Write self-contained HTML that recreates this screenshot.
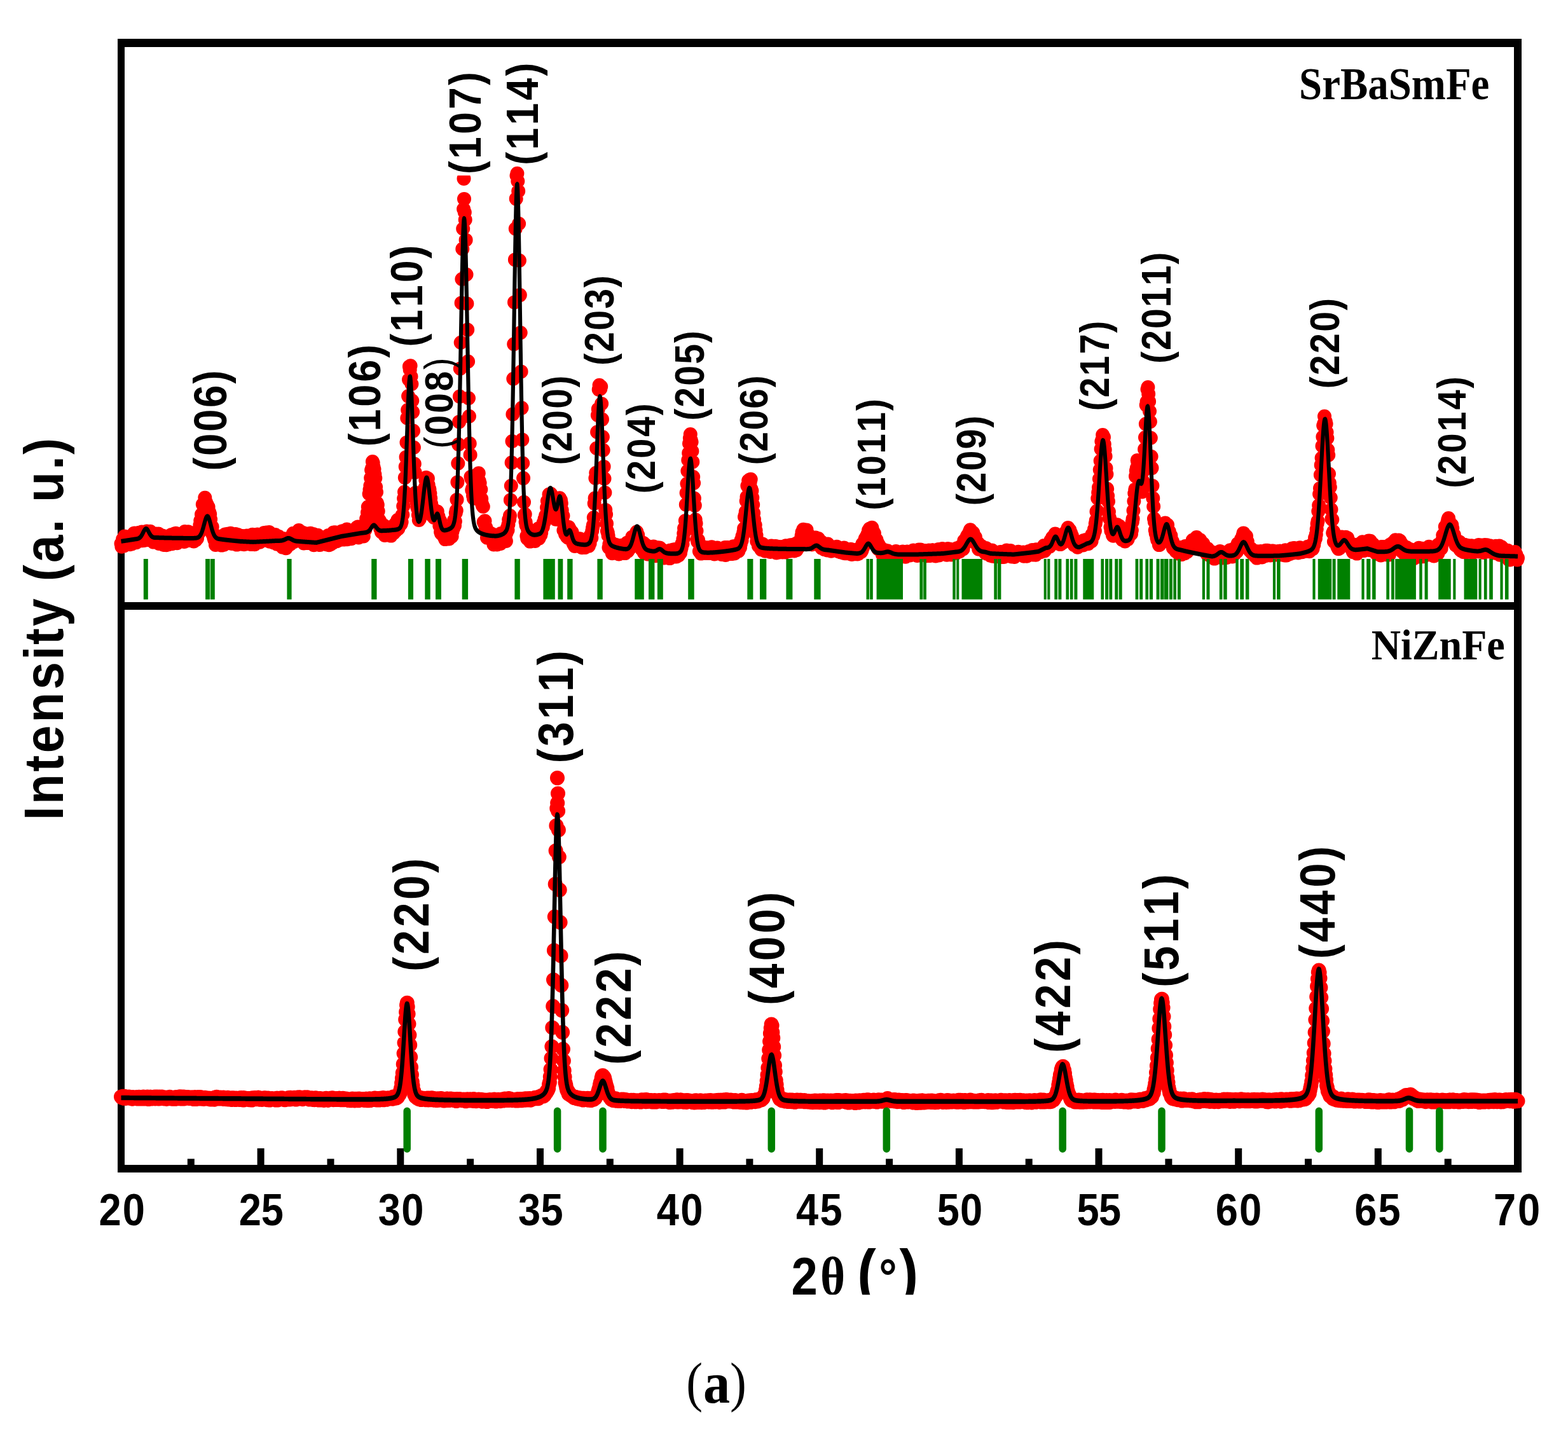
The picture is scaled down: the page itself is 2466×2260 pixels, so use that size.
<!DOCTYPE html>
<html lang="en"><head><meta charset="utf-8"><title>XRD patterns</title>
<style>html,body{margin:0;padding:0;background:#fff}svg{display:block}</style></head>
<body>
<svg width="2466" height="2260" viewBox="0 0 2466 2260" font-family="'Liberation Sans', sans-serif" fill="#000">
<rect width="2466" height="2260" fill="#fff"/>
<g id="frame" fill="#000">
<rect x="185" y="61" width="11" height="1783"/>
<rect x="2381" y="61" width="12" height="1783"/>
<rect x="185" y="61" width="2208" height="13"/>
<rect x="185" y="947" width="2208" height="12"/>
<rect x="185" y="1832" width="2208" height="12"/>
<rect x="294.8" y="1822.5" width="11" height="10.5"/>
<rect x="404.6" y="1806" width="11" height="27"/>
<rect x="514.5" y="1822.5" width="11" height="10.5"/>
<rect x="624.3" y="1806" width="11" height="27"/>
<rect x="734.1" y="1822.5" width="11" height="10.5"/>
<rect x="844.0" y="1806" width="11" height="27"/>
<rect x="953.8" y="1822.5" width="11" height="10.5"/>
<rect x="1063.6" y="1806" width="11" height="27"/>
<rect x="1173.4" y="1822.5" width="11" height="10.5"/>
<rect x="1283.2" y="1806" width="11" height="27"/>
<rect x="1393.1" y="1822.5" width="11" height="10.5"/>
<rect x="1502.9" y="1806" width="11" height="27"/>
<rect x="1612.7" y="1822.5" width="11" height="10.5"/>
<rect x="1722.5" y="1806" width="11" height="27"/>
<rect x="1832.4" y="1822.5" width="11" height="10.5"/>
<rect x="1942.2" y="1806" width="11" height="27"/>
<rect x="2052.0" y="1822.5" width="11" height="10.5"/>
<rect x="2161.8" y="1806" width="11" height="27"/>
<rect x="2271.7" y="1822.5" width="11" height="10.5"/>
</g>
<path id="top-data" d="M190.5 855.1h0M191.4 859.7h0M192.3 857.5h0M193.1 848h0M194 849h0M194.9 858.5h0M195.8 843.5h0M196.7 856.9h0M197.5 856.1h0M198.4 850.2h0M199.3 847h0M200.2 846.1h0M201 845.3h0M201.9 848.1h0M202.8 848.7h0M203.7 849.2h0M204.6 856.3h0M205.4 852.6h0M206.3 849.4h0M207.2 855.4h0M208.1 842h0M209 840.9h0M209.8 848.4h0M210.7 838.7h0M211.6 838.4h0M212.5 846.5h0M213.3 845.7h0M214.2 853.3h0M215.1 848.4h0M216 846.5h0M216.9 846.2h0M217.7 841.9h0M218.6 837.8h0M219.5 840.7h0M220.4 849h0M221.3 840.4h0M222.1 843.1h0M223 836.5h0M223.9 850.2h0M224.8 838.4h0M225.6 839.9h0M226.5 850h0M227.4 843.3h0M228.3 848.8h0M229.2 845h0M230 846.6h0M230.9 835.5h0M231.8 843.2h0M232.7 842.7h0M233.6 849.1h0M234.4 840.5h0M235.3 844.8h0M236.2 835.8h0M237.1 841.6h0M237.9 840.7h0M238.8 837.9h0M239.7 849.4h0M240.6 842.2h0M241.5 852.6h0M242.3 846.1h0M243.2 846.6h0M244.1 847.3h0M245 848.2h0M245.9 839.4h0M246.7 844.6h0M247.6 841.4h0M248.5 844.5h0M249.4 839.6h0M250.2 854.9h0M251.1 842.3h0M252 850.5h0M252.9 844.4h0M253.8 854.6h0M254.6 851.3h0M255.5 842.4h0M256.4 854.9h0M257.3 856.9h0M258.2 856.4h0M259 850.8h0M259.9 843.6h0M260.8 844.5h0M261.7 857.2h0M262.5 850.8h0M263.4 844.4h0M264.3 856.4h0M265.2 852.2h0M266.1 850.9h0M266.9 847.4h0M267.8 847.8h0M268.7 844.7h0M269.6 841h0M270.5 855.2h0M271.3 847.9h0M272.2 849h0M273.1 844.9h0M274 852h0M274.8 839.2h0M275.7 844.8h0M276.6 838.7h0M277.5 840h0M278.4 854.2h0M279.2 848.6h0M280.1 844.4h0M281 845.8h0M281.9 851.6h0M282.8 842.3h0M283.6 846.4h0M284.5 847.9h0M285.4 842.1h0M286.3 844.9h0M287.1 849.1h0M288 851.5h0M288.9 838.5h0M289.8 852h0M290.7 836h0M291.5 848.9h0M292.4 850h0M293.3 838.4h0M294.2 843.3h0M295.1 850.1h0M295.9 836.3h0M296.8 846.9h0M297.7 849.8h0M298.6 844.9h0M299.4 848.5h0M300.3 839.8h0M301.2 839.3h0M302.1 842h0M303 838.6h0M303.8 841.3h0M304.7 851.5h0M305.6 844.6h0M306.5 840h0M307.4 838.2h0M308.2 849.1h0M309.1 839.1h0M310 846.9h0M310.9 836.9h0M311.7 834.7h0M312.6 838.4h0M313.5 832.4h0M314.4 825.8h0M315.3 818.9h0M316.1 822.1h0M317 809.1h0M317.9 813h0M318.8 793.3h0M319.7 795h0M320.5 792.6h0M321.4 796.9h0M322.3 782.7h0M323.2 791.4h0M324 789.7h0M324.9 792.2h0M325.8 793.7h0M326.7 803.6h0M327.6 797.3h0M328.4 803.7h0M329.3 805.7h0M330.2 808.6h0M331.1 816.7h0M332 833.9h0M332.8 837.2h0M333.7 828.6h0M334.6 840.7h0M335.5 841.5h0M336.3 845.9h0M337.2 849h0M338.1 844.5h0M339 857h0M339.9 849.3h0M340.7 852.7h0M341.6 853.2h0M342.5 845.6h0M343.4 843.6h0M344.3 849.7h0M345.1 855.7h0M346 856.5h0M346.9 854.8h0M347.8 843.9h0M348.6 857.6h0M349.5 855.4h0M350.4 856.5h0M351.3 850h0M352.2 856.6h0M353 841.2h0M353.9 840.6h0M354.8 840.2h0M355.7 844h0M356.6 843.7h0M357.4 842.4h0M358.3 848.8h0M359.2 839.4h0M360.1 848.9h0M360.9 841.4h0M361.8 850.3h0M362.7 838.8h0M363.6 843.9h0M364.5 854.9h0M365.3 848h0M366.2 852.9h0M367.1 850.3h0M368 849.7h0M368.9 842.5h0M369.7 849.3h0M370.6 840.1h0M371.5 853.6h0M372.4 856.6h0M373.2 854.9h0M374.1 840.9h0M375 846.1h0M375.9 845.8h0M376.8 842.3h0M377.6 851.4h0M378.5 854.5h0M379.4 846h0M380.3 855.7h0M381.2 854.6h0M382 842.9h0M382.9 854.1h0M383.8 856.2h0M384.7 844.1h0M385.5 850.8h0M386.4 851.9h0M387.3 851.4h0M388.2 842.4h0M389.1 852.3h0M389.9 851.8h0M390.8 855.2h0M391.7 854.8h0M392.6 846.3h0M393.5 853.2h0M394.3 855.7h0M395.2 856.1h0M396.1 843.1h0M397 840.7h0M397.8 851.6h0M398.7 843.7h0M399.6 849.7h0M400.5 856.2h0M401.4 846.1h0M402.2 843.7h0M403.1 847.1h0M404 850.5h0M404.9 840.5h0M405.8 845.3h0M406.6 840.8h0M407.5 849.9h0M408.4 852.7h0M409.3 844.6h0M410.1 844.3h0M411 847.1h0M411.9 841.2h0M412.8 841.6h0M413.7 842.9h0M414.5 844.9h0M415.4 838.1h0M416.3 849.8h0M417.2 846.6h0M418.1 841.4h0M418.9 837.4h0M419.8 849.4h0M420.7 838.1h0M421.6 838.1h0M422.5 838h0M423.3 837.1h0M424.2 851.8h0M425.1 840.7h0M426 841.5h0M426.8 851.1h0M427.7 847.6h0M428.6 840.3h0M429.5 845.1h0M430.4 853.5h0M431.2 845h0M432.1 851.5h0M433 841.1h0M433.9 852.8h0M434.8 854.2h0M435.6 855.6h0M436.5 853.5h0M437.4 848.6h0M438.3 843.7h0M439.1 852.2h0M440 856.9h0M440.9 847.2h0M441.8 848.8h0M442.7 853.8h0M443.5 857.8h0M444.4 860.6h0M445.3 846.9h0M446.2 848h0M447.1 858.9h0M447.9 856.1h0M448.8 857.4h0M449.7 862.2h0M450.6 861h0M451.4 859.1h0M452.3 857.7h0M453.2 850.7h0M454.1 854.8h0M455 846.3h0M455.8 856.2h0M456.7 855.7h0M457.6 854.4h0M458.5 848.8h0M459.4 846.9h0M460.2 846.7h0M461.1 838.8h0M462 852.2h0M462.9 845.7h0M463.7 841.8h0M464.6 843.6h0M465.5 845.7h0M466.4 838.8h0M467.3 846.3h0M468.1 847.7h0M469 838.2h0M469.9 834h0M470.8 845.7h0M471.7 850.5h0M472.5 836h0M473.4 846.9h0M474.3 849.6h0M475.2 851.9h0M476 838.2h0M476.9 838h0M477.8 854.5h0M478.7 839.1h0M479.6 840.4h0M480.4 847.7h0M481.3 845.5h0M482.2 851h0M483.1 841.1h0M484 854.1h0M484.8 841.7h0M485.7 851.6h0M486.6 839.1h0M487.5 846.5h0M488.3 838.7h0M489.2 843.9h0M490.1 844h0M491 851.5h0M491.9 847h0M492.7 840.1h0M493.6 857.2h0M494.5 855.6h0M495.4 856.4h0M496.3 844.7h0M497.1 847.7h0M498 845h0M498.9 843.2h0M499.8 841.7h0M500.6 850.3h0M501.5 843.6h0M502.4 844.7h0M503.3 857.1h0M504.2 850.4h0M505 845.1h0M505.9 853.9h0M506.8 846.6h0M507.7 851.3h0M508.6 846.9h0M509.4 851h0M510.3 852.9h0M511.2 851.1h0M512.1 848.4h0M512.9 855.3h0M513.8 856.5h0M514.7 843.7h0M515.6 842.6h0M516.5 841.9h0M517.3 857.2h0M518.2 856.1h0M519.1 843h0M520 856h0M520.9 841.8h0M521.7 846.9h0M522.6 846.4h0M523.5 853.6h0M524.4 837.5h0M525.2 842.2h0M526.1 847.1h0M527 837.2h0M527.9 840h0M528.8 843.9h0M529.6 851.1h0M530.5 848.7h0M531.4 849.7h0M532.3 848.2h0M533.2 846.9h0M534 849.2h0M534.9 845.8h0M535.8 846.5h0M536.7 838.3h0M537.5 835.6h0M538.4 846h0M539.3 835.1h0M540.2 848.6h0M541.1 842.5h0M541.9 837.5h0M542.8 848.3h0M543.7 834h0M544.6 840.4h0M545.5 832.6h0M546.3 848.3h0M547.2 841.2h0M548.1 845.2h0M549 835.6h0M549.8 845h0M550.7 843.1h0M551.6 841.9h0M552.5 847.3h0M553.4 837.8h0M554.2 837.3h0M555.1 842.2h0M556 844.6h0M556.9 835.4h0M557.8 841.3h0M558.6 832.7h0M559.5 838.8h0M560.4 842.6h0M561.3 829.6h0M562.1 841.5h0M563 828.4h0M563.9 845.5h0M564.8 836.5h0M565.7 835.4h0M566.5 841h0M567.4 837.4h0M568.3 841.1h0M569.2 829.3h0M570.1 837.8h0M570.9 837.3h0M571.8 843.5h0M572.7 826.3h0M573.6 832.3h0M574.4 833.3h0M575.3 828.7h0M576.2 815.8h0M577.1 819.8h0M578 806.1h0M578.8 797.3h0M579.7 800h0M580.6 776.8h0M581.5 770h0M582.4 763.7h0M583.2 751.8h0M584.1 739.3h0M585 736.6h0M585.9 726h0M586.7 728.1h0M587.6 734.6h0M588.5 738.1h0M589.4 746h0M590.3 752h0M591.1 765.8h0M592 774h0M592.9 791h0M593.8 794.1h0M594.7 804.1h0M595.5 816.5h0M596.4 817.7h0M597.3 819.3h0M598.2 831.8h0M599 826.4h0M599.9 836.8h0M600.8 837.3h0M601.7 832.2h0M602.6 837.9h0M603.4 826.2h0M604.3 833.1h0M605.2 842h0M606.1 837.1h0M607 836.9h0M607.8 838.9h0M608.7 839.1h0M609.6 837.3h0M610.5 834.1h0M611.3 829.6h0M612.2 831.2h0M613.1 830.8h0M614 832.8h0M614.9 842.6h0M615.7 830.2h0M616.6 831.2h0M617.5 829.1h0M618.4 832.3h0M619.3 838.3h0M620.1 836.6h0M621 826.6h0M621.9 823.9h0M622.8 834.5h0M623.6 826.8h0M624.5 829.6h0M625.4 817.8h0M626.3 831.5h0M627.2 820.7h0M628 823h0M628.9 816.4h0M629.8 818.9h0M630.7 824.1h0M631.6 821h0M632.4 810.2h0M633.3 809.6h0M634.2 796h0M635.1 784h0M636 773.8h0M636.8 751.2h0M637.7 734h0M638.6 718.9h0M639.5 695.9h0M640.3 657.5h0M641.2 644.7h0M642.1 623.1h0M643 597h0M643.9 576.4h0M644.7 581.4h0M645.6 575.3h0M646.5 592.3h0M647.4 604h0M648.3 630.2h0M649.1 647.9h0M650 677.6h0M650.9 703.8h0M651.8 729.5h0M652.6 742.9h0M653.5 774.9h0M654.4 777.6h0M655.3 789.6h0M656.2 797.4h0M657 800h0M657.9 810.1h0M658.8 818h0M659.7 816.7h0M660.6 805.7h0M661.4 801.7h0M662.3 800.9h0M663.2 803.9h0M664.1 793h0M664.9 794.5h0M665.8 783h0M666.7 775.8h0M667.6 772.3h0M668.5 766.7h0M669.3 755.2h0M670.2 751.1h0M671.1 753.7h0M672 755.9h0M672.9 752.5h0M673.7 762.6h0M674.6 771.9h0M675.5 769.2h0M676.4 776.1h0M677.2 783.6h0M678.1 792.1h0M679 810.2h0M679.9 798.1h0M680.8 804.8h0M681.6 807h0M682.5 814h0M683.4 805.8h0M684.3 813.1h0M685.2 806.5h0M686 807h0M686.9 815.7h0M687.8 804.6h0M688.7 813.8h0M689.5 812.4h0M690.4 816h0M691.3 827h0M692.2 819h0M693.1 836.5h0M693.9 839h0M694.8 837.5h0M695.7 828.2h0M696.6 840.7h0M697.5 840.6h0M698.3 844.3h0M699.2 834.5h0M700.1 848.1h0M701 847h0M701.8 832.9h0M702.7 836.4h0M703.6 831.1h0M704.5 845.3h0M705.4 846.5h0M706.2 847.5h0M707.1 840.2h0M708 840.7h0M708.9 840.3h0M709.8 837.6h0M710.6 843.6h0M711.5 836.1h0M712.4 829.5h0M713.3 830.5h0M714.1 818.3h0M715 826.7h0M715.9 820h0M716.8 806.6h0M717.7 802.9h0M718.5 785.9h0M719.4 758.4h0M720.3 728.7h0M721.2 699h0M722.1 663.4h0M722.9 623.6h0M723.8 579.7h0M724.7 538.8h0M725.6 476.4h0M726.4 439h0M727.3 391.5h0M728.2 359.8h0M729.1 328.7h0M730 312.9h0M730.8 334h0M731.7 345.6h0M732.6 377.4h0M733.5 431.8h0M734.4 477.5h0M735.2 518.6h0M736.1 568.5h0M737 626.3h0M737.9 654.8h0M738.7 697.5h0M739.6 715.4h0M740.5 749.9h0M741.4 753.1h0M742.3 770.9h0M743.1 768h0M744 779.4h0M744.9 783.8h0M745.8 766.7h0M746.7 765.4h0M747.5 768.8h0M748.4 760.3h0M749.3 749.8h0M750.2 751.5h0M751 745.9h0M751.9 752.9h0M752.8 744.2h0M753.7 756.4h0M754.6 759.7h0M755.4 768.5h0M756.3 769.8h0M757.2 784.6h0M758.1 792.7h0M759 795.4h0M759.8 796.7h0M760.7 821h0M761.6 822.9h0M762.5 819.2h0M763.3 833.6h0M764.2 829.3h0M765.1 836h0M766 845.7h0M766.9 840.3h0M767.7 839h0M768.6 840.6h0M769.5 837.4h0M770.4 840.8h0M771.3 842.4h0M772.1 841.2h0M773 839.6h0M773.9 847.3h0M774.8 843.1h0M775.6 852.9h0M776.5 856.5h0M777.4 844.9h0M778.3 850.5h0M779.2 849.4h0M780 841.7h0M780.9 842.6h0M781.8 856.5h0M782.7 848.9h0M783.6 854.8h0M784.4 841.2h0M785.3 850.6h0M786.2 855.3h0M787.1 855h0M787.9 839.1h0M788.8 848.1h0M789.7 844.9h0M790.6 851.6h0M791.5 838.7h0M792.3 841.6h0M793.2 851h0M794.1 844h0M795 842.8h0M795.9 851h0M796.7 837.7h0M797.6 830.5h0M798.5 833.8h0M799.4 825h0M800.2 817.3h0M801.1 816.9h0M802 811h0M802.9 786.4h0M803.8 764h0M804.6 727.6h0M805.5 694h0M806.4 651.5h0M807.3 595.7h0M808.2 541.2h0M809 475.4h0M809.9 408.4h0M810.8 359.8h0M811.7 312.6h0M812.5 276.2h0M813.4 272.7h0M814.3 285h0M815.2 300.6h0M816.1 351.8h0M816.9 409.7h0M817.8 464.1h0M818.7 523.3h0M819.6 584.4h0M820.5 641.6h0M821.3 691.4h0M822.2 728.5h0M823.1 752.1h0M824 789.8h0M824.8 810.3h0M825.7 808.8h0M826.6 821.1h0M827.5 826.3h0M828.4 843h0M829.2 847h0M830.1 833.1h0M831 839.5h0M831.9 837.7h0M832.8 843.1h0M833.6 851.6h0M834.5 836.2h0M835.4 838h0M836.3 843.7h0M837.1 844.3h0M838 848.2h0M838.9 842.2h0M839.8 836.4h0M840.7 840h0M841.5 851h0M842.4 846.5h0M843.3 834.6h0M844.2 846.8h0M845.1 837.4h0M845.9 845.6h0M846.8 831.2h0M847.7 846.6h0M848.6 833.5h0M849.5 838.4h0M850.3 841.6h0M851.2 838h0M852.1 830.6h0M853 828.5h0M853.8 829h0M854.7 822.1h0M855.6 821.9h0M856.5 816.4h0M857.4 817.9h0M858.2 810.9h0M859.1 809.6h0M860 798.3h0M860.9 788h0M861.8 787.9h0M862.6 790.7h0M863.5 777.6h0M864.4 777.5h0M865.3 782.6h0M866.1 776.6h0M867 787.2h0M867.9 791h0M868.8 784.2h0M869.7 796.7h0M870.5 792.8h0M871.4 795.2h0M872.3 804.2h0M873.2 809.7h0M874.1 816.7h0M874.9 801.7h0M875.8 809.9h0M876.7 802.3h0M877.6 792.1h0M878.4 803.4h0M879.3 795.2h0M880.2 783.3h0M881.1 798.1h0M882 786.6h0M882.8 791.5h0M883.7 802.4h0M884.6 820.6h0M885.5 811.3h0M886.4 834h0M887.2 833.9h0M888.1 828.2h0M889 840.2h0M889.9 839.7h0M890.7 841.9h0M891.6 844.3h0M892.5 841.8h0M893.4 845.8h0M894.3 828.9h0M895.1 839.7h0M896 832.1h0M896.9 839.6h0M897.8 843.2h0M898.7 847.3h0M899.5 836.7h0M900.4 842.7h0M901.3 854h0M902.2 856.1h0M903 847.4h0M903.9 858.9h0M904.8 850.3h0M905.7 850.4h0M906.6 857.8h0M907.4 853.1h0M908.3 853h0M909.2 852.2h0M910.1 853.3h0M911 848.4h0M911.8 847.2h0M912.7 859.8h0M913.6 856.7h0M914.5 858.8h0M915.3 861.3h0M916.2 851.3h0M917.1 851.5h0M918 852.4h0M918.9 853h0M919.7 861.1h0M920.6 854.2h0M921.5 853.2h0M922.4 858.5h0M923.3 850.3h0M924.1 848.6h0M925 858.5h0M925.9 858.8h0M926.8 849.9h0M927.6 854.6h0M928.5 842.4h0M929.4 846.4h0M930.3 845.9h0M931.2 835.3h0M932 830.3h0M932.9 825.9h0M933.8 814h0M934.7 791.8h0M935.6 783.6h0M936.4 752h0M937.3 743.7h0M938.2 705h0M939.1 679.5h0M939.9 653h0M940.8 643.4h0M941.7 612.6h0M942.6 605.8h0M943.5 608.1h0M944.3 611.5h0M945.2 608.1h0M946.1 634.9h0M947 659.6h0M947.9 687.3h0M948.7 708h0M949.6 733.9h0M950.5 752.7h0M951.4 774.8h0M952.2 801.9h0M953.1 809.1h0M954 823.4h0M954.9 835.1h0M955.8 837.8h0M956.6 842.5h0M957.5 861.3h0M958.4 855.8h0M959.3 853.9h0M960.2 863.7h0M961 853.1h0M961.9 857.8h0M962.8 870.3h0M963.7 869.7h0M964.5 865.7h0M965.4 857.1h0M966.3 861.1h0M967.2 856.6h0M968.1 860h0M968.9 856.9h0M969.8 858.7h0M970.7 867.1h0M971.6 858.5h0M972.5 859.4h0M973.3 871.5h0M974.2 862.2h0M975.1 862.1h0M976 858h0M976.8 869.4h0M977.7 867.3h0M978.6 865h0M979.5 865.9h0M980.4 857.3h0M981.2 859.6h0M982.1 864.5h0M983 870.1h0M983.9 867.6h0M984.8 864.4h0M985.6 862h0M986.5 853.4h0M987.4 866.7h0M988.3 852.9h0M989.1 853.1h0M990 861.2h0M990.9 862h0M991.8 860.4h0M992.7 853.8h0M993.5 848.1h0M994.4 844.4h0M995.3 855.7h0M996.2 856.1h0M997.1 843.2h0M997.9 851.7h0M998.8 843.4h0M999.7 841.4h0M1000.6 844.1h0M1001.4 836.6h0M1002.3 844h0M1003.2 841.3h0M1004.1 850.6h0M1005 849h0M1005.8 856.4h0M1006.7 858.6h0M1007.6 851.4h0M1008.5 852.5h0M1009.4 864.2h0M1010.2 858.9h0M1011.1 853.8h0M1012 854.1h0M1012.9 869.4h0M1013.7 863.8h0M1014.6 856.4h0M1015.5 863.8h0M1016.4 864h0M1017.3 863.3h0M1018.1 871.3h0M1019 871.6h0M1019.9 859.4h0M1020.8 860.1h0M1021.7 864.2h0M1022.5 870.8h0M1023.4 867.8h0M1024.3 869.6h0M1025.2 867.5h0M1026 862.2h0M1026.9 871.4h0M1027.8 859.5h0M1028.7 869.8h0M1029.6 862.5h0M1030.4 866.7h0M1031.3 874.3h0M1032.2 868h0M1033.1 861h0M1034 866.6h0M1034.8 870.2h0M1035.7 861.5h0M1036.6 864.6h0M1037.5 861.4h0M1038.3 869.3h0M1039.2 867.3h0M1040.1 869.4h0M1041 866.6h0M1041.9 872.2h0M1042.7 865.5h0M1043.6 876.4h0M1044.5 877.5h0M1045.4 871.1h0M1046.3 870.9h0M1047.1 876.8h0M1048 868.8h0M1048.9 876.3h0M1049.8 869.1h0M1050.6 875.3h0M1051.5 869.8h0M1052.4 873.6h0M1053.3 878.1h0M1054.2 865.6h0M1055 876h0M1055.9 872.1h0M1056.8 869.5h0M1057.7 868.8h0M1058.6 864.6h0M1059.4 866.9h0M1060.3 871.7h0M1061.2 864h0M1062.1 871.7h0M1062.9 875.5h0M1063.8 875.4h0M1064.7 873.8h0M1065.6 872.3h0M1066.5 863h0M1067.3 873.5h0M1068.2 862.3h0M1069.1 870.7h0M1070 869.8h0M1070.9 865h0M1071.7 861.7h0M1072.6 854.8h0M1073.5 855.6h0M1074.4 847.7h0M1075.3 839.1h0M1076.1 830.9h0M1077 829.8h0M1077.9 818.9h0M1078.8 793.6h0M1079.6 775.3h0M1080.5 760.8h0M1081.4 740.7h0M1082.3 723.5h0M1083.2 712.6h0M1084 697.5h0M1084.9 689h0M1085.8 683h0M1086.7 692h0M1087.6 695.3h0M1088.4 709.5h0M1089.3 726.4h0M1090.2 750h0M1091.1 759.7h0M1091.9 783.8h0M1092.8 794.9h0M1093.7 817.3h0M1094.6 823.3h0M1095.5 835.1h0M1096.3 848.3h0M1097.2 852h0M1098.1 849.3h0M1099 853.4h0M1099.9 867.1h0M1100.7 856.4h0M1101.6 861.2h0M1102.5 870.6h0M1103.4 859h0M1104.2 861.3h0M1105.1 862.3h0M1106 860.8h0M1106.9 865.8h0M1107.8 867.4h0M1108.6 863.9h0M1109.5 861.1h0M1110.4 870.1h0M1111.3 869.9h0M1112.2 866.7h0M1113 861.2h0M1113.9 866.3h0M1114.8 867.3h0M1115.7 864.6h0M1116.5 870.1h0M1117.4 864h0M1118.3 865.4h0M1119.2 860.3h0M1120.1 866h0M1120.9 868.6h0M1121.8 868.1h0M1122.7 862.1h0M1123.6 871.5h0M1124.5 868.1h0M1125.3 864.4h0M1126.2 864.3h0M1127.1 869h0M1128 861.5h0M1128.8 867.5h0M1129.7 868.6h0M1130.6 866.2h0M1131.5 870.8h0M1132.4 865.9h0M1133.2 866h0M1134.1 863.8h0M1135 871.9h0M1135.9 864.4h0M1136.8 869.2h0M1137.6 865.7h0M1138.5 872.3h0M1139.4 872.5h0M1140.3 861h0M1141.1 873h0M1142 868.1h0M1142.9 861.5h0M1143.8 866.7h0M1144.7 861h0M1145.5 867.1h0M1146.4 862.5h0M1147.3 864.6h0M1148.2 863.7h0M1149.1 867.3h0M1149.9 869.9h0M1150.8 871.1h0M1151.7 863.5h0M1152.6 866.3h0M1153.4 859.2h0M1154.3 863.5h0M1155.2 870.5h0M1156.1 859.9h0M1157 868.9h0M1157.8 865.9h0M1158.7 861.1h0M1159.6 866.6h0M1160.5 860.1h0M1161.4 866.7h0M1162.2 855.9h0M1163.1 855.1h0M1164 861.3h0M1164.9 855.5h0M1165.7 849.2h0M1166.6 850.3h0M1167.5 843.4h0M1168.4 841.2h0M1169.3 837.3h0M1170.1 831.2h0M1171 813h0M1171.9 810.1h0M1172.8 804.7h0M1173.7 788h0M1174.5 781.6h0M1175.4 764.1h0M1176.3 765.4h0M1177.2 755.9h0M1178 756.2h0M1178.9 754.6h0M1179.8 758.1h0M1180.7 753.7h0M1181.6 769.1h0M1182.4 771.9h0M1183.3 782.7h0M1184.2 793.7h0M1185.1 806.9h0M1186 816.9h0M1186.8 829.1h0M1187.7 825.7h0M1188.6 834.3h0M1189.5 841.7h0M1190.3 851.4h0M1191.2 851.6h0M1192.1 853.8h0M1193 858.7h0M1193.9 858.9h0M1194.7 855.7h0M1195.6 854.2h0M1196.5 859.2h0M1197.4 864.5h0M1198.3 861.6h0M1199.1 855.4h0M1200 860.2h0M1200.9 859.8h0M1201.8 862.2h0M1202.6 862.4h0M1203.5 866.8h0M1204.4 859.8h0M1205.3 860.7h0M1206.2 863.2h0M1207 866.4h0M1207.9 864.4h0M1208.8 861.8h0M1209.7 865.9h0M1210.6 862.2h0M1211.4 867.9h0M1212.3 860.1h0M1213.2 858.5h0M1214.1 866.7h0M1214.9 860.8h0M1215.8 867.2h0M1216.7 864.6h0M1217.6 863.6h0M1218.5 858.9h0M1219.3 867.1h0M1220.2 859h0M1221.1 869.4h0M1222 868.5h0M1222.9 862h0M1223.7 860h0M1224.6 868.7h0M1225.5 864.1h0M1226.4 860h0M1227.2 864.2h0M1228.1 861.3h0M1229 863h0M1229.9 865.5h0M1230.8 868.5h0M1231.6 867h0M1232.5 859.6h0M1233.4 863h0M1234.3 863h0M1235.2 868.5h0M1236 858.2h0M1236.9 862.8h0M1237.8 867.1h0M1238.7 861.2h0M1239.5 859.6h0M1240.4 862.8h0M1241.3 860h0M1242.2 866.7h0M1243.1 857.3h0M1243.9 858.6h0M1244.8 857.2h0M1245.7 864.2h0M1246.6 859.5h0M1247.5 866.2h0M1248.3 866h0M1249.2 866.4h0M1250.1 858.7h0M1251 855.6h0M1251.8 859.5h0M1252.7 865.2h0M1253.6 862.3h0M1254.5 853.6h0M1255.4 859.4h0M1256.2 860.2h0M1257.1 858.9h0M1258 854h0M1258.9 853.2h0M1259.8 850.4h0M1260.6 842.5h0M1261.5 837h0M1262.4 841.4h0M1263.3 832.7h0M1264.1 833.6h0M1265 839h0M1265.9 833.8h0M1266.8 833.6h0M1267.7 839.1h0M1268.5 833.4h0M1269.4 843.1h0M1270.3 844.4h0M1271.2 840.8h0M1272.1 842.8h0M1272.9 842.8h0M1273.8 853.2h0M1274.7 846.9h0M1275.6 846.2h0M1276.4 856.4h0M1277.3 853.7h0M1278.2 854.5h0M1279.1 854.9h0M1280 847.1h0M1280.8 847h0M1281.7 850.8h0M1282.6 845.6h0M1283.5 850.1h0M1284.4 852.6h0M1285.2 852.1h0M1286.1 852.2h0M1287 847h0M1287.9 849.9h0M1288.8 857.9h0M1289.6 850.8h0M1290.5 856.1h0M1291.4 851.9h0M1292.3 862h0M1293.1 854.6h0M1294 857.7h0M1294.9 859.6h0M1295.8 861.7h0M1296.7 864.3h0M1297.5 862.4h0M1298.4 858.5h0M1299.3 855.8h0M1300.2 862.5h0M1301.1 865.4h0M1301.9 855.6h0M1302.8 863.6h0M1303.7 857.6h0M1304.6 860.7h0M1305.4 861.6h0M1306.3 862.7h0M1307.2 866.8h0M1308.1 863.9h0M1309 861h0M1309.8 864.5h0M1310.7 862.1h0M1311.6 861.7h0M1312.5 861.4h0M1313.4 862.9h0M1314.2 860.8h0M1315.1 860.6h0M1316 859.7h0M1316.9 862.9h0M1317.7 861.5h0M1318.6 867.3h0M1319.5 867.5h0M1320.4 862.4h0M1321.3 865.4h0M1322.1 868.4h0M1323 862.9h0M1323.9 865.1h0M1324.8 864.1h0M1325.7 866.4h0M1326.5 869.8h0M1327.4 861.5h0M1328.3 870.3h0M1329.2 867.3h0M1330 868.9h0M1330.9 867.5h0M1331.8 870.2h0M1332.7 864.8h0M1333.6 869.1h0M1334.4 864.8h0M1335.3 867.6h0M1336.2 869.7h0M1337.1 864.9h0M1338 863.7h0M1338.8 871.6h0M1339.7 872h0M1340.6 870.7h0M1341.5 867.3h0M1342.3 871h0M1343.2 865.1h0M1344.1 871.2h0M1345 870.4h0M1345.9 870.8h0M1346.7 869h0M1347.6 866.5h0M1348.5 871.5h0M1349.4 868.3h0M1350.3 870.7h0M1351.1 866h0M1352 862.3h0M1352.9 866.1h0M1353.8 865.8h0M1354.6 867.6h0M1355.5 865.8h0M1356.4 855.4h0M1357.3 861h0M1358.2 853.6h0M1359 855.8h0M1359.9 850.1h0M1360.8 847h0M1361.7 846.2h0M1362.6 844.1h0M1363.4 843.4h0M1364.3 840.5h0M1365.2 838.8h0M1366.1 834h0M1366.9 835.7h0M1367.8 831.4h0M1368.7 833.7h0M1369.6 832.4h0M1370.5 834.2h0M1371.3 829.7h0M1372.2 836.4h0M1373.1 835.5h0M1374 839.5h0M1374.9 838.7h0M1375.7 847.3h0M1376.6 852.3h0M1377.5 849.2h0M1378.4 848.9h0M1379.2 856.5h0M1380.1 853.5h0M1381 863.3h0M1381.9 856.9h0M1382.8 860.9h0M1383.6 863.5h0M1384.5 860.7h0M1385.4 863.7h0M1386.3 864h0M1387.2 869.1h0M1388 872.5h0M1388.9 866.5h0M1389.8 871.3h0M1390.7 864.9h0M1391.5 869.8h0M1392.4 868.5h0M1393.3 867.2h0M1394.2 873h0M1395.1 872.5h0M1395.9 866.3h0M1396.8 868.2h0M1397.7 873.8h0M1398.6 875.8h0M1399.5 872h0M1400.3 874.9h0M1401.2 876.3h0M1402.1 873.9h0M1403 873h0M1403.8 868.7h0M1404.7 870.4h0M1405.6 873.1h0M1406.5 876.4h0M1407.4 869.9h0M1408.2 871h0M1409.1 867.1h0M1410 874.2h0M1410.9 871.6h0M1411.8 875.2h0M1412.6 869.4h0M1413.5 873.8h0M1414.4 873.9h0M1415.3 871.7h0M1416.1 868.7h0M1417 870.9h0M1417.9 874.4h0M1418.8 868.5h0M1419.7 867.4h0M1420.5 871.2h0M1421.4 868.7h0M1422.3 874.4h0M1423.2 874.5h0M1424.1 875.7h0M1424.9 874.5h0M1425.8 872.3h0M1426.7 867.4h0M1427.6 873.9h0M1428.4 872.7h0M1429.3 872.8h0M1430.2 872.1h0M1431.1 873.4h0M1432 867.7h0M1432.8 871.5h0M1433.7 869.7h0M1434.6 867.7h0M1435.5 867.5h0M1436.4 865.6h0M1437.2 869h0M1438.1 867.7h0M1439 868.2h0M1439.9 872.6h0M1440.7 870.8h0M1441.6 870.8h0M1442.5 873.9h0M1443.4 865.9h0M1444.3 868.9h0M1445.1 864.6h0M1446 867.8h0M1446.9 873.6h0M1447.8 864.6h0M1448.7 871.6h0M1449.5 872.7h0M1450.4 869.1h0M1451.3 872.1h0M1452.2 868.4h0M1453 867.5h0M1453.9 869.1h0M1454.8 865.9h0M1455.7 867.1h0M1456.6 867h0M1457.4 874.2h0M1458.3 867.4h0M1459.2 866.3h0M1460.1 873.7h0M1461 865.4h0M1461.8 874.1h0M1462.7 873h0M1463.6 870.8h0M1464.5 868.6h0M1465.3 866.2h0M1466.2 865.3h0M1467.1 865.3h0M1468 867.9h0M1468.9 868.5h0M1469.7 873.8h0M1470.6 869.8h0M1471.5 874.4h0M1472.4 871.6h0M1473.3 865.5h0M1474.1 869.7h0M1475 865.5h0M1475.9 864.1h0M1476.8 873.4h0M1477.6 867h0M1478.5 865.3h0M1479.4 864.3h0M1480.3 869.9h0M1481.2 867.8h0M1482 863h0M1482.9 870.3h0M1483.8 865.4h0M1484.7 870.7h0M1485.6 867.6h0M1486.4 868.1h0M1487.3 867.2h0M1488.2 869.5h0M1489.1 872.7h0M1489.9 870.7h0M1490.8 863.1h0M1491.7 867.6h0M1492.6 864.8h0M1493.5 863.5h0M1494.3 864.4h0M1495.2 865h0M1496.1 872.4h0M1497 870.1h0M1497.9 871.2h0M1498.7 869.6h0M1499.6 865.5h0M1500.5 866.2h0M1501.4 866.6h0M1502.2 865h0M1503.1 866.1h0M1504 869.6h0M1504.9 862.2h0M1505.8 864.1h0M1506.6 865.9h0M1507.5 867.6h0M1508.4 866.8h0M1509.3 867.1h0M1510.2 859.9h0M1511 859.9h0M1511.9 860.2h0M1512.8 858.8h0M1513.7 862.5h0M1514.6 863.5h0M1515.4 858.7h0M1516.3 850.2h0M1517.2 851.1h0M1518.1 854.4h0M1518.9 853.7h0M1519.8 848.3h0M1520.7 843.8h0M1521.6 842.1h0M1522.5 843.4h0M1523.3 844.4h0M1524.2 837.8h0M1525.1 835.5h0M1526 833.2h0M1526.9 834.7h0M1527.7 842.5h0M1528.6 841h0M1529.5 845.9h0M1530.4 837.7h0M1531.2 842.4h0M1532.1 848.6h0M1533 849h0M1533.9 844.7h0M1534.8 850h0M1535.6 854.2h0M1536.5 856.4h0M1537.4 855.6h0M1538.3 854.3h0M1539.2 863.7h0M1540 859.7h0M1540.9 863.4h0M1541.8 862.4h0M1542.7 858.5h0M1543.5 860.8h0M1544.4 859.6h0M1545.3 861.4h0M1546.2 862h0M1547.1 864.6h0M1547.9 863.9h0M1548.8 864.6h0M1549.7 869.8h0M1550.6 861.9h0M1551.5 863.2h0M1552.3 870.9h0M1553.2 868.4h0M1554.1 867.8h0M1555 866.4h0M1555.8 869.6h0M1556.7 866.6h0M1557.6 873.6h0M1558.5 873.5h0M1559.4 868.5h0M1560.2 865.5h0M1561.1 874.7h0M1562 868.7h0M1562.9 872.6h0M1563.8 874.9h0M1564.6 874.4h0M1565.5 875.2h0M1566.4 871.4h0M1567.3 875.2h0M1568.1 871.3h0M1569 869.3h0M1569.9 871.5h0M1570.8 870h0M1571.7 874.5h0M1572.5 875.2h0M1573.4 867.9h0M1574.3 868.1h0M1575.2 870.3h0M1576.1 871.1h0M1576.9 876.1h0M1577.8 875.9h0M1578.7 876h0M1579.6 873.5h0M1580.4 872.8h0M1581.3 868.5h0M1582.2 869.5h0M1583.1 865.6h0M1584 874.2h0M1584.8 868.4h0M1585.7 866.4h0M1586.6 868.9h0M1587.5 869.1h0M1588.4 873.3h0M1589.2 866h0M1590.1 868.4h0M1591 875.5h0M1591.9 875.2h0M1592.7 873.1h0M1593.6 872.5h0M1594.5 869.1h0M1595.4 876h0M1596.3 874.8h0M1597.1 872.3h0M1598 868.7h0M1598.9 869.3h0M1599.8 871h0M1600.7 870.5h0M1601.5 867.7h0M1602.4 871.3h0M1603.3 871.7h0M1604.2 870h0M1605 870.9h0M1605.9 870.3h0M1606.8 870.7h0M1607.7 873.1h0M1608.6 871.8h0M1609.4 868.6h0M1610.3 874.7h0M1611.2 871.7h0M1612.1 871h0M1613 873.5h0M1613.8 873.8h0M1614.7 874.7h0M1615.6 874.2h0M1616.5 872.6h0M1617.3 873.1h0M1618.2 867.1h0M1619.1 872.7h0M1620 867.9h0M1620.9 867.9h0M1621.7 866.3h0M1622.6 869.1h0M1623.5 865.1h0M1624.4 871.6h0M1625.3 872.4h0M1626.1 872.6h0M1627 865.7h0M1627.9 870.9h0M1628.8 872.8h0M1629.6 864.3h0M1630.5 865.8h0M1631.4 866.4h0M1632.3 868.2h0M1633.2 865h0M1634 868.3h0M1634.9 865.8h0M1635.8 868.4h0M1636.7 866.6h0M1637.6 867.6h0M1638.4 862.4h0M1639.3 866.6h0M1640.2 866.2h0M1641.1 865.5h0M1641.9 858h0M1642.8 866.4h0M1643.7 861.9h0M1644.6 858h0M1645.5 859.4h0M1646.3 859.9h0M1647.2 859.5h0M1648.1 856.3h0M1649 855.9h0M1649.9 856.2h0M1650.7 859.8h0M1651.6 855.2h0M1652.5 849.9h0M1653.4 852.9h0M1654.2 848.8h0M1655.1 845.2h0M1656 853.6h0M1656.9 844.9h0M1657.8 846.1h0M1658.6 843.3h0M1659.5 839.6h0M1660.4 848.4h0M1661.3 849.3h0M1662.2 842.5h0M1663 846.2h0M1663.9 847.3h0M1664.8 846.6h0M1665.7 853.1h0M1666.5 855.6h0M1667.4 856.1h0M1668.3 855.7h0M1669.2 848.9h0M1670.1 850.6h0M1670.9 852.7h0M1671.8 853.3h0M1672.7 848.3h0M1673.6 847h0M1674.5 848.8h0M1675.3 837.9h0M1676.2 838.2h0M1677.1 836.2h0M1678 841.8h0M1678.8 832.5h0M1679.7 830h0M1680.6 834h0M1681.5 837.2h0M1682.4 833.5h0M1683.2 842.6h0M1684.1 838.1h0M1685 845.7h0M1685.9 842.5h0M1686.8 852.3h0M1687.6 847.3h0M1688.5 854.6h0M1689.4 857.3h0M1690.3 852.5h0M1691.1 851.8h0M1692 857.7h0M1692.9 857.3h0M1693.8 857.4h0M1694.7 860.8h0M1695.5 857.6h0M1696.4 857.9h0M1697.3 857.7h0M1698.2 856.9h0M1699.1 855.9h0M1699.9 852.9h0M1700.8 853.8h0M1701.7 853h0M1702.6 852.3h0M1703.4 857.4h0M1704.3 849.9h0M1705.2 850.3h0M1706.1 853.2h0M1707 850.4h0M1707.8 849.1h0M1708.7 849.9h0M1709.6 850.9h0M1710.5 852.4h0M1711.4 855.3h0M1712.2 853.7h0M1713.1 848.7h0M1714 848.4h0M1714.9 847.4h0M1715.7 844.7h0M1716.6 851.3h0M1717.5 840.6h0M1718.4 840.3h0M1719.3 843h0M1720.1 839.4h0M1721 832.4h0M1721.9 834.9h0M1722.8 823.5h0M1723.7 818.5h0M1724.5 804.6h0M1725.4 803.4h0M1726.3 783.7h0M1727.2 774.5h0M1728 766.5h0M1728.9 753.2h0M1729.8 738.9h0M1730.7 724.7h0M1731.6 706.3h0M1732.4 694.2h0M1733.3 691.8h0M1734.2 684h0M1735.1 694.1h0M1736 687.6h0M1736.8 698.5h0M1737.7 707.4h0M1738.6 717.5h0M1739.5 736.4h0M1740.4 745.7h0M1741.2 768.8h0M1742.1 779.8h0M1743 788.6h0M1743.9 804.9h0M1744.7 813.9h0M1745.6 816.7h0M1746.5 829.1h0M1747.4 835.1h0M1748.3 835.3h0M1749.1 834.7h0M1750 842.1h0M1750.9 842.7h0M1751.8 835.3h0M1752.7 831h0M1753.5 838h0M1754.4 833.6h0M1755.3 826.8h0M1756.2 829.1h0M1757 825.3h0M1757.9 832.5h0M1758.8 826.9h0M1759.7 827.1h0M1760.6 827.6h0M1761.4 833.6h0M1762.3 843.5h0M1763.2 836.9h0M1764.1 841.5h0M1765 849h0M1765.8 839h0M1766.7 843.2h0M1767.6 849.8h0M1768.5 841.7h0M1769.3 851.5h0M1770.2 850.4h0M1771.1 842.3h0M1772 847.4h0M1772.9 846.7h0M1773.7 848.1h0M1774.6 843.2h0M1775.5 843.3h0M1776.4 840.4h0M1777.3 839.2h0M1778.1 835h0M1779 839.7h0M1779.9 834.1h0M1780.8 820.9h0M1781.6 816h0M1782.5 803h0M1783.4 788.3h0M1784.3 775.8h0M1785.2 769.5h0M1786 749h0M1786.9 740.4h0M1787.8 736.3h0M1788.7 723.9h0M1789.6 729.7h0M1790.4 725.1h0M1791.3 739.5h0M1792.2 749.1h0M1793.1 758.3h0M1793.9 767.5h0M1794.8 769.2h0M1795.7 773.6h0M1796.6 762h0M1797.5 756.9h0M1798.3 740.5h0M1799.2 722.2h0M1800.1 706.5h0M1801 688.1h0M1801.9 666.7h0M1802.7 637.1h0M1803.6 631.7h0M1804.5 612.3h0M1805.4 609h0M1806.2 619.5h0M1807.1 631.4h0M1808 646.7h0M1808.9 663.2h0M1809.8 688.7h0M1810.6 718h0M1811.5 736.1h0M1812.4 763.9h0M1813.3 783.5h0M1814.2 796.5h0M1815 815.8h0M1815.9 820.7h0M1816.8 833.9h0M1817.7 839.1h0M1818.5 840.1h0M1819.4 846.1h0M1820.3 849.4h0M1821.2 850.1h0M1822.1 845.7h0M1822.9 857.1h0M1823.8 856.6h0M1824.7 844.3h0M1825.6 854.5h0M1826.5 847.6h0M1827.3 840.3h0M1828.2 846.5h0M1829.1 838.7h0M1830 839.1h0M1830.8 837.5h0M1831.7 831h0M1832.6 822.5h0M1833.5 830.8h0M1834.4 828.7h0M1835.2 832h0M1836.1 825.5h0M1837 834.7h0M1837.9 839h0M1838.8 835.9h0M1839.6 840.4h0M1840.5 843h0M1841.4 842.2h0M1842.3 848.2h0M1843.1 852.2h0M1844 851.6h0M1844.9 861.9h0M1845.8 859.1h0M1846.7 862.1h0M1847.5 859.4h0M1848.4 861.2h0M1849.3 866.9h0M1850.2 863.8h0M1851.1 865.9h0M1851.9 864h0M1852.8 866.1h0M1853.7 870.8h0M1854.6 862.9h0M1855.4 866.3h0M1856.3 868.6h0M1857.2 860.9h0M1858.1 872.1h0M1859 866h0M1859.8 862.6h0M1860.7 869h0M1861.6 869.5h0M1862.5 866.8h0M1863.4 870.1h0M1864.2 859h0M1865.1 864.1h0M1866 866.4h0M1866.9 868h0M1867.7 863.9h0M1868.6 862.7h0M1869.5 859.2h0M1870.4 860.8h0M1871.3 859.8h0M1872.1 863.5h0M1873 861.7h0M1873.9 859.7h0M1874.8 861.3h0M1875.7 849.6h0M1876.5 857.7h0M1877.4 853.1h0M1878.3 856h0M1879.2 849.6h0M1880 851.3h0M1880.9 855.3h0M1881.8 845.1h0M1882.7 848.1h0M1883.6 850.6h0M1884.4 855.3h0M1885.3 848.2h0M1886.2 855.6h0M1887.1 848.9h0M1888 850.4h0M1888.8 854.4h0M1889.7 856.6h0M1890.6 860.5h0M1891.5 861.6h0M1892.3 855h0M1893.2 862.4h0M1894.1 862.3h0M1895 860.4h0M1895.9 866.5h0M1896.7 869.2h0M1897.6 865.2h0M1898.5 871.7h0M1899.4 863h0M1900.3 864.4h0M1901.1 872.7h0M1902 867.8h0M1902.9 872h0M1903.8 871.5h0M1904.6 867.7h0M1905.5 875.7h0M1906.4 875.8h0M1907.3 868.8h0M1908.2 870.4h0M1909 877.1h0M1909.9 878.6h0M1910.8 878h0M1911.7 873.5h0M1912.6 871.7h0M1913.4 872.5h0M1914.3 869.1h0M1915.2 872.9h0M1916.1 869.4h0M1916.9 868.4h0M1917.8 870.9h0M1918.7 866.9h0M1919.6 871.7h0M1920.5 874.3h0M1921.3 873.6h0M1922.2 877.4h0M1923.1 876.3h0M1924 873.1h0M1924.9 876.3h0M1925.7 870.7h0M1926.6 875h0M1927.5 868.7h0M1928.4 871.6h0M1929.2 877h0M1930.1 872.4h0M1931 871.3h0M1931.9 874.6h0M1932.8 868.9h0M1933.6 875.1h0M1934.5 865.3h0M1935.4 867.8h0M1936.3 866.9h0M1937.2 867.6h0M1938 875.5h0M1938.9 864.1h0M1939.8 866.9h0M1940.7 869.6h0M1941.5 870.5h0M1942.4 870.4h0M1943.3 864.7h0M1944.2 861.6h0M1945.1 867.7h0M1945.9 857.4h0M1946.8 854.9h0M1947.7 854.9h0M1948.6 855.9h0M1949.5 859.1h0M1950.3 854.4h0M1951.2 850.3h0M1952.1 847.9h0M1953 848.2h0M1953.9 846h0M1954.7 841.7h0M1955.6 838.4h0M1956.5 839.8h0M1957.4 847.3h0M1958.2 846.7h0M1959.1 850.2h0M1960 843.3h0M1960.9 855.5h0M1961.8 851.7h0M1962.6 860.3h0M1963.5 858.8h0M1964.4 860.5h0M1965.3 865.6h0M1966.2 865.3h0M1967 867.5h0M1967.9 863.2h0M1968.8 869.4h0M1969.7 867.7h0M1970.5 865.5h0M1971.4 866.8h0M1972.3 871.1h0M1973.2 869.1h0M1974.1 874.9h0M1974.9 868.1h0M1975.8 867.1h0M1976.7 877.6h0M1977.6 870.3h0M1978.5 872.4h0M1979.3 869.2h0M1980.2 869.1h0M1981.1 871h0M1982 874.9h0M1982.8 867.1h0M1983.7 875.1h0M1984.6 876.5h0M1985.5 872h0M1986.4 869.8h0M1987.2 868.4h0M1988.1 867.8h0M1989 869.1h0M1989.9 874.1h0M1990.8 865.8h0M1991.6 873.2h0M1992.5 872h0M1993.4 865.7h0M1994.3 866.2h0M1995.1 872.4h0M1996 871.8h0M1996.9 868.4h0M1997.8 873.4h0M1998.7 867.4h0M1999.5 869.4h0M2000.4 866.6h0M2001.3 871.5h0M2002.2 866.4h0M2003.1 867.3h0M2003.9 872.6h0M2004.8 870.2h0M2005.7 871.7h0M2006.6 872.4h0M2007.4 871.3h0M2008.3 867.6h0M2009.2 872.2h0M2010.1 866.9h0M2011 868.3h0M2011.8 869.9h0M2012.7 866.8h0M2013.6 866.7h0M2014.5 871.7h0M2015.4 872.4h0M2016.2 869h0M2017.1 869h0M2018 867.3h0M2018.9 870h0M2019.7 870.4h0M2020.6 873.5h0M2021.5 865.2h0M2022.4 872.9h0M2023.3 873.4h0M2024.1 867.4h0M2025 870.6h0M2025.9 871.3h0M2026.8 869.5h0M2027.7 866h0M2028.5 868.8h0M2029.4 870.9h0M2030.3 863.7h0M2031.2 866.8h0M2032 862.5h0M2032.9 869.7h0M2033.8 868.9h0M2034.7 862h0M2035.6 868.2h0M2036.4 867.5h0M2037.3 862.2h0M2038.2 865.7h0M2039.1 867.1h0M2040 863.8h0M2040.8 865.2h0M2041.7 869.5h0M2042.6 866.4h0M2043.5 865.1h0M2044.3 861.2h0M2045.2 861.7h0M2046.1 868.3h0M2047 867.4h0M2047.9 868.2h0M2048.7 865.9h0M2049.6 865.9h0M2050.5 865.5h0M2051.4 867.3h0M2052.3 863.5h0M2053.1 865h0M2054 864.7h0M2054.9 866.4h0M2055.8 861.9h0M2056.6 859.7h0M2057.5 860.1h0M2058.4 860.6h0M2059.3 867.2h0M2060.2 865.3h0M2061 865.2h0M2061.9 861.4h0M2062.8 857h0M2063.7 860h0M2064.6 863.1h0M2065.4 857.7h0M2066.3 857.1h0M2067.2 851.6h0M2068.1 845.8h0M2068.9 847.1h0M2069.8 840.4h0M2070.7 832.3h0M2071.6 823.5h0M2072.5 819.5h0M2073.3 804.1h0M2074.2 794.9h0M2075.1 777h0M2076 767.9h0M2076.9 746.9h0M2077.7 731.4h0M2078.6 720.3h0M2079.5 701.5h0M2080.4 687h0M2081.2 669.3h0M2082.1 666.5h0M2083 654.7h0M2083.9 661.4h0M2084.8 663h0M2085.6 666.8h0M2086.5 679.9h0M2087.4 689.3h0M2088.3 707.5h0M2089.2 715.7h0M2090 745.2h0M2090.9 759.5h0M2091.8 766.3h0M2092.7 782.8h0M2093.5 801.3h0M2094.4 816.2h0M2095.3 817.3h0M2096.2 838.3h0M2097.1 836.1h0M2097.9 851.7h0M2098.8 852.4h0M2099.7 851.7h0M2100.6 852.1h0M2101.5 849.6h0M2102.3 850.5h0M2103.2 859.4h0M2104.1 861.6h0M2105 863.3h0M2105.8 854.1h0M2106.7 862.1h0M2107.6 850.9h0M2108.5 859.6h0M2109.4 857.9h0M2110.2 844.5h0M2111.1 854.2h0M2112 850.5h0M2112.9 849.6h0M2113.8 851.2h0M2114.6 846.3h0M2115.5 846.2h0M2116.4 844.8h0M2117.3 853.7h0M2118.1 855.7h0M2119 845.9h0M2119.9 857.2h0M2120.8 851.3h0M2121.7 851.7h0M2122.5 853.5h0M2123.4 860.8h0M2124.3 857.5h0M2125.2 858h0M2126.1 856.6h0M2126.9 860.7h0M2127.8 868.1h0M2128.7 856.6h0M2129.6 863.8h0M2130.4 865.7h0M2131.3 856.9h0M2132.2 860.5h0M2133.1 869.6h0M2134 870.6h0M2134.8 867.9h0M2135.7 856.8h0M2136.6 865.6h0M2137.5 860.3h0M2138.4 855.5h0M2139.2 860h0M2140.1 866.5h0M2141 865.5h0M2141.9 857.6h0M2142.7 852.2h0M2143.6 865h0M2144.5 866.1h0M2145.4 858.4h0M2146.3 853.8h0M2147.1 858.5h0M2148 860.7h0M2148.9 857.2h0M2149.8 854.9h0M2150.7 853.2h0M2151.5 854.2h0M2152.4 850.6h0M2153.3 854.1h0M2154.2 865.2h0M2155 850.8h0M2155.9 862.3h0M2156.8 863.6h0M2157.7 857.9h0M2158.6 861.3h0M2159.4 855.8h0M2160.3 863.2h0M2161.2 864.3h0M2162.1 865.2h0M2163 861.9h0M2163.8 869.9h0M2164.7 868.8h0M2165.6 864.7h0M2166.5 867h0M2167.3 861h0M2168.2 871.8h0M2169.1 867.4h0M2170 871.6h0M2170.9 862.4h0M2171.7 873.5h0M2172.6 860h0M2173.5 866.8h0M2174.4 860.5h0M2175.3 861.9h0M2176.1 870.9h0M2177 860.1h0M2177.9 865h0M2178.8 862h0M2179.7 872.2h0M2180.5 860.1h0M2181.4 863.8h0M2182.3 871.6h0M2183.2 868.6h0M2184 868.4h0M2184.9 872.4h0M2185.8 856.8h0M2186.7 866.1h0M2187.6 866.7h0M2188.4 866h0M2189.3 864.7h0M2190.2 853.9h0M2191.1 853.2h0M2192 863.2h0M2192.8 859.9h0M2193.7 853.8h0M2194.6 849.2h0M2195.5 856.9h0M2196.3 849.6h0M2197.2 859.6h0M2198.1 853.2h0M2199 860.5h0M2199.9 849.6h0M2200.7 856.2h0M2201.6 850.6h0M2202.5 861.9h0M2203.4 859.3h0M2204.3 855.1h0M2205.1 867.4h0M2206 864h0M2206.9 859.6h0M2207.8 868.7h0M2208.6 862.3h0M2209.5 872.1h0M2210.4 862.9h0M2211.3 874.5h0M2212.2 861h0M2213 872.2h0M2213.9 865.9h0M2214.8 868.6h0M2215.7 872.4h0M2216.6 863.6h0M2217.4 866.7h0M2218.3 865.1h0M2219.2 875.2h0M2220.1 867.2h0M2220.9 871.6h0M2221.8 868.9h0M2222.7 867.4h0M2223.6 878.2h0M2224.5 871.4h0M2225.3 873.4h0M2226.2 874h0M2227.1 875.6h0M2228 866.7h0M2228.9 863.5h0M2229.7 869.3h0M2230.6 864.4h0M2231.5 861.8h0M2232.4 875.6h0M2233.2 870.8h0M2234.1 867.3h0M2235 862.7h0M2235.9 872.3h0M2236.8 868.6h0M2237.6 862.8h0M2238.5 875.3h0M2239.4 874.7h0M2240.3 874.3h0M2241.2 872.6h0M2242 868h0M2242.9 864.3h0M2243.8 869.8h0M2244.7 862h0M2245.5 869.2h0M2246.4 860.6h0M2247.3 859.8h0M2248.2 870.8h0M2249.1 865h0M2249.9 870.6h0M2250.8 871.9h0M2251.7 872.9h0M2252.6 869.5h0M2253.5 873.1h0M2254.3 870.3h0M2255.2 874.4h0M2256.1 873.8h0M2257 860.2h0M2257.8 863.4h0M2258.7 864.9h0M2259.6 862.3h0M2260.5 860.5h0M2261.4 870.6h0M2262.2 856.4h0M2263.1 857.7h0M2264 865.3h0M2264.9 855.2h0M2265.8 853.9h0M2266.6 862.8h0M2267.5 857.1h0M2268.4 849.5h0M2269.3 841.8h0M2270.1 840.8h0M2271 848.7h0M2271.9 842.6h0M2272.8 828.2h0M2273.7 835.1h0M2274.5 827.1h0M2275.4 830.1h0M2276.3 821.5h0M2277.2 817.5h0M2278.1 815h0M2278.9 819.1h0M2279.8 828.4h0M2280.7 830.1h0M2281.6 828.5h0M2282.4 831.7h0M2283.3 825.6h0M2284.2 830.9h0M2285.1 842.3h0M2286 846.6h0M2286.8 841.1h0M2287.7 849.2h0M2288.6 854.3h0M2289.5 857.8h0M2290.4 849h0M2291.2 856.6h0M2292.1 854.2h0M2293 856.7h0M2293.9 857.8h0M2294.7 855.9h0M2295.6 852.5h0M2296.5 864.7h0M2297.4 863.9h0M2298.3 866.3h0M2299.1 855.7h0M2300 856.9h0M2300.9 862.7h0M2301.8 868.1h0M2302.7 860.9h0M2303.5 856.7h0M2304.4 862.9h0M2305.3 868.6h0M2306.2 867.2h0M2307 867.7h0M2307.9 860.1h0M2308.8 857.9h0M2309.7 867.5h0M2310.6 866.3h0M2311.4 867.4h0M2312.3 860.3h0M2313.2 858.8h0M2314.1 858.2h0M2315 868.1h0M2315.8 869h0M2316.7 860.5h0M2317.6 868.5h0M2318.5 860.9h0M2319.3 862h0M2320.2 863.9h0M2321.1 858.5h0M2322 859.3h0M2322.9 859.4h0M2323.7 859.3h0M2324.6 863.3h0M2325.5 856.9h0M2326.4 867.5h0M2327.3 858h0M2328.1 862.2h0M2329 865.3h0M2329.9 857.4h0M2330.8 861.6h0M2331.6 863.9h0M2332.5 863.7h0M2333.4 869h0M2334.3 867.3h0M2335.2 856.9h0M2336 867.9h0M2336.9 863.5h0M2337.8 865.4h0M2338.7 857.3h0M2339.6 862.2h0M2340.4 865.7h0M2341.3 867.2h0M2342.2 867.3h0M2343.1 858.2h0M2343.9 867.8h0M2344.8 863.7h0M2345.7 865.3h0M2346.6 868.2h0M2347.5 861.4h0M2348.3 869.5h0M2349.2 869h0M2350.1 868h0M2351 861.5h0M2351.9 864.1h0M2352.7 858.7h0M2353.6 868.2h0M2354.5 870.5h0M2355.4 859.4h0M2356.2 868.9h0M2357.1 868.5h0M2358 858.6h0M2358.9 872.7h0M2359.8 866.3h0M2360.6 863.5h0M2361.5 860.2h0M2362.4 872.4h0M2363.3 866h0M2364.2 869.2h0M2365 864.7h0M2365.9 871.6h0M2366.8 868.8h0M2367.7 875.7h0M2368.5 874h0M2369.4 875.3h0M2370.3 868.3h0M2371.2 865.8h0M2372.1 878.9h0M2372.9 880.1h0M2373.8 875.9h0M2374.7 880.5h0M2375.6 877.4h0M2376.5 876.1h0M2377.3 873.3h0M2378.2 872.5h0M2379.1 874.8h0M2380 870.7h0M2380.8 874h0M2381.7 875.4h0M2382.6 868h0M2383.5 873.8h0M2384.4 872.1h0M2385.2 877.7h0M2386.1 880.5h0M2387 877.5h0M729.5 281h0" fill="none" stroke="#f00" stroke-width="22" stroke-linecap="round"/>
<path id="top-bragg" d="M225.8 879H232.8V942.8H225.8zM323.1 879H330V942.8H323.1zM330.8 879H337.8V942.8H330.8zM451.4 879H458.6V942.8H451.4zM584.2 879H592.5V942.8H584.2zM641.9 879H650V942.8H641.9zM668.3 879H676.7V942.8H668.3zM685 879H693.9V942.8H685zM726.7 879H736.1V942.8H726.7zM809.4 879H817.8V942.8H809.4zM854.4 879H872.8V942.8H854.4zM877.5 879H885.3V942.8H877.5zM892.2 879H900.6V942.8H892.2zM939.4 879H947.8V942.8H939.4zM998.3 879H1012.8V942.8H998.3zM1020 879H1029.4V942.8H1020zM1033.9 879H1042.8V942.8H1033.9zM1082.2 879H1091.7V942.8H1082.2zM1175.3 879H1184.4V942.8H1175.3zM1195 879H1205.3V942.8H1195zM1236.4 879H1246.4V942.8H1236.4zM1280.3 879H1290.6V942.8H1280.3zM1362.5 879H1367.2V942.8H1362.5zM1368.1 879H1372.8V942.8H1368.1zM1378.6 879H1420V942.8H1378.6zM1446.4 879H1451.4V942.8H1446.4zM1452.2 879H1456.9V942.8H1452.2zM1498.3 879H1502.8V942.8H1498.3zM1504.2 879H1508.3V942.8H1504.2zM1512.5 879H1545V942.8H1512.5zM1563.3 879H1568.1V942.8H1563.3zM1568.9 879H1574.4V942.8H1568.9zM1641.7 879H1645.8V942.8H1641.7zM1647.2 879H1651.4V942.8H1647.2zM1658.3 879H1663.1V942.8H1658.3zM1664.4 879H1669.4V942.8H1664.4zM1676.4 879H1681.1V942.8H1676.4zM1682.8 879H1687.5V942.8H1682.8zM1689.4 879H1694.4V942.8H1689.4zM1703.3 879H1720.3V942.8H1703.3zM1731.4 879H1736.1V942.8H1731.4zM1738.1 879H1743.1V942.8H1738.1zM1744.4 879H1749.2V942.8H1744.4zM1753.3 879H1758.3V942.8H1753.3zM1759.7 879H1764.7V942.8H1759.7zM1785.6 879H1790.3V942.8H1785.6zM1792.2 879H1797.2V942.8H1792.2zM1801.4 879H1806.1V942.8H1801.4zM1807.8 879H1813.1V942.8H1807.8zM1818.6 879H1823.6V942.8H1818.6zM1825 879H1830.6V942.8H1825zM1831.1 879H1837.5V942.8H1831.1zM1838.9 879H1843.9V942.8H1838.9zM1845.3 879H1850V942.8H1845.3zM1851.9 879H1856.9V942.8H1851.9zM1851.9 879H1856.7V942.8H1851.9zM1890.8 879H1895V942.8H1890.8zM1897.5 879H1902.5V942.8H1897.5zM1917.8 879H1922.5V942.8H1917.8zM1924.2 879H1929.7V942.8H1924.2zM1943.3 879H1947.8V942.8H1943.3zM1950.3 879H1956.1V942.8H1950.3zM1958.9 879H1964.4V942.8H1958.9zM2001.9 879H2006.1V942.8H2001.9zM2008.1 879H2013.6V942.8H2008.1zM2064.4 879H2068.6V942.8H2064.4zM2072.8 879H2094.2V942.8H2072.8zM2095.6 879H2100.6V942.8H2095.6zM2103.3 879H2123.3V942.8H2103.3zM2141.4 879H2145.6V942.8H2141.4zM2149.2 879H2155.3V942.8H2149.2zM2158.1 879H2163.6V942.8H2158.1zM2180.3 879H2185V942.8H2180.3zM2188.1 879H2192.8V942.8H2188.1zM2194.2 879H2226.9V942.8H2194.2zM2232.2 879H2236.7V942.8H2232.2zM2240.6 879H2245.6V942.8H2240.6zM2262.2 879H2281.7V942.8H2262.2zM2285.3 879H2289.4V942.8H2285.3zM2302.5 879H2323.3V942.8H2302.5zM2325.6 879H2329.7V942.8H2325.6zM2333.9 879H2338.6V942.8H2333.9zM2342.2 879H2347.8V942.8H2342.2zM2359.4 879H2363.6V942.8H2359.4zM2366.9 879H2372.5V942.8H2366.9z" fill="#008000"/>
<path id="top-fit" d="M190.5 753.39L191 753.32L191.5 753.26L192 753.19L192.5 753.13L193 753.06L193.5 752.99L194 752.93L194.5 752.86L195 752.8L195.5 752.73L196 752.67L196.5 752.6L197 752.53L197.5 752.47L198 752.4L198.5 752.34L199 752.27L199.5 752.2L200 752.14L200.5 752.07L201 752L201.5 751.94L202 751.87L202.5 751.8L203 751.73L203.5 751.66L204 751.6L204.5 751.53L205 751.46L205.5 751.39L206 751.32L206.5 751.25L207 751.18L207.5 751.11L208 751.04L208.5 750.97L209 750.9L209.5 750.82L210 750.75L210.5 750.67L211 750.6L211.5 750.52L212 750.44L212.5 750.39L213 750.34L213.5 750.29L214 750.22L214.5 750.16L215 750.08L215.5 750L216 749.9L216.5 749.78L217 749.65L217.5 749.49L218 749.31L218.5 749.09L219 748.83L219.5 748.52L220 748.17L220.5 747.76L221 747.3L221.5 746.77L222 746.17L222.5 745.51L223 744.79L223.5 744.01L224 743.19L224.5 742.32L225 741.43L225.5 740.54L226 739.65L226.5 738.8L227 738.01L227.5 737.3L228 736.7L228.5 736.23L229 735.91L229.5 735.76L230 735.78L230.5 735.97L231 736.32L231.5 736.81L232 737.41L232.5 738.11L233 738.88L233.5 739.69L234 740.52L234.5 741.35L235 742.17L235.5 742.95L236 743.68L236.5 744.36L237 744.98L237.5 745.54L238 746.03L238.5 746.46L239 746.83L239.5 747.14L240 747.4L240.5 747.61L241 747.79L241.5 747.92L242 748.03L242.5 748.11L243 748.17L243.5 748.21L244 748.23L244.5 748.25L245 748.26L245.5 748.26L246 748.25L246.5 748.24L247 748.23L247.5 748.25L248 748.28L248.5 748.3L249 748.32L249.5 748.33L250 748.35L250.5 748.37L251 748.38L251.5 748.4L252 748.41L252.5 748.43L253 748.44L253.5 748.45L254 748.46L254.5 748.48L255 748.49L255.5 748.5L256 748.51L256.5 748.53L257 748.54L257.5 748.55L258 748.56L258.5 748.57L259 748.58L259.5 748.59L260 748.6L260.5 748.61L261 748.62L261.5 748.63L262 748.64L262.5 748.65L263 748.66L263.5 748.67L264 748.68L264.5 748.69L265 748.69L265.5 748.7L266 748.71L266.5 748.72L267 748.73L267.5 748.74L268 748.75L268.5 748.75L269 748.76L269.5 748.77L270 748.78L270.5 748.79L271 748.79L271.5 748.8L272 748.81L272.5 748.82L273 748.82L273.5 748.83L274 748.84L274.5 748.85L275 748.85L275.5 748.86L276 748.87L276.5 748.87L277 748.88L277.5 748.89L278 748.9L278.5 748.9L279 748.91L279.5 748.91L280 748.92L280.5 748.93L281 748.93L281.5 748.94L282 748.94L282.5 748.95L283 748.96L283.5 748.96L284 748.97L284.5 748.97L285 748.98L285.5 748.98L286 748.99L286.5 748.99L287 749L287.5 749L288 749L288.5 749.01L289 749.01L289.5 749.02L290 749.02L290.5 749.02L291 749.03L291.5 749.03L292 749.03L292.5 749.03L293 749.03L293.5 749.04L294 749.04L294.5 749.04L295 749.04L295.5 749.04L296 749.04L296.5 749.04L297 749.04L297.5 749.03L298 749.03L298.5 749.03L299 749.03L299.5 749.03L300 749.04L300.5 749.04L301 749.04L301.5 749.04L302 749.04L302.5 749.04L303 749.04L303.5 749.04L304 749.03L304.5 749.03L305 749.02L305.5 749L306 748.98L306.5 748.96L307 748.93L307.5 748.9L308 748.85L308.5 748.79L309 748.72L309.5 748.63L310 748.52L310.5 748.39L311 748.23L311.5 748.03L312 747.78L312.5 747.49L313 747.15L313.5 746.74L314 746.26L314.5 745.7L315 745.06L315.5 744.32L316 743.49L316.5 742.55L317 741.51L317.5 740.35L318 739.1L318.5 737.74L319 736.3L319.5 734.77L320 733.17L320.5 731.53L321 729.86L321.5 728.2L322 726.56L322.5 724.98L323 723.49L323.5 722.13L324 720.94L324.5 719.94L325 719.17L325.5 718.66L326 718.42L326.5 718.47L327 718.8L327.5 719.4L328 720.25L328.5 721.32L329 722.58L329.5 724.01L330 725.55L330.5 727.18L331 728.86L331.5 730.56L332 732.26L332.5 733.93L333 735.55L333.5 737.1L334 738.56L334.5 739.93L335 741.2L335.5 742.36L336 743.42L336.5 744.37L337 745.22L337.5 745.98L338 746.64L338.5 747.21L339 747.71L339.5 748.14L340 748.51L340.5 748.82L341 749.09L341.5 749.32L342 749.51L342.5 749.67L343 749.81L343.5 749.93L344 750.04L344.5 750.13L345 750.2L345.5 750.27L346 750.34L346.5 750.39L347 750.44L347.5 750.51L348 750.58L348.5 750.65L349 750.71L349.5 750.77L350 750.83L350.5 750.89L351 750.95L351.5 751L352 751.06L352.5 751.11L353 751.16L353.5 751.22L354 751.27L354.5 751.32L355 751.37L355.5 751.42L356 751.47L356.5 751.52L357 751.57L357.5 751.62L358 751.67L358.5 751.72L359 751.77L359.5 751.81L360 751.86L360.5 751.91L361 751.95L361.5 752L362 752.05L362.5 752.09L363 752.14L363.5 752.18L364 752.23L364.5 752.28L365 752.32L365.5 752.37L366 752.41L366.5 752.45L367 752.5L367.5 752.54L368 752.59L368.5 752.63L369 752.68L369.5 752.72L370 752.76L370.5 752.81L371 752.85L371.5 752.89L372 752.94L372.5 752.98L373 753.02L373.5 753.07L374 753.11L374.5 753.15L375 753.2L375.5 753.24L376 753.28L376.5 753.32L377 753.37L377.5 753.41L378 753.45L378.5 753.47L379 753.5L379.5 753.52L380 753.54L380.5 753.57L381 753.59L381.5 753.61L382 753.63L382.5 753.66L383 753.68L383.5 753.7L384 753.72L384.5 753.74L385 753.77L385.5 753.79L386 753.81L386.5 753.83L387 753.86L387.5 753.88L388 753.9L388.5 753.92L389 753.94L389.5 753.97L390 753.99L390.5 754.01L391 754.03L391.5 754.05L392 754.08L392.5 754.1L393 754.12L393.5 754.14L394 754.16L394.5 754.18L395 754.21L395.5 754.23L396 754.25L396.5 754.27L397 754.29L397.5 754.31L398 754.34L398.5 754.31L399 754.29L399.5 754.27L400 754.25L400.5 754.23L401 754.2L401.5 754.18L402 754.16L402.5 754.14L403 754.12L403.5 754.09L404 754.07L404.5 754.05L405 754.03L405.5 754L406 753.98L406.5 753.96L407 753.94L407.5 753.92L408 753.89L408.5 753.87L409 753.85L409.5 753.83L410 753.8L410.5 753.78L411 753.76L411.5 753.74L412 753.71L412.5 753.69L413 753.67L413.5 753.65L414 753.62L414.5 753.6L415 753.58L415.5 753.55L416 753.53L416.5 753.51L417 753.49L417.5 753.46L418 753.44L418.5 753.42L419 753.39L419.5 753.37L420 753.35L420.5 753.33L421 753.3L421.5 753.28L422 753.26L422.5 753.23L423 753.21L423.5 753.19L424 753.16L424.5 753.14L425 753.12L425.5 753.09L426 753.07L426.5 753.05L427 753.02L427.5 753L428 752.97L428.5 752.95L429 752.93L429.5 752.9L430 752.88L430.5 752.85L431 752.83L431.5 752.8L432 752.78L432.5 752.75L433 752.73L433.5 752.7L434 752.68L434.5 752.65L435 752.62L435.5 752.6L436 752.57L436.5 752.57L437 752.58L437.5 752.58L438 752.58L438.5 752.58L439 752.57L439.5 752.57L440 752.55L440.5 752.53L441 752.51L441.5 752.47L442 752.43L442.5 752.37L443 752.31L443.5 752.23L444 752.13L444.5 752.02L445 751.9L445.5 751.76L446 751.6L446.5 751.43L447 751.25L447.5 751.05L448 750.84L448.5 750.62L449 750.4L449.5 750.18L450 749.96L450.5 749.75L451 749.56L451.5 749.39L452 749.25L452.5 749.13L453 749.06L453.5 749.03L454 749.04L454.5 749.09L455 749.18L455.5 749.31L456 749.48L456.5 749.67L457 749.88L457.5 750.11L458 750.36L458.5 750.61L459 750.85L459.5 751.1L460 751.34L460.5 751.57L461 751.78L461.5 751.98L462 752.17L462.5 752.34L463 752.5L463.5 752.63L464 752.76L464.5 752.87L465 752.96L465.5 753.04L466 753.12L466.5 753.18L467 753.24L467.5 753.28L468 753.33L468.5 753.36L469 753.4L469.5 753.42L470 753.45L470.5 753.49L471 753.53L471.5 753.57L472 753.61L472.5 753.64L473 753.68L473.5 753.71L474 753.75L474.5 753.78L475 753.81L475.5 753.85L476 753.88L476.5 753.91L477 753.95L477.5 753.98L478 754.01L478.5 754.04L479 754.07L479.5 754.11L480 754.14L480.5 754.17L481 754.2L481.5 754.23L482 754.27L482.5 754.3L483 754.33L483.5 754.36L484 754.39L484.5 754.42L485 754.45L485.5 754.48L486 754.52L486.5 754.55L487 754.58L487.5 754.61L488 754.64L488.5 754.67L489 754.7L489.5 754.73L490 754.76L490.5 754.79L491 754.82L491.5 754.85L492 754.89L492.5 754.92L493 754.95L493.5 754.98L494 755.01L494.5 755.04L495 755.07L495.5 755.1L496 755.13L496.5 755.16L497 755.19L497.5 755.22L498 755.11L498.5 755L499 754.89L499.5 754.78L500 754.67L500.5 754.56L501 754.45L501.5 754.34L502 754.23L502.5 754.12L503 754.01L503.5 753.9L504 753.79L504.5 753.68L505 753.57L505.5 753.46L506 753.35L506.5 753.24L507 753.13L507.5 753.01L508 752.9L508.5 752.79L509 752.68L509.5 752.57L510 752.46L510.5 752.35L511 752.24L511.5 752.13L512 752.02L512.5 751.91L513 751.8L513.5 751.69L514 751.58L514.5 751.47L515 751.36L515.5 751.24L516 751.13L516.5 751.02L517 750.91L517.5 750.8L518 750.69L518.5 750.58L519 750.47L519.5 750.36L520 750.25L520.5 750.14L521 750.02L521.5 749.91L522 749.8L522.5 749.69L523 749.58L523.5 749.47L524 749.36L524.5 749.25L525 749.14L525.5 749.02L526 748.91L526.5 748.8L527 748.69L527.5 748.58L528 748.47L528.5 748.36L529 748.25L529.5 748.13L530 748.02L530.5 747.91L531 747.8L531.5 747.69L532 747.58L532.5 747.47L533 747.35L533.5 747.24L534 747.13L534.5 747.02L535 746.91L535.5 746.8L536 746.68L536.5 746.57L537 746.46L537.5 746.39L538 746.32L538.5 746.25L539 746.17L539.5 746.1L540 746.03L540.5 745.96L541 745.89L541.5 745.81L542 745.74L542.5 745.67L543 745.6L543.5 745.53L544 745.45L544.5 745.38L545 745.31L545.5 745.24L546 745.16L546.5 745.09L547 745.02L547.5 744.95L548 744.87L548.5 744.8L549 744.73L549.5 744.66L550 744.58L550.5 744.51L551 744.44L551.5 744.36L552 744.29L552.5 744.22L553 744.14L553.5 744.07L554 744L554.5 743.92L555 743.85L555.5 743.78L556 743.7L556.5 743.63L557 743.55L557.5 743.48L558 743.41L558.5 743.33L559 743.26L559.5 743.18L560 743.11L560.5 743.03L561 742.96L561.5 742.88L562 742.81L562.5 742.73L563 742.65L563.5 742.58L564 742.5L564.5 742.42L565 742.35L565.5 742.27L566 742.19L566.5 742.11L567 742.04L567.5 741.99L568 741.94L568.5 741.89L569 741.84L569.5 741.8L570 741.75L570.5 741.7L571 741.64L571.5 741.59L572 741.54L572.5 741.48L573 741.42L573.5 741.36L574 741.29L574.5 741.21L575 741.13L575.5 741.03L576 740.93L576.5 740.8L577 740.66L577.5 740.49L578 740.29L578.5 740.05L579 739.78L579.5 739.46L580 739.09L580.5 738.67L581 738.2L581.5 737.68L582 737.1L582.5 736.49L583 735.83L583.5 735.16L584 734.47L584.5 733.79L585 733.14L585.5 732.53L586 732L586.5 731.56L587 731.23L587.5 731.03L588 730.97L588.5 731.04L589 731.25L589.5 731.58L590 732L590.5 732.5L591 733.05L591.5 733.63L592 734.22L592.5 734.8L593 735.37L593.5 735.89L594 736.38L594.5 736.82L595 737.2L595.5 737.53L596 737.81L596.5 738.05L597 738.23L597.5 738.38L598 738.48L598.5 738.56L599 738.61L599.5 738.64L600 738.65L600.5 738.65L601 738.63L601.5 738.61L602 738.58L602.5 738.54L603 738.5L603.5 738.49L604 738.49L604.5 738.48L605 738.48L605.5 738.46L606 738.45L606.5 738.44L607 738.42L607.5 738.41L608 738.39L608.5 738.37L609 738.34L609.5 738.32L610 738.3L610.5 738.27L611 738.24L611.5 738.21L612 738.18L612.5 738.15L613 738.11L613.5 738.07L614 738.03L614.5 737.99L615 737.94L615.5 737.9L616 737.84L616.5 737.79L617 737.73L617.5 737.67L618 737.61L618.5 737.59L619 737.56L619.5 737.54L620 737.5L620.5 737.46L621 737.42L621.5 737.37L622 737.31L622.5 737.25L623 737.17L623.5 737.09L624 737L624.5 736.9L625 736.78L625.5 736.64L626 736.48L626.5 736.29L627 736.07L627.5 735.81L628 735.5L628.5 735.11L629 734.64L629.5 734.05L630 733.33L630.5 732.44L631 731.32L631.5 729.95L632 728.26L632.5 726.18L633 723.66L633.5 720.61L634 716.96L634.5 712.62L635 707.53L635.5 701.62L636 694.81L636.5 687.09L637 678.42L637.5 668.81L638 658.3L638.5 646.96L639 634.92L639.5 622.31L640 609.34L640.5 596.24L641 583.28L641.5 570.78L642 559.06L642.5 548.48L643 539.4L643.5 532.17L644 527.07L644.5 524.34L645 524.1L645.5 526.37L646 531.04L646.5 537.9L647 546.66L647.5 556.99L648 568.54L648.5 580.93L649 593.84L649.5 606.95L650 619.97L650.5 632.66L651 644.82L651.5 656.28L652 666.93L652.5 676.66L653 685.44L653.5 693.24L654 700.07L654.5 705.97L655 710.98L655.5 715.15L656 718.54L656.5 721.23L657 723.27L657.5 724.72L658 725.64L658.5 726.08L659 726L659.5 725.5L660 724.6L660.5 723.33L661 721.71L661.5 719.74L662 717.44L662.5 714.84L663 711.94L663.5 708.78L664 705.37L664.5 701.76L665 698L665.5 694.12L666 690.19L666.5 686.28L667 682.45L667.5 678.79L668 675.38L668.5 672.3L669 669.64L669.5 667.47L670 665.88L670.5 664.91L671 664.6L671.5 664.97L672 666L672.5 667.65L673 669.87L673.5 672.6L674 675.74L674.5 679.21L675 682.94L675.5 686.83L676 690.8L676.5 694.78L677 698.71L677.5 702.51L678 706.13L678.5 709.53L679 712.65L679.5 715.45L680 717.89L680.5 719.95L681 721.61L681.5 722.83L682 723.62L682.5 723.97L683 723.91L683.5 723.45L684 722.66L684.5 721.59L685 720.33L685.5 718.98L686 717.66L686.5 716.49L687 715.6L687.5 715.09L688 715.04L688.5 715.51L689 716.45L689.5 717.82L690 719.51L690.5 721.42L691 723.45L691.5 725.5L692 727.49L692.5 729.35L693 731.05L693.5 732.54L694 733.82L694.5 734.88L695 735.75L695.5 736.43L696 736.96L696.5 737.35L697 737.63L697.5 737.82L698 737.94L698.5 738L699 738.02L699.5 738.02L700 737.98L700.5 737.93L701 737.86L701.5 737.78L702 737.68L702.5 737.57L703 737.45L703.5 737.32L704 737.17L704.5 737.02L705 736.85L705.5 736.66L706 736.47L706.5 736.25L707 736.02L707.5 735.82L708 735.6L708.5 735.36L709 735.08L709.5 734.76L710 734.39L710.5 733.97L711 733.47L711.5 732.88L712 732.18L712.5 731.33L713 730.32L713.5 729.09L714 727.6L714.5 725.8L715 723.6L715.5 720.94L716 717.73L716.5 713.87L717 709.25L717.5 703.76L718 697.29L718.5 689.7L719 680.89L719.5 670.73L720 659.14L720.5 646.03L721 631.35L721.5 615.08L722 597.23L722.5 577.86L723 557.09L723.5 535.09L724 512.07L724.5 488.32L725 464.16L725.5 440.01L726 416.29L726.5 393.5L727 372.17L727.5 352.83L728 336.05L728.5 322.35L729 312.2L729.5 305.97L730 303.89L730.5 306.06L731 312.39L731.5 322.64L732 336.44L732.5 353.31L733 372.74L733.5 394.17L734 417.06L734.5 440.87L735 465.12L735.5 489.37L736 513.22L736.5 536.34L737 558.44L737.5 579.3L738 598.76L738.5 616.71L739 633.08L739.5 647.86L740 661.06L740.5 672.75L741 683L741.5 691.91L742 699.6L742.5 706.17L743 711.75L743.5 716.47L744 720.43L744.5 723.74L745 726.5L745.5 728.79L746 730.7L746.5 732.29L747 733.62L747.5 734.73L748 735.67L748.5 736.48L749 737.17L749.5 737.77L750 738.3L750.5 738.77L751 739.19L751.5 739.58L752 739.93L752.5 740.25L753 740.56L753.5 740.84L754 741.11L754.5 741.36L755 741.59L755.5 741.82L756 742.03L756.5 742.23L757 742.43L757.5 742.61L758 742.79L758.5 742.96L759 743.12L759.5 743.27L760 743.42L760.5 743.56L761 743.7L761.5 743.83L762 743.95L762.5 744.07L763 744.19L763.5 744.3L764 744.4L764.5 744.51L765 744.6L765.5 744.7L766 744.79L766.5 744.87L767 744.95L767.5 745.03L768 745.11L768.5 745.18L769 745.25L769.5 745.31L770 745.37L770.5 745.43L771 745.49L771.5 745.54L772 745.59L772.5 745.64L773 745.68L773.5 745.72L774 745.75L774.5 745.79L775 745.82L775.5 745.84L776 745.87L776.5 745.89L777 745.9L777.5 745.91L778 745.92L778.5 745.93L779 745.93L779.5 745.92L780 745.92L780.5 745.91L781 745.89L781.5 745.87L782 745.84L782.5 745.76L783 745.68L783.5 745.59L784 745.5L784.5 745.39L785 745.29L785.5 745.17L786 745.05L786.5 744.92L787 744.78L787.5 744.63L788 744.47L788.5 744.3L789 744.11L789.5 743.92L790 743.71L790.5 743.49L791 743.25L791.5 742.99L792 742.71L792.5 742.4L793 742.07L793.5 741.7L794 741.28L794.5 740.82L795 740.29L795.5 739.69L796 738.97L796.5 738.13L797 737.13L797.5 735.92L798 734.44L798.5 732.64L799 730.43L799.5 727.71L800 724.38L800.5 720.31L801 715.36L801.5 709.36L802 702.16L802.5 693.58L803 683.46L803.5 671.61L804 657.9L804.5 642.2L805 624.42L805.5 604.54L806 582.58L806.5 558.62L807 532.85L807.5 505.53L808 477L808.5 447.7L809 418.16L809.5 389L810 360.89L810.5 334.58L811 310.86L811.5 290.52L812 274.31L812.5 262.89L813 256.76L813.5 256.2L814 261.24L814.5 271.63L815 286.93L815.5 306.51L816 329.62L816.5 355.48L817 383.29L817.5 412.31L818 441.83L818.5 471.22L819 499.95L819.5 527.55L820 553.65L820.5 577.99L821 600.37L821.5 620.67L822 638.87L822.5 654.98L823 669.08L823.5 681.3L824 691.76L824.5 700.63L825 708.1L825.5 714.32L826 719.47L826.5 723.71L827 727.18L827.5 730.01L828 732.31L828.5 734.19L829 735.72L829.5 736.98L830 738.03L830.5 738.89L831 739.63L831.5 740.25L832 740.79L832.5 741.26L833 741.68L833.5 742.05L834 742.39L834.5 742.7L835 742.98L835.5 743.23L836 743.47L836.5 743.69L837 743.89L837.5 744.08L838 744.25L838.5 744.31L839 744.35L839.5 744.39L840 744.41L840.5 744.42L841 744.42L841.5 744.41L842 744.39L842.5 744.36L843 744.32L843.5 744.26L844 744.19L844.5 744.1L845 744L845.5 743.88L846 743.73L846.5 743.56L847 743.36L847.5 743.31L848 743.22L848.5 743.08L849 742.88L849.5 742.61L850 742.27L850.5 741.85L851 741.32L851.5 740.68L852 739.91L852.5 739.01L853 737.95L853.5 736.73L854 735.33L854.5 733.74L855 731.96L855.5 729.97L856 727.77L856.5 725.38L857 722.78L857.5 720L858 717.05L858.5 713.95L859 710.73L859.5 707.42L860 704.07L860.5 700.71L861 697.39L861.5 694.18L862 691.12L862.5 688.29L863 685.74L863.5 683.53L864 681.72L864.5 680.35L865 679.48L865.5 679.12L866 679.29L866.5 679.96L867 681.11L867.5 682.7L868 684.67L868.5 686.95L869 689.45L869.5 692.1L870 694.8L870.5 697.48L871 700.05L871.5 702.42L872 704.51L872.5 706.26L873 707.61L873.5 708.5L874 708.91L874.5 708.82L875 708.23L875.5 707.17L876 705.69L876.5 703.86L877 701.77L877.5 699.53L878 697.27L878.5 695.14L879 693.3L879.5 691.88L880 691.04L880.5 690.89L881 691.48L881.5 692.85L882 694.95L882.5 697.7L883 701L883.5 704.71L884 708.7L884.5 712.83L885 716.99L885.5 721.07L886 724.96L886.5 728.6L887 731.93L887.5 734.88L888 737.43L888.5 739.56L889 741.26L889.5 742.53L890 743.38L890.5 743.84L891 743.93L891.5 743.69L892 743.18L892.5 742.46L893 741.59L893.5 740.65L894 739.74L894.5 738.94L895 738.35L895.5 738.03L896 738.05L896.5 738.43L897 739.16L897.5 740.19L898 741.46L898.5 742.88L899 744.4L899.5 745.93L900 747.42L900.5 748.83L901 750.12L901.5 751.28L902 752.29L902.5 753.16L903 753.89L903.5 754.49L904 754.99L904.5 755.39L905 755.72L905.5 755.99L906 756.21L906.5 756.4L907 756.56L907.5 756.7L908 756.82L908.5 756.93L909 757.04L909.5 757.14L910 757.23L910.5 757.31L911 757.4L911.5 757.47L912 757.55L912.5 757.62L913 757.68L913.5 757.75L914 757.8L914.5 757.86L915 757.91L915.5 757.96L916 758L916.5 758.04L917 758.07L917.5 758.1L918 758.13L918.5 758.14L919 758.16L919.5 758.16L920 758.16L920.5 758.16L921 758.14L921.5 758.06L922 757.96L922.5 757.85L923 757.73L923.5 757.59L924 757.43L924.5 757.24L925 757.02L925.5 756.76L926 756.44L926.5 756.06L927 755.6L927.5 755.03L928 754.34L928.5 753.49L929 752.45L929.5 751.18L930 749.63L930.5 747.74L931 745.48L931.5 742.76L932 739.53L932.5 735.72L933 731.27L933.5 726.11L934 720.21L934.5 713.5L935 705.98L935.5 697.63L936 688.48L936.5 678.55L937 667.93L937.5 656.72L938 645.05L938.5 633.09L939 621.04L939.5 609.12L940 597.61L940.5 586.76L941 576.89L941.5 568.28L942 561.22L942.5 555.98L943 552.75L943.5 551.68L944 552.81L944.5 556.1L945 561.4L945.5 568.52L946 577.19L946.5 587.13L947 598.03L947.5 609.61L948 621.58L948.5 633.7L949 645.72L949.5 657.45L950 668.72L950.5 679.4L951 689.39L951.5 698.61L952 707.02L952.5 714.6L953 721.37L953.5 727.33L954 732.55L954.5 737.06L955 740.93L955.5 744.22L956 747L956.5 749.33L957 751.28L957.5 752.89L958 754.23L958.5 755.33L959 756.24L959.5 756.99L960 757.62L960.5 758.15L961 758.59L961.5 758.97L962 759.3L962.5 759.58L963 759.83L963.5 760.06L964 760.26L964.5 760.45L965 760.62L965.5 760.81L966 760.99L966.5 761.15L967 761.32L967.5 761.47L968 761.62L968.5 761.76L969 761.89L969.5 762.03L970 762.15L970.5 762.27L971 762.39L971.5 762.51L972 762.62L972.5 762.72L973 762.83L973.5 762.93L974 763.02L974.5 763.12L975 763.21L975.5 763.3L976 763.38L976.5 763.47L977 763.55L977.5 763.63L978 763.7L978.5 763.77L979 763.84L979.5 763.91L980 763.97L980.5 764.03L981 764.09L981.5 764.14L982 764.18L982.5 764.22L983 764.25L983.5 764.27L984 764.28L984.5 764.27L985 764.25L985.5 764.16L986 764.05L986.5 763.92L987 763.74L987.5 763.53L988 763.27L988.5 762.95L989 762.58L989.5 762.13L990 761.6L990.5 760.99L991 760.28L991.5 759.47L992 758.56L992.5 757.53L993 756.39L993.5 755.14L994 753.78L994.5 752.31L995 750.76L995.5 749.12L996 747.42L996.5 745.68L997 743.92L997.5 742.17L998 740.46L998.5 738.83L999 737.32L999.5 735.95L1000 734.77L1000.5 733.82L1001 733.12L1001.5 732.69L1002 732.57L1002.5 732.74L1003 733.2L1003.5 733.95L1004 734.95L1004.5 736.17L1005 737.58L1005.5 739.14L1006 740.81L1006.5 742.56L1007 744.35L1007.5 746.15L1008 747.94L1008.5 749.68L1009 751.36L1009.5 752.96L1010 754.47L1010.5 755.88L1011 757.17L1011.5 758.36L1012 759.43L1012.5 760.39L1013 761.24L1013.5 762L1014 762.66L1014.5 763.23L1015 763.72L1015.5 764.15L1016 764.51L1016.5 764.82L1017 765.08L1017.5 765.3L1018 765.49L1018.5 765.69L1019 765.87L1019.5 766.03L1020 766.17L1020.5 766.3L1021 766.41L1021.5 766.52L1022 766.62L1022.5 766.71L1023 766.8L1023.5 766.88L1024 766.95L1024.5 767.02L1025 767.08L1025.5 767.14L1026 767.19L1026.5 767.22L1027 767.25L1027.5 767.26L1028 767.25L1028.5 767.23L1029 767.18L1029.5 767.11L1030 767.02L1030.5 766.9L1031 766.75L1031.5 766.57L1032 766.37L1032.5 766.14L1033 765.9L1033.5 765.64L1034 765.38L1034.5 765.12L1035 764.87L1035.5 764.65L1036 764.46L1036.5 764.32L1037 764.24L1037.5 764.22L1038 764.28L1038.5 764.4L1039 764.59L1039.5 764.84L1040 765.14L1040.5 765.48L1041 765.84L1041.5 766.22L1042 766.6L1042.5 766.98L1043 767.35L1043.5 767.7L1044 768.02L1044.5 768.33L1045 768.6L1045.5 768.85L1046 769.07L1046.5 769.27L1047 769.44L1047.5 769.59L1048 769.72L1048.5 769.83L1049 769.94L1049.5 770.02L1050 770.1L1050.5 770.18L1051 770.24L1051.5 770.3L1052 770.35L1052.5 770.39L1053 770.42L1053.5 770.44L1054 770.47L1054.5 770.49L1055 770.51L1055.5 770.53L1056 770.55L1056.5 770.56L1057 770.57L1057.5 770.58L1058 770.59L1058.5 770.6L1059 770.6L1059.5 770.6L1060 770.6L1060.5 770.59L1061 770.59L1061.5 770.57L1062 770.56L1062.5 770.54L1063 770.51L1063.5 770.48L1064 770.45L1064.5 770.41L1065 770.35L1065.5 770.23L1066 770.1L1066.5 769.95L1067 769.78L1067.5 769.59L1068 769.37L1068.5 769.12L1069 768.82L1069.5 768.46L1070 768.04L1070.5 767.52L1071 766.9L1071.5 766.15L1072 765.24L1072.5 764.14L1073 762.81L1073.5 761.23L1074 759.34L1074.5 757.12L1075 754.51L1075.5 751.48L1076 747.99L1076.5 744.01L1077 739.52L1077.5 734.51L1078 728.98L1078.5 722.95L1079 716.44L1079.5 709.52L1080 702.25L1080.5 694.74L1081 687.09L1081.5 679.43L1082 671.93L1082.5 664.75L1083 658.07L1083.5 652.07L1084 646.96L1084.5 642.89L1085 640.03L1085.5 638.49L1086 638.33L1086.5 639.57L1087 642.14L1087.5 645.94L1088 650.82L1088.5 656.62L1089 663.14L1089.5 670.21L1090 677.62L1090.5 685.22L1091 692.85L1091.5 700.37L1092 707.66L1092.5 714.62L1093 721.18L1093.5 727.28L1094 732.88L1094.5 737.96L1095 742.52L1095.5 746.56L1096 750.11L1096.5 753.19L1097 755.85L1097.5 758.11L1098 760.03L1098.5 761.63L1099 762.97L1099.5 764.08L1100 764.99L1100.5 765.74L1101 766.35L1101.5 766.85L1102 767.26L1102.5 767.59L1103 767.87L1103.5 768.1L1104 768.29L1104.5 768.45L1105 768.58L1105.5 768.68L1106 768.76L1106.5 768.83L1107 768.89L1107.5 768.94L1108 768.98L1108.5 769.02L1109 769.05L1109.5 769.08L1110 769.1L1110.5 769.12L1111 769.13L1111.5 769.14L1112 769.15L1112.5 769.16L1113 769.16L1113.5 769.16L1114 769.16L1114.5 769.16L1115 769.16L1115.5 769.15L1116 769.14L1116.5 769.13L1117 769.12L1117.5 769.11L1118 769.09L1118.5 769.08L1119 769.06L1119.5 769.05L1120 769.03L1120.5 769L1121 768.97L1121.5 768.93L1122 768.9L1122.5 768.87L1123 768.83L1123.5 768.8L1124 768.76L1124.5 768.73L1125 768.69L1125.5 768.65L1126 768.61L1126.5 768.57L1127 768.53L1127.5 768.49L1128 768.45L1128.5 768.41L1129 768.37L1129.5 768.33L1130 768.28L1130.5 768.24L1131 768.19L1131.5 768.15L1132 768.1L1132.5 768.06L1133 768.01L1133.5 767.96L1134 767.92L1134.5 767.87L1135 767.82L1135.5 767.77L1136 767.72L1136.5 767.67L1137 767.62L1137.5 767.57L1138 767.52L1138.5 767.46L1139 767.41L1139.5 767.36L1140 767.3L1140.5 767.25L1141 767.19L1141.5 767.14L1142 767.08L1142.5 767.02L1143 766.96L1143.5 766.9L1144 766.84L1144.5 766.78L1145 766.72L1145.5 766.66L1146 766.6L1146.5 766.53L1147 766.47L1147.5 766.4L1148 766.34L1148.5 766.27L1149 766.2L1149.5 766.13L1150 766.05L1150.5 765.98L1151 765.9L1151.5 765.83L1152 765.75L1152.5 765.67L1153 765.58L1153.5 765.5L1154 765.41L1154.5 765.32L1155 765.23L1155.5 765.13L1156 765.02L1156.5 764.92L1157 764.8L1157.5 764.68L1158 764.56L1158.5 764.43L1159 764.3L1159.5 764.15L1160 763.97L1160.5 763.77L1161 763.54L1161.5 763.27L1162 762.94L1162.5 762.57L1163 762.12L1163.5 761.58L1164 760.95L1164.5 760.2L1165 759.32L1165.5 758.28L1166 757.08L1166.5 755.67L1167 754.05L1167.5 752.19L1168 750.08L1168.5 747.71L1169 745.05L1169.5 742.1L1170 738.87L1170.5 735.36L1171 731.58L1171.5 727.56L1172 723.33L1172.5 718.93L1173 714.41L1173.5 709.84L1174 705.28L1174.5 700.81L1175 696.52L1175.5 692.5L1176 688.85L1176.5 685.65L1177 683.01L1177.5 681L1178 679.7L1178.5 679.14L1179 679.34L1179.5 680.3L1180 681.98L1180.5 684.33L1181 687.26L1181.5 690.69L1182 694.52L1182.5 698.66L1183 703.02L1183.5 707.5L1184 712.02L1184.5 716.52L1185 720.92L1185.5 725.17L1186 729.23L1186.5 733.05L1187 736.62L1187.5 739.91L1188 742.92L1188.5 745.64L1189 748.08L1189.5 750.24L1190 752.15L1190.5 753.81L1191 755.25L1191.5 756.48L1192 757.53L1192.5 758.42L1193 759.17L1193.5 759.79L1194 760.31L1194.5 760.74L1195 761.09L1195.5 761.38L1196 761.62L1196.5 761.82L1197 761.98L1197.5 762.11L1198 762.22L1198.5 762.31L1199 762.39L1199.5 762.48L1200 762.56L1200.5 762.64L1201 762.71L1201.5 762.77L1202 762.82L1202.5 762.88L1203 762.93L1203.5 762.97L1204 763.02L1204.5 763.06L1205 763.1L1205.5 763.13L1206 763.17L1206.5 763.2L1207 763.24L1207.5 763.27L1208 763.3L1208.5 763.32L1209 763.35L1209.5 763.38L1210 763.4L1210.5 763.42L1211 763.45L1211.5 763.47L1212 763.49L1212.5 763.51L1213 763.53L1213.5 763.55L1214 763.57L1214.5 763.58L1215 763.6L1215.5 763.62L1216 763.63L1216.5 763.65L1217 763.66L1217.5 763.68L1218 763.69L1218.5 763.7L1219 763.72L1219.5 763.73L1220 763.74L1220.5 763.76L1221 763.77L1221.5 763.78L1222 763.79L1222.5 763.8L1223 763.82L1223.5 763.83L1224 763.84L1224.5 763.85L1225 763.86L1225.5 763.87L1226 763.88L1226.5 763.89L1227 763.9L1227.5 763.91L1228 763.91L1228.5 763.92L1229 763.93L1229.5 763.94L1230 763.95L1230.5 763.96L1231 763.97L1231.5 763.97L1232 763.98L1232.5 763.99L1233 764L1233.5 764L1234 764.01L1234.5 764.02L1235 764.02L1235.5 764.03L1236 764.04L1236.5 764.04L1237 764.05L1237.5 764.06L1238 764.06L1238.5 764.07L1239 764.07L1239.5 764.08L1240 764.09L1240.5 764.09L1241 764.1L1241.5 764.1L1242 764.11L1242.5 764.11L1243 764.12L1243.5 764.13L1244 764.13L1244.5 764.14L1245 764.14L1245.5 764.15L1246 764.15L1246.5 764.15L1247 764.16L1247.5 764.16L1248 764.17L1248.5 764.17L1249 764.18L1249.5 764.18L1250 764.19L1250.5 764.19L1251 764.19L1251.5 764.2L1252 764.2L1252.5 764.2L1253 764.21L1253.5 764.21L1254 764.22L1254.5 764.22L1255 764.22L1255.5 764.22L1256 764.23L1256.5 764.23L1257 764.23L1257.5 764.24L1258 764.24L1258.5 764.24L1259 764.24L1259.5 764.24L1260 764.25L1260.5 764.25L1261 764.25L1261.5 764.25L1262 764.25L1262.5 764.25L1263 764.25L1263.5 764.25L1264 764.25L1264.5 764.25L1265 764.25L1265.5 764.26L1266 764.27L1266.5 764.28L1267 764.28L1267.5 764.29L1268 764.29L1268.5 764.28L1269 764.28L1269.5 764.27L1270 764.25L1270.5 764.22L1271 764.19L1271.5 764.14L1272 764.09L1272.5 764.01L1273 763.93L1273.5 763.82L1274 763.7L1274.5 763.56L1275 763.39L1275.5 763.2L1276 762.99L1276.5 762.76L1277 762.51L1277.5 762.23L1278 761.95L1278.5 761.65L1279 761.34L1279.5 761.03L1280 760.72L1280.5 760.42L1281 760.15L1281.5 759.9L1282 759.68L1282.5 759.5L1283 759.38L1283.5 759.3L1284 759.29L1284.5 759.34L1285 759.44L1285.5 759.6L1286 759.81L1286.5 760.06L1287 760.35L1287.5 760.66L1288 760.99L1288.5 761.33L1289 761.68L1289.5 762.02L1290 762.35L1290.5 762.67L1291 762.98L1291.5 763.27L1292 763.53L1292.5 763.78L1293 764L1293.5 764.2L1294 764.38L1294.5 764.53L1295 764.67L1295.5 764.79L1296 764.9L1296.5 764.99L1297 765.07L1297.5 765.14L1298 765.2L1298.5 765.25L1299 765.29L1299.5 765.33L1300 765.37L1300.5 765.4L1301 765.43L1301.5 765.46L1302 765.49L1302.5 765.56L1303 765.63L1303.5 765.69L1304 765.76L1304.5 765.83L1305 765.89L1305.5 765.96L1306 766.03L1306.5 766.09L1307 766.16L1307.5 766.22L1308 766.29L1308.5 766.35L1309 766.41L1309.5 766.48L1310 766.54L1310.5 766.61L1311 766.67L1311.5 766.73L1312 766.8L1312.5 766.86L1313 766.92L1313.5 766.99L1314 767.05L1314.5 767.11L1315 767.18L1315.5 767.24L1316 767.3L1316.5 767.36L1317 767.43L1317.5 767.49L1318 767.55L1318.5 767.61L1319 767.68L1319.5 767.74L1320 767.8L1320.5 767.86L1321 767.92L1321.5 767.99L1322 768.05L1322.5 768.11L1323 768.17L1323.5 768.23L1324 768.29L1324.5 768.36L1325 768.42L1325.5 768.48L1326 768.54L1326.5 768.6L1327 768.66L1327.5 768.72L1328 768.78L1328.5 768.84L1329 768.91L1329.5 768.97L1330 769.03L1330.5 769.07L1331 769.11L1331.5 769.15L1332 769.19L1332.5 769.23L1333 769.27L1333.5 769.32L1334 769.36L1334.5 769.4L1335 769.44L1335.5 769.48L1336 769.52L1336.5 769.56L1337 769.6L1337.5 769.64L1338 769.68L1338.5 769.72L1339 769.75L1339.5 769.79L1340 769.83L1340.5 769.87L1341 769.91L1341.5 769.94L1342 769.98L1342.5 770.02L1343 770.05L1343.5 770.09L1344 770.12L1344.5 770.16L1345 770.19L1345.5 770.22L1346 770.25L1346.5 770.28L1347 770.31L1347.5 770.33L1348 770.35L1348.5 770.32L1349 770.28L1349.5 770.23L1350 770.17L1350.5 770.11L1351 770.03L1351.5 769.94L1352 769.83L1352.5 769.7L1353 769.54L1353.5 769.36L1354 769.15L1354.5 768.89L1355 768.6L1355.5 768.26L1356 767.88L1356.5 767.44L1357 766.95L1357.5 766.41L1358 765.81L1358.5 765.17L1359 764.48L1359.5 763.74L1360 762.98L1360.5 762.2L1361 761.4L1361.5 760.62L1362 759.85L1362.5 759.13L1363 758.46L1363.5 757.87L1364 757.38L1364.5 757L1365 756.75L1365.5 756.64L1366 756.67L1366.5 756.85L1367 757.15L1367.5 757.58L1368 758.11L1368.5 758.72L1369 759.4L1369.5 760.13L1370 760.89L1370.5 761.66L1371 762.43L1371.5 763.18L1372 763.9L1372.5 764.59L1373 765.23L1373.5 765.83L1374 766.37L1374.5 766.86L1375 767.29L1375.5 767.67L1376 768.01L1376.5 768.29L1377 768.54L1377.5 768.74L1378 768.91L1378.5 769.05L1379 769.17L1379.5 769.26L1380 769.33L1380.5 769.38L1381 769.42L1381.5 769.45L1382 769.47L1382.5 769.52L1383 769.55L1383.5 769.58L1384 769.61L1384.5 769.62L1385 769.62L1385.5 769.62L1386 769.61L1386.5 769.58L1387 769.55L1387.5 769.5L1388 769.44L1388.5 769.37L1389 769.29L1389.5 769.2L1390 769.1L1390.5 768.99L1391 768.88L1391.5 768.75L1392 768.63L1392.5 768.51L1393 768.39L1393.5 768.27L1394 768.17L1394.5 768.08L1395 768.01L1395.5 767.97L1396 767.95L1396.5 767.95L1397 767.99L1397.5 768.05L1398 768.15L1398.5 768.26L1399 768.4L1399.5 768.56L1400 768.73L1400.5 768.91L1401 769.09L1401.5 769.29L1402 769.48L1402.5 769.66L1403 769.85L1403.5 770.02L1404 770.19L1404.5 770.34L1405 770.49L1405.5 770.62L1406 770.75L1406.5 770.86L1407 770.96L1407.5 771.06L1408 771.14L1408.5 771.22L1409 771.29L1409.5 771.35L1410 771.41L1410.5 771.46L1411 771.51L1411.5 771.56L1412 771.6L1412.5 771.64L1413 771.68L1413.5 771.69L1414 771.69L1414.5 771.7L1415 771.7L1415.5 771.7L1416 771.71L1416.5 771.71L1417 771.71L1417.5 771.71L1418 771.71L1418.5 771.71L1419 771.71L1419.5 771.71L1420 771.71L1420.5 771.71L1421 771.71L1421.5 771.71L1422 771.71L1422.5 771.71L1423 771.71L1423.5 771.71L1424 771.71L1424.5 771.71L1425 771.71L1425.5 771.71L1426 771.71L1426.5 771.71L1427 771.71L1427.5 771.71L1428 771.71L1428.5 771.71L1429 771.71L1429.5 771.71L1430 771.71L1430.5 771.71L1431 771.71L1431.5 771.7L1432 771.7L1432.5 771.7L1433 771.7L1433.5 771.7L1434 771.7L1434.5 771.7L1435 771.7L1435.5 771.7L1436 771.69L1436.5 771.69L1437 771.69L1437.5 771.69L1438 771.69L1438.5 771.69L1439 771.69L1439.5 771.69L1440 771.68L1440.5 771.68L1441 771.68L1441.5 771.67L1442 771.65L1442.5 771.64L1443 771.62L1443.5 771.61L1444 771.59L1444.5 771.58L1445 771.56L1445.5 771.55L1446 771.53L1446.5 771.52L1447 771.5L1447.5 771.49L1448 771.47L1448.5 771.46L1449 771.44L1449.5 771.43L1450 771.41L1450.5 771.4L1451 771.38L1451.5 771.37L1452 771.35L1452.5 771.34L1453 771.32L1453.5 771.3L1454 771.29L1454.5 771.27L1455 771.26L1455.5 771.24L1456 771.23L1456.5 771.21L1457 771.2L1457.5 771.18L1458 771.17L1458.5 771.15L1459 771.14L1459.5 771.12L1460 771.1L1460.5 771.09L1461 771.07L1461.5 771.06L1462 771.04L1462.5 771.03L1463 771.01L1463.5 771L1464 770.98L1464.5 770.96L1465 770.95L1465.5 770.93L1466 770.92L1466.5 770.9L1467 770.88L1467.5 770.87L1468 770.85L1468.5 770.84L1469 770.82L1469.5 770.8L1470 770.79L1470.5 770.77L1471 770.76L1471.5 770.74L1472 770.72L1472.5 770.71L1473 770.69L1473.5 770.68L1474 770.66L1474.5 770.64L1475 770.63L1475.5 770.61L1476 770.59L1476.5 770.58L1477 770.56L1477.5 770.54L1478 770.53L1478.5 770.51L1479 770.49L1479.5 770.48L1480 770.46L1480.5 770.44L1481 770.42L1481.5 770.41L1482 770.39L1482.5 770.37L1483 770.35L1483.5 770.3L1484 770.25L1484.5 770.2L1485 770.15L1485.5 770.1L1486 770.05L1486.5 770L1487 769.95L1487.5 769.9L1488 769.84L1488.5 769.79L1489 769.74L1489.5 769.69L1490 769.64L1490.5 769.58L1491 769.53L1491.5 769.48L1492 769.43L1492.5 769.37L1493 769.32L1493.5 769.27L1494 769.21L1494.5 769.16L1495 769.1L1495.5 769.05L1496 768.99L1496.5 768.94L1497 768.88L1497.5 768.83L1498 768.77L1498.5 768.71L1499 768.65L1499.5 768.59L1500 768.53L1500.5 768.47L1501 768.41L1501.5 768.35L1502 768.28L1502.5 768.21L1503 768.14L1503.5 768.12L1504 768.09L1504.5 768.05L1505 768.02L1505.5 767.97L1506 767.92L1506.5 767.86L1507 767.79L1507.5 767.71L1508 767.62L1508.5 767.51L1509 767.39L1509.5 767.25L1510 767.08L1510.5 766.9L1511 766.69L1511.5 766.45L1512 766.18L1512.5 765.88L1513 765.54L1513.5 765.17L1514 764.76L1514.5 764.31L1515 763.82L1515.5 763.3L1516 762.73L1516.5 762.12L1517 761.48L1517.5 760.8L1518 760.09L1518.5 759.36L1519 758.6L1519.5 757.83L1520 757.05L1520.5 756.27L1521 755.5L1521.5 754.75L1522 754.03L1522.5 753.34L1523 752.7L1523.5 752.12L1524 751.62L1524.5 751.19L1525 750.85L1525.5 750.61L1526 750.48L1526.5 750.44L1527 750.52L1527.5 750.7L1528 750.98L1528.5 751.36L1529 751.82L1529.5 752.35L1530 752.96L1530.5 753.62L1531 754.32L1531.5 755.06L1532 755.82L1532.5 756.6L1533 757.38L1533.5 758.15L1534 758.92L1534.5 759.67L1535 760.39L1535.5 761.09L1536 761.76L1536.5 762.39L1537 762.98L1537.5 763.53L1538 764.05L1538.5 764.52L1539 764.95L1539.5 765.35L1540 765.71L1540.5 766.03L1541 766.32L1541.5 766.57L1542 766.8L1542.5 767L1543 767.18L1543.5 767.34L1544 767.47L1544.5 767.59L1545 767.69L1545.5 767.78L1546 767.86L1546.5 767.92L1547 767.98L1547.5 768.03L1548 768.07L1548.5 768.11L1549 768.14L1549.5 768.28L1550 768.42L1550.5 768.55L1551 768.68L1551.5 768.81L1552 768.94L1552.5 769.07L1553 769.19L1553.5 769.32L1554 769.44L1554.5 769.56L1555 769.68L1555.5 769.8L1556 769.92L1556.5 770.04L1557 770.16L1557.5 770.28L1558 770.36L1558.5 770.39L1559 770.41L1559.5 770.43L1560 770.45L1560.5 770.47L1561 770.5L1561.5 770.52L1562 770.54L1562.5 770.56L1563 770.58L1563.5 770.6L1564 770.62L1564.5 770.64L1565 770.66L1565.5 770.68L1566 770.7L1566.5 770.72L1567 770.74L1567.5 770.76L1568 770.78L1568.5 770.8L1569 770.81L1569.5 770.83L1570 770.85L1570.5 770.87L1571 770.89L1571.5 770.91L1572 770.93L1572.5 770.95L1573 770.96L1573.5 770.98L1574 771L1574.5 771.02L1575 771.04L1575.5 771.05L1576 771.07L1576.5 771.09L1577 771.11L1577.5 771.12L1578 771.14L1578.5 771.16L1579 771.18L1579.5 771.19L1580 771.21L1580.5 771.23L1581 771.25L1581.5 771.26L1582 771.28L1582.5 771.3L1583 771.32L1583.5 771.33L1584 771.35L1584.5 771.37L1585 771.38L1585.5 771.4L1586 771.42L1586.5 771.43L1587 771.45L1587.5 771.47L1588 771.48L1588.5 771.5L1589 771.52L1589.5 771.53L1590 771.55L1590.5 771.57L1591 771.58L1591.5 771.6L1592 771.62L1592.5 771.63L1593 771.65L1593.5 771.67L1594 771.68L1594.5 771.63L1595 771.59L1595.5 771.54L1596 771.49L1596.5 771.45L1597 771.4L1597.5 771.35L1598 771.31L1598.5 771.26L1599 771.21L1599.5 771.17L1600 771.12L1600.5 771.07L1601 771.02L1601.5 770.98L1602 770.93L1602.5 770.88L1603 770.83L1603.5 770.79L1604 770.74L1604.5 770.69L1605 770.64L1605.5 770.6L1606 770.55L1606.5 770.5L1607 770.45L1607.5 770.41L1608 770.36L1608.5 770.31L1609 770.26L1609.5 770.21L1610 770.17L1610.5 770.12L1611 770.07L1611.5 770.02L1612 769.97L1612.5 769.93L1613 769.88L1613.5 769.83L1614 769.78L1614.5 769.73L1615 769.68L1615.5 769.64L1616 769.59L1616.5 769.54L1617 769.49L1617.5 769.44L1618 769.39L1618.5 769.34L1619 769.29L1619.5 769.24L1620 769.19L1620.5 769.15L1621 769.1L1621.5 769.05L1622 768.99L1622.5 768.93L1623 768.86L1623.5 768.8L1624 768.74L1624.5 768.67L1625 768.61L1625.5 768.55L1626 768.48L1626.5 768.42L1627 768.36L1627.5 768.29L1628 768.23L1628.5 768.16L1629 768.1L1629.5 768.03L1630 767.97L1630.5 767.9L1631 767.84L1631.5 767.77L1632 767.71L1632.5 767.64L1633 767.58L1633.5 767.48L1634 767.26L1634.5 767.05L1635 766.83L1635.5 766.62L1636 766.4L1636.5 766.19L1637 765.97L1637.5 765.75L1638 765.53L1638.5 765.32L1639 765.1L1639.5 764.88L1640 764.66L1640.5 764.43L1641 764.21L1641.5 763.99L1642 763.76L1642.5 763.54L1643 763.31L1643.5 763.08L1644 762.85L1644.5 762.61L1645 762.54L1645.5 762.5L1646 762.46L1646.5 762.41L1647 762.34L1647.5 762.26L1648 762.15L1648.5 762.02L1649 761.86L1649.5 761.66L1650 761.41L1650.5 761.11L1651 760.74L1651.5 760.3L1652 759.79L1652.5 759.18L1653 758.49L1653.5 757.72L1654 756.85L1654.5 755.91L1655 754.9L1655.5 753.84L1656 752.76L1656.5 751.67L1657 750.62L1657.5 749.63L1658 748.74L1658.5 747.99L1659 747.41L1659.5 747.05L1660 746.9L1660.5 746.99L1661 747.3L1661.5 747.82L1662 748.51L1662.5 749.33L1663 750.24L1663.5 751.21L1664 752.2L1664.5 753.17L1665 754.1L1665.5 754.95L1666 755.7L1666.5 756.34L1667 756.85L1667.5 757.21L1668 757.44L1668.5 757.5L1669 757.42L1669.5 757.17L1670 756.77L1670.5 756.22L1671 755.51L1671.5 754.65L1672 753.65L1672.5 752.52L1673 751.26L1673.5 749.89L1674 748.44L1674.5 746.91L1675 745.33L1675.5 743.74L1676 742.16L1676.5 740.63L1677 739.19L1677.5 737.88L1678 736.73L1678.5 735.79L1679 735.09L1679.5 734.66L1680 734.51L1680.5 734.66L1681 735.1L1681.5 735.8L1682 736.74L1682.5 737.89L1683 739.21L1683.5 740.66L1684 742.2L1684.5 743.79L1685 745.4L1685.5 746.99L1686 748.55L1686.5 750.04L1687 751.46L1687.5 752.78L1688 753.99L1688.5 755.1L1689 756.1L1689.5 756.99L1690 757.77L1690.5 758.45L1691 759.04L1691.5 759.54L1692 759.96L1692.5 760.31L1693 760.6L1693.5 760.84L1694 761.03L1694.5 761.19L1695 761.32L1695.5 761.41L1696 761.49L1696.5 761.55L1697 761.59L1697.5 761.44L1698 761.28L1698.5 761.11L1699 760.94L1699.5 760.75L1700 760.57L1700.5 760.38L1701 760.18L1701.5 759.99L1702 759.78L1702.5 759.58L1703 759.37L1703.5 759.16L1704 758.95L1704.5 758.73L1705 758.52L1705.5 758.29L1706 758.07L1706.5 757.84L1707 757.61L1707.5 757.37L1708 757.13L1708.5 756.89L1709 756.64L1709.5 756.55L1710 756.45L1710.5 756.34L1711 756.23L1711.5 756.11L1712 755.97L1712.5 755.83L1713 755.66L1713.5 755.48L1714 755.27L1714.5 755.03L1715 754.76L1715.5 754.44L1716 754.07L1716.5 753.63L1717 753.12L1717.5 752.52L1718 751.81L1718.5 750.98L1719 749.99L1719.5 748.84L1720 747.49L1720.5 745.91L1721 744.09L1721.5 741.98L1722 739.57L1722.5 736.82L1723 733.7L1723.5 730.2L1724 726.3L1724.5 721.98L1725 717.23L1725.5 712.07L1726 706.49L1726.5 700.53L1727 694.21L1727.5 687.57L1728 680.69L1728.5 673.62L1729 666.44L1729.5 659.26L1730 652.17L1730.5 645.29L1731 638.74L1731.5 632.65L1732 627.16L1732.5 622.4L1733 618.48L1733.5 615.51L1734 613.59L1734.5 612.77L1735 613.08L1735.5 614.5L1736 617L1736.5 620.48L1737 624.86L1737.5 630.02L1738 635.82L1738.5 642.13L1739 648.83L1739.5 655.78L1740 662.87L1740.5 669.99L1741 677.04L1741.5 683.94L1742 690.6L1742.5 696.96L1743 702.98L1743.5 708.61L1744 713.82L1744.5 718.6L1745 722.93L1745.5 726.81L1746 730.24L1746.5 733.24L1747 735.81L1747.5 737.96L1748 739.73L1748.5 741.11L1749 742.13L1749.5 742.82L1750 743.19L1750.5 743.26L1751 743.07L1751.5 742.63L1752 741.98L1752.5 741.16L1753 740.2L1753.5 739.16L1754 738.07L1754.5 736.99L1755 735.97L1755.5 735.08L1756 734.36L1756.5 733.87L1757 733.63L1757.5 733.68L1758 734.02L1758.5 734.63L1759 735.49L1759.5 736.55L1760 737.76L1760.5 739.09L1761 740.47L1761.5 741.87L1762 743.25L1762.5 744.58L1763 745.83L1763.5 746.98L1764 748.03L1764.5 748.95L1765 749.76L1765.5 750.46L1766 751.04L1766.5 751.52L1767 751.91L1767.5 752.22L1768 752.45L1768.5 752.62L1769 752.74L1769.5 752.82L1770 752.85L1770.5 752.85L1771 752.83L1771.5 752.78L1772 752.7L1772.5 752.59L1773 752.52L1773.5 752.42L1774 752.29L1774.5 752.12L1775 751.89L1775.5 751.6L1776 751.24L1776.5 750.78L1777 750.21L1777.5 749.51L1778 748.66L1778.5 747.63L1779 746.41L1779.5 744.96L1780 743.26L1780.5 741.3L1781 739.04L1781.5 736.47L1782 733.59L1782.5 730.39L1783 726.87L1783.5 723.05L1784 718.96L1784.5 714.63L1785 710.11L1785.5 705.46L1786 700.75L1786.5 696.06L1787 691.49L1787.5 687.12L1788 683.06L1788.5 679.4L1789 676.24L1789.5 673.65L1790 671.68L1790.5 670.35L1791 669.65L1791.5 669.51L1792 669.83L1792.5 670.49L1793 671.33L1793.5 672.18L1794 672.87L1794.5 673.24L1795 673.11L1795.5 672.36L1796 670.85L1796.5 668.49L1797 665.21L1797.5 660.96L1798 655.76L1798.5 649.64L1799 642.67L1799.5 634.97L1800 626.7L1800.5 618.05L1801 609.24L1801.5 600.52L1802 592.17L1802.5 584.48L1803 577.74L1803.5 572.24L1804 568.23L1804.5 565.94L1805 565.49L1805.5 566.95L1806 570.29L1806.5 575.4L1807 582.11L1807.5 590.19L1808 599.38L1808.5 609.43L1809 620.07L1809.5 631.05L1810 642.14L1810.5 653.14L1811 663.86L1811.5 674.17L1812 683.93L1812.5 693.06L1813 701.48L1813.5 709.17L1814 716.1L1814.5 722.28L1815 727.73L1815.5 732.5L1816 736.63L1816.5 740.16L1817 743.16L1817.5 745.69L1818 747.8L1818.5 749.54L1819 750.97L1819.5 752.12L1820 753.03L1820.5 753.74L1821 754.27L1821.5 754.64L1822 754.86L1822.5 754.95L1823 754.9L1823.5 754.72L1824 754.42L1824.5 753.98L1825 753.41L1825.5 752.7L1826 751.85L1826.5 750.86L1827 749.73L1827.5 748.46L1828 747.07L1828.5 745.57L1829 743.97L1829.5 742.3L1830 740.59L1830.5 738.86L1831 737.16L1831.5 735.53L1832 734L1832.5 732.63L1833 731.46L1833.5 730.54L1834 729.9L1834.5 729.58L1835 729.59L1835.5 729.94L1836 730.61L1836.5 731.6L1837 732.85L1837.5 734.34L1838 736.01L1838.5 737.81L1839 739.72L1839.5 741.67L1840 743.64L1840.5 745.58L1841 747.47L1841.5 749.29L1842 751.01L1842.5 752.62L1843 754.1L1843.5 755.46L1844 756.69L1844.5 757.79L1845 758.77L1845.5 759.64L1846 760.39L1846.5 761.05L1847 761.62L1847.5 762.11L1848 762.53L1848.5 762.89L1849 763.21L1849.5 763.48L1850 763.71L1850.5 763.92L1851 764.1L1851.5 764.27L1852 764.42L1852.5 764.55L1853 764.68L1853.5 764.79L1854 764.91L1854.5 765.01L1855 765.11L1855.5 765.21L1856 765.3L1856.5 765.4L1857 765.49L1857.5 765.6L1858 765.72L1858.5 765.83L1859 765.94L1859.5 766.05L1860 766.16L1860.5 766.27L1861 766.38L1861.5 766.48L1862 766.59L1862.5 766.7L1863 766.8L1863.5 766.9L1864 767.01L1864.5 767.11L1865 767.21L1865.5 767.31L1866 767.41L1866.5 767.51L1867 767.61L1867.5 767.71L1868 767.81L1868.5 767.9L1869 768L1869.5 768.1L1870 768.2L1870.5 768.29L1871 768.39L1871.5 768.48L1872 768.58L1872.5 768.67L1873 768.77L1873.5 768.86L1874 768.96L1874.5 769.05L1875 769.14L1875.5 769.24L1876 769.33L1876.5 769.42L1877 769.52L1877.5 769.61L1878 769.7L1878.5 769.79L1879 769.88L1879.5 769.98L1880 770.07L1880.5 770.16L1881 770.25L1881.5 770.34L1882 770.43L1882.5 770.52L1883 770.61L1883.5 770.7L1884 770.79L1884.5 770.88L1885 770.97L1885.5 771.06L1886 771.15L1886.5 771.24L1887 771.33L1887.5 771.42L1888 771.5L1888.5 771.59L1889 771.67L1889.5 771.76L1890 771.84L1890.5 771.93L1891 772.01L1891.5 772.1L1892 772.18L1892.5 772.26L1893 772.35L1893.5 772.43L1894 772.51L1894.5 772.6L1895 772.68L1895.5 772.76L1896 772.84L1896.5 772.93L1897 773.01L1897.5 773.09L1898 773.17L1898.5 773.25L1899 773.33L1899.5 773.41L1900 773.49L1900.5 773.57L1901 773.65L1901.5 773.73L1902 773.8L1902.5 773.88L1903 773.95L1903.5 774.02L1904 774.09L1904.5 774.16L1905 774.22L1905.5 774.28L1906 774.34L1906.5 774.29L1907 774.24L1907.5 774.18L1908 774.1L1908.5 774.02L1909 773.92L1909.5 773.8L1910 773.67L1910.5 773.52L1911 773.34L1911.5 773.15L1912 772.93L1912.5 772.69L1913 772.43L1913.5 772.15L1914 771.84L1914.5 771.52L1915 771.19L1915.5 770.85L1916 770.51L1916.5 770.17L1917 769.85L1917.5 769.54L1918 769.25L1918.5 769L1919 768.8L1919.5 768.64L1920 768.54L1920.5 768.5L1921 768.51L1921.5 768.59L1922 768.72L1922.5 768.9L1923 769.12L1923.5 769.38L1924 769.66L1924.5 769.96L1925 770.27L1925.5 770.59L1926 770.9L1926.5 771.2L1927 771.49L1927.5 771.77L1928 772.02L1928.5 772.26L1929 772.47L1929.5 772.66L1930 772.82L1930.5 772.96L1931 773.08L1931.5 773.18L1932 773.27L1932.5 773.33L1933 773.38L1933.5 773.42L1934 773.44L1934.5 773.45L1935 773.45L1935.5 773.45L1936 773.44L1936.5 773.42L1937 773.39L1937.5 773.35L1938 773.29L1938.5 773.23L1939 773.14L1939.5 773.04L1940 772.92L1940.5 772.78L1941 772.61L1941.5 772.41L1942 772.18L1942.5 771.91L1943 771.6L1943.5 771.25L1944 770.85L1944.5 770.4L1945 769.89L1945.5 769.33L1946 768.71L1946.5 768.04L1947 767.31L1947.5 766.53L1948 765.7L1948.5 764.83L1949 763.92L1949.5 762.98L1950 762.03L1950.5 761.07L1951 760.11L1951.5 759.18L1952 758.29L1952.5 757.46L1953 756.7L1953.5 756.02L1954 755.46L1954.5 755.01L1955 754.71L1955.5 754.54L1956 754.53L1956.5 754.66L1957 754.94L1957.5 755.35L1958 755.9L1958.5 756.55L1959 757.29L1959.5 758.11L1960 758.99L1960.5 759.91L1961 760.86L1961.5 761.82L1962 762.78L1962.5 763.72L1963 764.63L1963.5 765.51L1964 766.35L1964.5 767.14L1965 767.88L1965.5 768.56L1966 769.19L1966.5 769.76L1967 770.28L1967.5 770.74L1968 771.15L1968.5 771.51L1969 771.83L1969.5 772.11L1970 772.35L1970.5 772.56L1971 772.73L1971.5 772.88L1972 773.01L1972.5 773.12L1973 773.21L1973.5 773.29L1974 773.35L1974.5 773.41L1975 773.45L1975.5 773.49L1976 773.52L1976.5 773.54L1977 773.56L1977.5 773.58L1978 773.6L1978.5 773.61L1979 773.62L1979.5 773.63L1980 773.64L1980.5 773.64L1981 773.65L1981.5 773.66L1982 773.66L1982.5 773.66L1983 773.67L1983.5 773.67L1984 773.67L1984.5 773.67L1985 773.67L1985.5 773.68L1986 773.68L1986.5 773.68L1987 773.68L1987.5 773.68L1988 773.68L1988.5 773.67L1989 773.67L1989.5 773.67L1990 773.67L1990.5 773.67L1991 773.67L1991.5 773.66L1992 773.66L1992.5 773.66L1993 773.66L1993.5 773.65L1994 773.65L1994.5 773.65L1995 773.64L1995.5 773.64L1996 773.63L1996.5 773.63L1997 773.63L1997.5 773.62L1998 773.62L1998.5 773.61L1999 773.61L1999.5 773.6L2000 773.6L2000.5 773.59L2001 773.59L2001.5 773.58L2002 773.58L2002.5 773.57L2003 773.56L2003.5 773.56L2004 773.55L2004.5 773.55L2005 773.54L2005.5 773.53L2006 773.53L2006.5 773.52L2007 773.51L2007.5 773.5L2008 773.5L2008.5 773.49L2009 773.48L2009.5 773.48L2010 773.47L2010.5 773.46L2011 773.45L2011.5 773.42L2012 773.38L2012.5 773.35L2013 773.31L2013.5 773.28L2014 773.24L2014.5 773.21L2015 773.17L2015.5 773.13L2016 773.1L2016.5 773.06L2017 773.03L2017.5 772.99L2018 772.95L2018.5 772.92L2019 772.88L2019.5 772.84L2020 772.8L2020.5 772.77L2021 772.73L2021.5 772.69L2022 772.65L2022.5 772.61L2023 772.58L2023.5 772.54L2024 772.5L2024.5 772.46L2025 772.42L2025.5 772.38L2026 772.34L2026.5 772.3L2027 772.26L2027.5 772.22L2028 772.17L2028.5 772.13L2029 772.09L2029.5 772.05L2030 772L2030.5 771.96L2031 771.92L2031.5 771.87L2032 771.83L2032.5 771.79L2033 771.74L2033.5 771.69L2034 771.65L2034.5 771.6L2035 771.55L2035.5 771.51L2036 771.46L2036.5 771.41L2037 771.36L2037.5 771.31L2038 771.26L2038.5 771.21L2039 771.16L2039.5 771.1L2040 771.05L2040.5 771L2041 770.94L2041.5 770.89L2042 770.83L2042.5 770.77L2043 770.71L2043.5 770.65L2044 770.59L2044.5 770.53L2045 770.43L2045.5 770.34L2046 770.24L2046.5 770.14L2047 770.04L2047.5 769.93L2048 769.83L2048.5 769.72L2049 769.62L2049.5 769.51L2050 769.39L2050.5 769.28L2051 769.16L2051.5 769.05L2052 768.93L2052.5 768.8L2053 768.68L2053.5 768.55L2054 768.41L2054.5 768.28L2055 768.14L2055.5 767.99L2056 767.84L2056.5 767.69L2057 767.53L2057.5 767.36L2058 767.18L2058.5 767L2059 766.8L2059.5 766.6L2060 766.37L2060.5 766.16L2061 765.93L2061.5 765.68L2062 765.39L2062.5 765.07L2063 764.7L2063.5 764.27L2064 763.79L2064.5 763.22L2065 762.57L2065.5 761.81L2066 760.93L2066.5 759.9L2067 758.71L2067.5 757.33L2068 755.73L2068.5 753.89L2069 751.78L2069.5 749.37L2070 746.63L2070.5 743.54L2071 740.05L2071.5 736.16L2072 731.83L2072.5 727.06L2073 721.82L2073.5 716.12L2074 709.96L2074.5 703.35L2075 696.31L2075.5 688.87L2076 681.08L2076.5 673L2077 664.69L2077.5 656.22L2078 647.7L2078.5 639.21L2079 630.88L2079.5 622.82L2080 615.15L2080.5 608.01L2081 601.54L2081.5 595.87L2082 591.12L2082.5 587.4L2083 584.82L2083.5 583.43L2084 583.27L2084.5 584.35L2085 586.64L2085.5 590.07L2086 594.55L2086.5 599.99L2087 606.24L2087.5 613.19L2088 620.69L2088.5 628.62L2089 636.85L2089.5 645.24L2090 653.7L2090.5 662.12L2091 670.4L2091.5 678.47L2092 686.25L2092.5 693.69L2093 700.74L2093.5 707.36L2094 713.54L2094.5 719.26L2095 724.51L2095.5 729.3L2096 733.63L2096.5 737.52L2097 740.99L2097.5 744.06L2098 746.76L2098.5 749.11L2099 751.14L2099.5 752.89L2100 754.37L2100.5 755.61L2101 756.64L2101.5 757.47L2102 758.12L2102.5 758.62L2103 758.97L2103.5 759.19L2104 759.29L2104.5 759.3L2105 759.21L2105.5 759.03L2106 758.77L2106.5 758.43L2107 758.03L2107.5 757.57L2108 757.06L2108.5 756.52L2109 755.95L2109.5 755.37L2110 754.79L2110.5 754.22L2111 753.68L2111.5 753.18L2112 752.74L2112.5 752.38L2113 752.1L2113.5 751.92L2114 751.85L2114.5 751.89L2115 752.04L2115.5 752.3L2116 752.66L2116.5 753.12L2117 753.65L2117.5 754.25L2118 754.9L2118.5 755.58L2119 756.29L2119.5 757L2120 757.72L2120.5 758.42L2121 759.1L2121.5 759.75L2122 760.37L2122.5 760.95L2123 761.49L2123.5 761.98L2124 762.43L2124.5 762.84L2125 763.2L2125.5 763.52L2126 763.8L2126.5 764.04L2127 764.26L2127.5 764.44L2128 764.6L2128.5 764.73L2129 764.84L2129.5 764.93L2130 765.01L2130.5 765.08L2131 765.14L2131.5 765.18L2132 765.22L2132.5 765.2L2133 765.18L2133.5 765.15L2134 765.12L2134.5 765.08L2135 765.05L2135.5 765.01L2136 764.97L2136.5 764.92L2137 764.88L2137.5 764.83L2138 764.79L2138.5 764.74L2139 764.69L2139.5 764.65L2140 764.6L2140.5 764.55L2141 764.5L2141.5 764.44L2142 764.39L2142.5 764.34L2143 764.29L2143.5 764.23L2144 764.18L2144.5 764.13L2145 764.07L2145.5 764.02L2146 763.96L2146.5 763.91L2147 763.85L2147.5 763.8L2148 763.74L2148.5 763.68L2149 763.62L2149.5 763.57L2150 763.51L2150.5 763.45L2151 763.59L2151.5 763.73L2152 763.88L2152.5 764.02L2153 764.16L2153.5 764.3L2154 764.44L2154.5 764.58L2155 764.72L2155.5 764.86L2156 765L2156.5 765.14L2157 765.28L2157.5 765.42L2158 765.55L2158.5 765.69L2159 765.83L2159.5 765.97L2160 766.11L2160.5 766.24L2161 766.38L2161.5 766.52L2162 766.66L2162.5 766.79L2163 766.93L2163.5 767.07L2164 767.2L2164.5 767.34L2165 767.48L2165.5 767.61L2166 767.75L2166.5 767.88L2167 767.96L2167.5 767.96L2168 767.96L2168.5 767.96L2169 767.96L2169.5 767.96L2170 767.96L2170.5 767.96L2171 767.95L2171.5 767.95L2172 767.95L2172.5 767.94L2173 767.94L2173.5 767.93L2174 767.93L2174.5 767.92L2175 767.91L2175.5 767.9L2176 767.89L2176.5 767.88L2177 767.86L2177.5 767.84L2178 767.82L2178.5 767.8L2179 767.77L2179.5 767.74L2180 767.7L2180.5 767.65L2181 767.59L2181.5 767.53L2182 767.46L2182.5 767.37L2183 767.28L2183.5 767.17L2184 767.06L2184.5 766.93L2185 766.78L2185.5 766.62L2186 766.45L2186.5 766.26L2187 766.05L2187.5 765.83L2188 765.59L2188.5 765.33L2189 765.07L2189.5 764.78L2190 764.49L2190.5 764.18L2191 763.87L2191.5 763.55L2192 763.23L2192.5 762.91L2193 762.59L2193.5 762.28L2194 761.98L2194.5 761.7L2195 761.44L2195.5 761.21L2196 761L2196.5 760.83L2197 760.69L2197.5 760.6L2198 760.54L2198.5 760.53L2199 760.56L2199.5 760.64L2200 760.75L2200.5 760.91L2201 761.09L2201.5 761.31L2202 761.55L2202.5 761.82L2203 762.1L2203.5 762.39L2204 762.69L2204.5 763L2205 763.31L2205.5 763.62L2206 763.92L2206.5 764.21L2207 764.5L2207.5 764.77L2208 765.03L2208.5 765.27L2209 765.5L2209.5 765.72L2210 765.91L2210.5 766.1L2211 766.26L2211.5 766.41L2212 766.54L2212.5 766.66L2213 766.77L2213.5 766.86L2214 766.95L2214.5 767.02L2215 767.08L2215.5 767.14L2216 767.2L2216.5 767.24L2217 767.28L2217.5 767.32L2218 767.35L2218.5 767.37L2219 767.4L2219.5 767.42L2220 767.43L2220.5 767.45L2221 767.46L2221.5 767.47L2222 767.48L2222.5 767.49L2223 767.5L2223.5 767.5L2224 767.51L2224.5 767.51L2225 767.52L2225.5 767.52L2226 767.53L2226.5 767.53L2227 767.53L2227.5 767.53L2228 767.54L2228.5 767.54L2229 767.54L2229.5 767.54L2230 767.54L2230.5 767.54L2231 767.54L2231.5 767.54L2232 767.54L2232.5 767.54L2233 767.54L2233.5 767.54L2234 767.54L2234.5 767.54L2235 767.54L2235.5 767.54L2236 767.53L2236.5 767.53L2237 767.53L2237.5 767.53L2238 767.52L2238.5 767.52L2239 767.52L2239.5 767.51L2240 767.51L2240.5 767.5L2241 767.5L2241.5 767.5L2242 767.49L2242.5 767.48L2243 767.48L2243.5 767.47L2244 767.46L2244.5 767.46L2245 767.45L2245.5 767.44L2246 767.43L2246.5 767.42L2247 767.41L2247.5 767.4L2248 767.39L2248.5 767.38L2249 767.36L2249.5 767.35L2250 767.34L2250.5 767.32L2251 767.3L2251.5 767.28L2252 767.26L2252.5 767.24L2253 767.21L2253.5 767.19L2254 767.15L2254.5 767.12L2255 767.08L2255.5 767L2256 766.92L2256.5 766.83L2257 766.73L2257.5 766.62L2258 766.5L2258.5 766.37L2259 766.22L2259.5 766.06L2260 765.87L2260.5 765.66L2261 765.43L2261.5 765.16L2262 764.87L2262.5 764.53L2263 764.16L2263.5 763.74L2264 763.28L2264.5 762.76L2265 762.19L2265.5 761.56L2266 760.86L2266.5 760.1L2267 759.27L2267.5 758.38L2268 757.41L2268.5 756.37L2269 755.25L2269.5 754.08L2270 752.83L2270.5 751.53L2271 750.17L2271.5 748.76L2272 747.31L2272.5 745.84L2273 744.34L2273.5 742.84L2274 741.35L2274.5 739.88L2275 738.45L2275.5 737.08L2276 735.78L2276.5 734.57L2277 733.48L2277.5 732.51L2278 731.68L2278.5 731.02L2279 730.53L2279.5 730.21L2280 730.09L2280.5 730.15L2281 730.4L2281.5 730.84L2282 731.44L2282.5 732.21L2283 733.12L2283.5 734.15L2284 735.3L2284.5 736.54L2285 737.85L2285.5 739.22L2286 740.63L2286.5 742.06L2287 743.5L2287.5 744.93L2288 746.35L2288.5 747.73L2289 749.08L2289.5 750.38L2290 751.62L2290.5 752.81L2291 753.93L2291.5 754.98L2292 755.96L2292.5 756.86L2293 757.7L2293.5 758.47L2294 759.17L2294.5 759.81L2295 760.38L2295.5 760.89L2296 761.35L2296.5 761.75L2297 762.11L2297.5 762.42L2298 762.69L2298.5 762.93L2299 763.13L2299.5 763.3L2300 763.45L2300.5 763.67L2301 763.86L2301.5 764.04L2302 764.2L2302.5 764.35L2303 764.49L2303.5 764.62L2304 764.74L2304.5 764.85L2305 764.96L2305.5 765.06L2306 765.15L2306.5 765.24L2307 765.33L2307.5 765.42L2308 765.5L2308.5 765.59L2309 765.66L2309.5 765.74L2310 765.82L2310.5 765.89L2311 765.97L2311.5 766.04L2312 766.11L2312.5 766.18L2313 766.25L2313.5 766.32L2314 766.39L2314.5 766.45L2315 766.52L2315.5 766.58L2316 766.64L2316.5 766.7L2317 766.75L2317.5 766.81L2318 766.86L2318.5 766.91L2319 766.95L2319.5 766.99L2320 767.03L2320.5 767.06L2321 767.08L2321.5 767.12L2322 767.15L2322.5 767.17L2323 767.19L2323.5 767.19L2324 767.19L2324.5 767.17L2325 767.15L2325.5 767.11L2326 767.07L2326.5 767.01L2327 766.94L2327.5 766.86L2328 766.77L2328.5 766.67L2329 766.56L2329.5 766.44L2330 766.32L2330.5 766.19L2331 766.05L2331.5 765.92L2332 765.79L2332.5 765.66L2333 765.54L2333.5 765.42L2334 765.32L2334.5 765.24L2335 765.17L2335.5 765.13L2336 765.11L2336.5 765.11L2337 765.14L2337.5 765.21L2338 765.3L2338.5 765.42L2339 765.57L2339.5 765.75L2340 765.95L2340.5 766.17L2341 766.42L2341.5 766.68L2342 766.95L2342.5 767.24L2343 767.53L2343.5 767.83L2344 768.12L2344.5 768.42L2345 768.72L2345.5 769.02L2346 769.3L2346.5 769.58L2347 769.85L2347.5 770.12L2348 770.37L2348.5 770.61L2349 770.84L2349.5 771.06L2350 771.26L2350.5 771.46L2351 771.64L2351.5 771.82L2352 771.99L2352.5 772.14L2353 772.29L2353.5 772.43L2354 772.56L2354.5 772.69L2355 772.81L2355.5 772.93L2356 773.04L2356.5 773.15L2357 773.25L2357.5 773.35L2358 773.45L2358.5 773.48L2359 773.5L2359.5 773.53L2360 773.55L2360.5 773.57L2361 773.59L2361.5 773.61L2362 773.63L2362.5 773.65L2363 773.67L2363.5 773.68L2364 773.7L2364.5 773.71L2365 773.73L2365.5 773.75L2366 773.76L2366.5 773.78L2367 773.79L2367.5 773.81L2368 773.82L2368.5 773.84L2369 773.85L2369.5 773.87L2370 773.88L2370.5 773.89L2371 773.91L2371.5 773.92L2372 773.94L2372.5 773.95L2373 773.96L2373.5 773.98L2374 773.99L2374.5 774.01L2375 774.02L2375.5 774.03L2376 774.05L2376.5 774.06L2377 774.07L2377.5 774.09L2378 774.1L2378.5 774.11L2379 774.13L2379.5 774.14L2380 774.15L2380.5 774.17L2381 774.18L2381.5 774.19L2382 774.21L2382.5 774.22L2383 774.23L2383.5 774.25L2384 774.26L2384.5 774.27L2385 774.28L2385.5 774.3L2386 774.31L2386.5 774.32L2387 774.34" fill="none" stroke="#000" stroke-width="6.2" stroke-linejoin="round" stroke-linecap="butt" transform="scale(1 1.13)"/>
<path id="bot-data" d="M190.5 1724.9h0M191.4 1726.1h0M192.3 1726.4h0M193.1 1724.3h0M194 1724.7h0M194.9 1727.3h0M195.8 1724.3h0M196.7 1724.5h0M197.5 1727.4h0M198.4 1726.2h0M199.3 1725.4h0M200.2 1725.9h0M201 1726.5h0M201.9 1725.3h0M202.8 1724.9h0M203.7 1727.2h0M204.6 1726.9h0M205.4 1726.4h0M206.3 1727.5h0M207.2 1726.6h0M208.1 1728.2h0M209 1725.5h0M209.8 1726.8h0M210.7 1726.5h0M211.6 1726.1h0M212.5 1726.9h0M213.3 1725.7h0M214.2 1727.7h0M215.1 1727.9h0M216 1725.4h0M216.9 1726.5h0M217.7 1725.9h0M218.6 1725.2h0M219.5 1728h0M220.4 1726.4h0M221.3 1725.4h0M222.1 1727.2h0M223 1725.5h0M223.9 1728h0M224.8 1725.6h0M225.6 1724.9h0M226.5 1725.5h0M227.4 1726h0M228.3 1726.5h0M229.2 1728h0M230 1727.3h0M230.9 1726.1h0M231.8 1725h0M232.7 1725.5h0M233.6 1728.5h0M234.4 1726.7h0M235.3 1727.5h0M236.2 1725.3h0M237.1 1725.3h0M237.9 1728.1h0M238.8 1727.2h0M239.7 1726.2h0M240.6 1726.2h0M241.5 1725.4h0M242.3 1725.6h0M243.2 1725.1h0M244.1 1727.9h0M245 1726.5h0M245.9 1725.3h0M246.7 1727.5h0M247.6 1725.6h0M248.5 1725.1h0M249.4 1727h0M250.2 1728.1h0M251.1 1725.1h0M252 1727.8h0M252.9 1725.7h0M253.8 1725.4h0M254.6 1725.1h0M255.5 1726.1h0M256.4 1727.6h0M257.3 1726.7h0M258.2 1728h0M259 1725.7h0M259.9 1726.1h0M260.8 1725.9h0M261.7 1728.4h0M262.5 1728.2h0M263.4 1726.2h0M264.3 1726.5h0M265.2 1726.1h0M266.1 1727.7h0M266.9 1725.2h0M267.8 1725.4h0M268.7 1726.6h0M269.6 1726h0M270.5 1728.2h0M271.3 1727.8h0M272.2 1727.1h0M273.1 1727.5h0M274 1727.6h0M274.8 1727.9h0M275.7 1728.3h0M276.6 1725.6h0M277.5 1727.2h0M278.4 1725.4h0M279.2 1726.4h0M280.1 1727.5h0M281 1727.8h0M281.9 1727.3h0M282.8 1724.7h0M283.6 1725.8h0M284.5 1725.1h0M285.4 1728.1h0M286.3 1725.1h0M287.1 1725.5h0M288 1726h0M288.9 1725h0M289.8 1727.9h0M290.7 1727.1h0M291.5 1725.5h0M292.4 1726.8h0M293.3 1725.4h0M294.2 1727.3h0M295.1 1726h0M295.9 1725.4h0M296.8 1725.7h0M297.7 1727.3h0M298.6 1727.6h0M299.4 1726.5h0M300.3 1727.6h0M301.2 1726.6h0M302.1 1725.8h0M303 1726.4h0M303.8 1726.7h0M304.7 1728.5h0M305.6 1725.7h0M306.5 1725.5h0M307.4 1727.2h0M308.2 1728.5h0M309.1 1728.3h0M310 1727.6h0M310.9 1725.4h0M311.7 1727.9h0M312.6 1727.5h0M313.5 1725.6h0M314.4 1726.8h0M315.3 1725.4h0M316.1 1728.1h0M317 1727.8h0M317.9 1728.2h0M318.8 1728.1h0M319.7 1726.5h0M320.5 1728.4h0M321.4 1726.6h0M322.3 1726.2h0M323.2 1727.2h0M324 1727.6h0M324.9 1727h0M325.8 1728.1h0M326.7 1728.2h0M327.6 1726.9h0M328.4 1728.3h0M329.3 1727.4h0M330.2 1728.8h0M331.1 1727.2h0M332 1729h0M332.8 1727.6h0M333.7 1728.1h0M334.6 1728.4h0M335.5 1727.8h0M336.3 1726.8h0M337.2 1729.2h0M338.1 1725.9h0M339 1726.6h0M339.9 1727.2h0M340.7 1725.3h0M341.6 1725.6h0M342.5 1727.8h0M343.4 1727.7h0M344.3 1727.1h0M345.1 1728h0M346 1727.5h0M346.9 1726h0M347.8 1727.3h0M348.6 1726.3h0M349.5 1727.9h0M350.4 1726.7h0M351.3 1726h0M352.2 1728.6h0M353 1728.1h0M353.9 1728.4h0M354.8 1727.8h0M355.7 1728.7h0M356.6 1727.5h0M357.4 1728h0M358.3 1726.3h0M359.2 1728.1h0M360.1 1729h0M360.9 1728.6h0M361.8 1729h0M362.7 1728h0M363.6 1729.4h0M364.5 1726.7h0M365.3 1729.4h0M366.2 1727.7h0M367.1 1726.7h0M368 1728.6h0M368.9 1728.1h0M369.7 1728h0M370.6 1729.5h0M371.5 1727h0M372.4 1728.7h0M373.2 1728h0M374.1 1728.4h0M375 1728.3h0M375.9 1727h0M376.8 1728.4h0M377.6 1729.6h0M378.5 1727.1h0M379.4 1726.6h0M380.3 1726.7h0M381.2 1728.1h0M382 1729.9h0M382.9 1726.6h0M383.8 1729.9h0M384.7 1728.3h0M385.5 1726.9h0M386.4 1728h0M387.3 1727.2h0M388.2 1729h0M389.1 1728.5h0M389.9 1727.6h0M390.8 1727.5h0M391.7 1729.7h0M392.6 1729.3h0M393.5 1728.2h0M394.3 1728h0M395.2 1729.2h0M396.1 1730h0M397 1726.8h0M397.8 1727h0M398.7 1727.7h0M399.6 1728.1h0M400.5 1726.5h0M401.4 1726.4h0M402.2 1726.9h0M403.1 1727.5h0M404 1728.7h0M404.9 1728.2h0M405.8 1726.2h0M406.6 1726.2h0M407.5 1727.6h0M408.4 1729.1h0M409.3 1729.3h0M410.1 1727.4h0M411 1729.2h0M411.9 1729.4h0M412.8 1727.6h0M413.7 1728.8h0M414.5 1727.5h0M415.4 1726.8h0M416.3 1728.4h0M417.2 1726.7h0M418.1 1728.8h0M418.9 1729.3h0M419.8 1729.7h0M420.7 1728.1h0M421.6 1727h0M422.5 1729.8h0M423.3 1729.7h0M424.2 1730.1h0M425.1 1728.8h0M426 1729.1h0M426.8 1728.1h0M427.7 1727.4h0M428.6 1727.8h0M429.5 1729.3h0M430.4 1727.9h0M431.2 1729.2h0M432.1 1728.5h0M433 1728.3h0M433.9 1730.1h0M434.8 1727.2h0M435.6 1728.3h0M436.5 1727.2h0M437.4 1729.9h0M438.3 1728.4h0M439.1 1727.8h0M440 1727.3h0M440.9 1728.8h0M441.8 1728.1h0M442.7 1727.1h0M443.5 1726.8h0M444.4 1728h0M445.3 1728.7h0M446.2 1728.4h0M447.1 1729.7h0M447.9 1729.7h0M448.8 1729.7h0M449.7 1729.2h0M450.6 1728h0M451.4 1728.1h0M452.3 1727.6h0M453.2 1727.6h0M454.1 1726.4h0M455 1729h0M455.8 1727.1h0M456.7 1726.3h0M457.6 1727.9h0M458.5 1728.7h0M459.4 1727.8h0M460.2 1727.5h0M461.1 1728.5h0M462 1726.8h0M462.9 1726.2h0M463.7 1728.2h0M464.6 1727.9h0M465.5 1729h0M466.4 1727.4h0M467.3 1728.6h0M468.1 1725.9h0M469 1725.8h0M469.9 1727.8h0M470.8 1726.5h0M471.7 1725.9h0M472.5 1726.1h0M473.4 1726.9h0M474.3 1726.8h0M475.2 1727.6h0M476 1728.7h0M476.9 1726.9h0M477.8 1726.3h0M478.7 1727.7h0M479.6 1725.7h0M480.4 1727h0M481.3 1726.8h0M482.2 1727h0M483.1 1725.8h0M484 1727.6h0M484.8 1727.9h0M485.7 1728.3h0M486.6 1729.1h0M487.5 1727h0M488.3 1728.1h0M489.2 1727.4h0M490.1 1726.7h0M491 1729.2h0M491.9 1728.7h0M492.7 1729.5h0M493.6 1729.2h0M494.5 1729.7h0M495.4 1727h0M496.3 1726.7h0M497.1 1727.5h0M498 1728.4h0M498.9 1729.4h0M499.8 1728.6h0M500.6 1729h0M501.5 1730h0M502.4 1727.6h0M503.3 1729.8h0M504.2 1727.6h0M505 1728.4h0M505.9 1730h0M506.8 1729.9h0M507.7 1728.9h0M508.6 1728.5h0M509.4 1730.4h0M510.3 1728.4h0M511.2 1727.5h0M512.1 1728.1h0M512.9 1727.3h0M513.8 1730h0M514.7 1727.5h0M515.6 1730.4h0M516.5 1727.7h0M517.3 1727.9h0M518.2 1728.9h0M519.1 1727.8h0M520 1728h0M520.9 1727h0M521.7 1728h0M522.6 1726.7h0M523.5 1727.3h0M524.4 1729.7h0M525.2 1727.5h0M526.1 1727.5h0M527 1728.9h0M527.9 1729.6h0M528.8 1727.6h0M529.6 1727.9h0M530.5 1729.1h0M531.4 1729.4h0M532.3 1728.8h0M533.2 1727.3h0M534 1727.3h0M534.9 1729.3h0M535.8 1729.1h0M536.7 1729.8h0M537.5 1729.4h0M538.4 1728.2h0M539.3 1727.2h0M540.2 1729.8h0M541.1 1729.2h0M541.9 1728.8h0M542.8 1729.2h0M543.7 1728.2h0M544.6 1728.1h0M545.5 1729h0M546.3 1728.7h0M547.2 1729.6h0M548.1 1730.5h0M549 1730.3h0M549.8 1728.7h0M550.7 1728.8h0M551.6 1730.8h0M552.5 1729h0M553.4 1730.5h0M554.2 1728.1h0M555.1 1729.4h0M556 1729.6h0M556.9 1730.6h0M557.8 1730.9h0M558.6 1728.3h0M559.5 1729.9h0M560.4 1729.9h0M561.3 1728.2h0M562.1 1730.5h0M563 1729.5h0M563.9 1730.8h0M564.8 1728.1h0M565.7 1729.2h0M566.5 1728.4h0M567.4 1729.5h0M568.3 1729.4h0M569.2 1729h0M570.1 1728.4h0M570.9 1729h0M571.8 1728.6h0M572.7 1730.4h0M573.6 1728.9h0M574.4 1729h0M575.3 1728.3h0M576.2 1728.3h0M577.1 1730.7h0M578 1728.5h0M578.8 1730.4h0M579.7 1729.4h0M580.6 1730.7h0M581.5 1727.8h0M582.4 1730.5h0M583.2 1729.8h0M584.1 1729.1h0M585 1729.5h0M585.9 1729.5h0M586.7 1728.5h0M587.6 1729.1h0M588.5 1727.7h0M589.4 1726.9h0M590.3 1729.2h0M591.1 1728.4h0M592 1729.9h0M592.9 1727.6h0M593.8 1729.6h0M594.7 1730.1h0M595.5 1729.8h0M596.4 1730h0M597.3 1727.2h0M598.2 1727.2h0M599 1727.4h0M599.9 1727.9h0M600.8 1727h0M601.7 1727.1h0M602.6 1726.6h0M603.4 1729.8h0M604.3 1727.8h0M605.2 1728.7h0M606.1 1728.1h0M607 1729.1h0M607.8 1729.3h0M608.7 1727.8h0M609.6 1728.3h0M610.5 1726.8h0M611.3 1727.4h0M612.2 1727h0M613.1 1727.2h0M614 1727.2h0M614.9 1727.9h0M615.7 1726.8h0M616.6 1726.6h0M617.5 1728.2h0M618.4 1725.1h0M619.3 1724.8h0M620.1 1724.8h0M621 1727.3h0M621.9 1726.3h0M622.8 1726.3h0M623.6 1726.8h0M624.5 1723.8h0M625.4 1725.7h0M626.3 1722.6h0M627.2 1722.6h0M628 1721.7h0M628.9 1719.9h0M629.8 1714.8h0M630.7 1711.1h0M631.6 1703.3h0M632.4 1695.7h0M633.3 1687.3h0M634.2 1673.6h0M635.1 1656.8h0M636 1640.1h0M636.8 1622.6h0M637.7 1603.5h0M638.6 1591.7h0M639.5 1580.7h0M640.3 1577.2h0M641.2 1583.3h0M642.1 1594.6h0M643 1610.3h0M643.9 1627.8h0M644.7 1643.5h0M645.6 1662.5h0M646.5 1678.5h0M647.4 1690.2h0M648.3 1701.4h0M649.1 1707.5h0M650 1714.3h0M650.9 1716.1h0M651.8 1721.6h0M652.6 1722h0M653.5 1724.9h0M654.4 1724h0M655.3 1725.8h0M656.2 1727.1h0M657 1727.1h0M657.9 1727.2h0M658.8 1728.7h0M659.7 1725.9h0M660.6 1726.2h0M661.4 1728h0M662.3 1729.6h0M663.2 1728.8h0M664.1 1727.6h0M664.9 1727h0M665.8 1728.3h0M666.7 1728.4h0M667.6 1728.4h0M668.5 1728.9h0M669.3 1727.7h0M670.2 1729.8h0M671.1 1727.7h0M672 1727h0M672.9 1727.9h0M673.7 1729.9h0M674.6 1727.1h0M675.5 1727.5h0M676.4 1729.8h0M677.2 1727.7h0M678.1 1729.5h0M679 1726.7h0M679.9 1729.7h0M680.8 1727.5h0M681.6 1727.3h0M682.5 1729.4h0M683.4 1730.3h0M684.3 1730.3h0M685.2 1729.6h0M686 1730.3h0M686.9 1730.6h0M687.8 1729.1h0M688.7 1727.8h0M689.5 1730.3h0M690.4 1728.7h0M691.3 1728.5h0M692.2 1729.2h0M693.1 1727.6h0M693.9 1727.5h0M694.8 1728.4h0M695.7 1729.6h0M696.6 1730.2h0M697.5 1730.9h0M698.3 1730.4h0M699.2 1730.9h0M700.1 1729.8h0M701 1730.2h0M701.8 1729.7h0M702.7 1728h0M703.6 1727.9h0M704.5 1730.4h0M705.4 1728.5h0M706.2 1730.6h0M707.1 1729.5h0M708 1727.9h0M708.9 1729.9h0M709.8 1729.6h0M710.6 1728.3h0M711.5 1729h0M712.4 1729.2h0M713.3 1729.4h0M714.1 1730.7h0M715 1728.8h0M715.9 1729.7h0M716.8 1730.3h0M717.7 1731.5h0M718.5 1728.6h0M719.4 1728.5h0M720.3 1728.9h0M721.2 1729h0M722.1 1728.8h0M722.9 1728.5h0M723.8 1729.1h0M724.7 1729.2h0M725.6 1730.1h0M726.4 1730.7h0M727.3 1729.8h0M728.2 1729.2h0M729.1 1729h0M730 1729.6h0M730.8 1729.3h0M731.7 1730.4h0M732.6 1731.8h0M733.5 1731.2h0M734.4 1729.4h0M735.2 1728.8h0M736.1 1728.9h0M737 1730.2h0M737.9 1729.9h0M738.7 1731h0M739.6 1728.8h0M740.5 1729.4h0M741.4 1730.8h0M742.3 1730.4h0M743.1 1730.1h0M744 1731.4h0M744.9 1728.6h0M745.8 1728.9h0M746.7 1730.2h0M747.5 1730.2h0M748.4 1731.7h0M749.3 1731.7h0M750.2 1730.4h0M751 1731.1h0M751.9 1731h0M752.8 1729.1h0M753.7 1730.9h0M754.6 1730h0M755.4 1730.2h0M756.3 1729.6h0M757.2 1729.2h0M758.1 1732.2h0M759 1731.8h0M759.8 1731.9h0M760.7 1730.3h0M761.6 1730.8h0M762.5 1729.9h0M763.3 1731.4h0M764.2 1732.2h0M765.1 1732h0M766 1732.6h0M766.9 1730.2h0M767.7 1731.7h0M768.6 1729.7h0M769.5 1731.1h0M770.4 1729.6h0M771.3 1731h0M772.1 1731h0M773 1730.2h0M773.9 1730.2h0M774.8 1731.4h0M775.6 1730.5h0M776.5 1730.2h0M777.4 1729.1h0M778.3 1729.7h0M779.2 1731.6h0M780 1732h0M780.9 1729.9h0M781.8 1731.6h0M782.7 1731.6h0M783.6 1729.3h0M784.4 1729.4h0M785.3 1730.9h0M786.2 1729.5h0M787.1 1731.7h0M787.9 1729.5h0M788.8 1730.8h0M789.7 1730.6h0M790.6 1728.8h0M791.5 1731h0M792.3 1729h0M793.2 1728.2h0M794.1 1727.9h0M795 1729.2h0M795.9 1729.8h0M796.7 1728.5h0M797.6 1730.4h0M798.5 1728.4h0M799.4 1730.5h0M800.2 1727.6h0M801.1 1728.4h0M802 1728.1h0M802.9 1729.2h0M803.8 1728.9h0M804.6 1729.1h0M805.5 1730.7h0M806.4 1729.8h0M807.3 1729.9h0M808.2 1729.2h0M809 1730.6h0M809.9 1729.6h0M810.8 1730.4h0M811.7 1731h0M812.5 1729.9h0M813.4 1729.3h0M814.3 1728.6h0M815.2 1730.9h0M816.1 1730.3h0M816.9 1730.5h0M817.8 1728.4h0M818.7 1729.2h0M819.6 1730.8h0M820.5 1728.6h0M821.3 1730.6h0M822.2 1729.6h0M823.1 1728.5h0M824 1729.1h0M824.8 1728h0M825.7 1730h0M826.6 1730.2h0M827.5 1727.7h0M828.4 1728.6h0M829.2 1730.1h0M830.1 1728.1h0M831 1729.2h0M831.9 1730h0M832.8 1729.1h0M833.6 1727.5h0M834.5 1730.2h0M835.4 1729.6h0M836.3 1728.9h0M837.1 1728h0M838 1728.7h0M838.9 1727.9h0M839.8 1726.9h0M840.7 1726.7h0M841.5 1726.3h0M842.4 1726.5h0M843.3 1726.6h0M844.2 1727.8h0M845.1 1727.4h0M845.9 1727.2h0M846.8 1727.7h0M847.7 1724.9h0M848.6 1725.7h0M849.5 1724.3h0M850.3 1725.1h0M851.2 1723.6h0M852.1 1723.1h0M853 1722.8h0M853.8 1723.3h0M854.7 1724h0M855.6 1721.7h0M856.5 1722.5h0M857.4 1719.9h0M858.2 1719.2h0M859.1 1718.7h0M860 1716h0M860.9 1715.7h0M861.8 1714h0M862.6 1712h0M863.5 1705.3h0M864.4 1702.2h0M865.3 1693.3h0M866.1 1681.9h0M867 1664.3h0M867.9 1645.9h0M868.8 1616.2h0M869.7 1582.6h0M870.5 1541h0M871.4 1494.7h0M872.3 1441.8h0M873.2 1390.4h0M874.1 1338h0M874.9 1298.4h0M875.8 1271.2h0M876.7 1262.9h0M877.6 1275.4h0M878.4 1305.3h0M879.3 1347.8h0M880.2 1399.6h0M881.1 1450.6h0M882 1503.2h0M882.8 1549.6h0M883.7 1589h0M884.6 1623.5h0M885.5 1650.1h0M886.4 1668.3h0M887.2 1683.7h0M888.1 1693.6h0M889 1703h0M889.9 1706.5h0M890.7 1710.7h0M891.6 1714.2h0M892.5 1716.2h0M893.4 1716.2h0M894.3 1720.7h0M895.1 1719.2h0M896 1721.5h0M896.9 1720.9h0M897.8 1722.9h0M898.7 1722.8h0M899.5 1723.2h0M900.4 1724.4h0M901.3 1725.3h0M902.2 1725.8h0M903 1726.6h0M903.9 1725.5h0M904.8 1725.2h0M905.7 1726.1h0M906.6 1726.7h0M907.4 1727.9h0M908.3 1727.4h0M909.2 1727.2h0M910.1 1726.6h0M911 1728.5h0M911.8 1726.9h0M912.7 1728.4h0M913.6 1729h0M914.5 1728.9h0M915.3 1727.3h0M916.2 1728h0M917.1 1730.1h0M918 1727.2h0M918.9 1729.3h0M919.7 1728.5h0M920.6 1729.2h0M921.5 1728.5h0M922.4 1727.5h0M923.3 1729.1h0M924.1 1727.2h0M925 1730.2h0M925.9 1729.9h0M926.8 1728.4h0M927.6 1729h0M928.5 1728.9h0M929.4 1730.5h0M930.3 1727.2h0M931.2 1728h0M932 1728.3h0M932.9 1729.4h0M933.8 1729h0M934.7 1727.5h0M935.6 1725.6h0M936.4 1727h0M937.3 1725.1h0M938.2 1722.7h0M939.1 1722.7h0M939.9 1719.8h0M940.8 1716.6h0M941.7 1713.3h0M942.6 1710.6h0M943.5 1705.9h0M944.3 1702.4h0M945.2 1700.5h0M946.1 1695.5h0M947 1692.1h0M947.9 1691.5h0M948.7 1692.6h0M949.6 1693.4h0M950.5 1694.9h0M951.4 1698.8h0M952.2 1702h0M953.1 1705.6h0M954 1708.7h0M954.9 1711.4h0M955.8 1716.8h0M956.6 1719.4h0M957.5 1723h0M958.4 1722.7h0M959.3 1726.2h0M960.2 1725.1h0M961 1728.6h0M961.9 1729.4h0M962.8 1726.6h0M963.7 1727.9h0M964.5 1730.6h0M965.4 1730.7h0M966.3 1729.8h0M967.2 1728.1h0M968.1 1727.8h0M968.9 1728.7h0M969.8 1731.3h0M970.7 1730.9h0M971.6 1729.7h0M972.5 1731h0M973.3 1731.6h0M974.2 1729.5h0M975.1 1731.6h0M976 1729.6h0M976.8 1729.8h0M977.7 1728.9h0M978.6 1729.3h0M979.5 1730.7h0M980.4 1728.9h0M981.2 1730.8h0M982.1 1729.5h0M983 1731.6h0M983.9 1729.5h0M984.8 1729.8h0M985.6 1730.1h0M986.5 1731.2h0M987.4 1732h0M988.3 1731.9h0M989.1 1731.9h0M990 1731.8h0M990.9 1731.4h0M991.8 1730.8h0M992.7 1730.3h0M993.5 1732.7h0M994.4 1731.2h0M995.3 1732.2h0M996.2 1730.2h0M997.1 1731.3h0M997.9 1730.4h0M998.8 1731.4h0M999.7 1732.8h0M1000.6 1731.4h0M1001.4 1732.6h0M1002.3 1730.7h0M1003.2 1731.5h0M1004.1 1731.6h0M1005 1731.9h0M1005.8 1730.8h0M1006.7 1732.4h0M1007.6 1733h0M1008.5 1732.7h0M1009.4 1729.8h0M1010.2 1731.4h0M1011.1 1730.8h0M1012 1731.5h0M1012.9 1729.8h0M1013.7 1732h0M1014.6 1730.9h0M1015.5 1732.7h0M1016.4 1729.5h0M1017.3 1730.9h0M1018.1 1731.2h0M1019 1732.4h0M1019.9 1732.1h0M1020.8 1730.2h0M1021.7 1730.6h0M1022.5 1732.1h0M1023.4 1731.1h0M1024.3 1730.5h0M1025.2 1732.9h0M1026 1732.6h0M1026.9 1731h0M1027.8 1731.7h0M1028.7 1733h0M1029.6 1730.6h0M1030.4 1733h0M1031.3 1733h0M1032.2 1732.4h0M1033.1 1732.3h0M1034 1732.3h0M1034.8 1731.8h0M1035.7 1731.9h0M1036.6 1730.5h0M1037.5 1731.8h0M1038.3 1732.1h0M1039.2 1731.4h0M1040.1 1732.1h0M1041 1731.3h0M1041.9 1732.5h0M1042.7 1732.2h0M1043.6 1730h0M1044.5 1732.4h0M1045.4 1730.8h0M1046.3 1730.1h0M1047.1 1730.4h0M1048 1731.2h0M1048.9 1732h0M1049.8 1731.4h0M1050.6 1731h0M1051.5 1733h0M1052.4 1731.7h0M1053.3 1733.5h0M1054.2 1731.3h0M1055 1732.8h0M1055.9 1731.6h0M1056.8 1733.3h0M1057.7 1732.5h0M1058.6 1732.5h0M1059.4 1730.4h0M1060.3 1732.6h0M1061.2 1731.2h0M1062.1 1732.5h0M1062.9 1732.8h0M1063.8 1730.2h0M1064.7 1729.8h0M1065.6 1732.4h0M1066.5 1733.1h0M1067.3 1732.9h0M1068.2 1731.3h0M1069.1 1732.7h0M1070 1729.9h0M1070.9 1730h0M1071.7 1731.8h0M1072.6 1731.7h0M1073.5 1732.7h0M1074.4 1730.7h0M1075.3 1731.5h0M1076.1 1733.3h0M1077 1730.9h0M1077.9 1731.3h0M1078.8 1732h0M1079.6 1733.4h0M1080.5 1730.6h0M1081.4 1732.4h0M1082.3 1731.5h0M1083.2 1731.5h0M1084 1731.1h0M1084.9 1731.9h0M1085.8 1732.3h0M1086.7 1731.8h0M1087.6 1732.2h0M1088.4 1732.7h0M1089.3 1733.5h0M1090.2 1732.5h0M1091.1 1731.9h0M1091.9 1733.9h0M1092.8 1731.1h0M1093.7 1730.7h0M1094.6 1733.7h0M1095.5 1731.4h0M1096.3 1731h0M1097.2 1731.8h0M1098.1 1731.6h0M1099 1731.7h0M1099.9 1733.4h0M1100.7 1731.4h0M1101.6 1730.8h0M1102.5 1731.1h0M1103.4 1733.7h0M1104.2 1731.8h0M1105.1 1731.6h0M1106 1733h0M1106.9 1733.5h0M1107.8 1732h0M1108.6 1733h0M1109.5 1731.1h0M1110.4 1731.4h0M1111.3 1732.2h0M1112.2 1731h0M1113 1731.1h0M1113.9 1730.8h0M1114.8 1731.1h0M1115.7 1733.1h0M1116.5 1733h0M1117.4 1730.6h0M1118.3 1731.5h0M1119.2 1732.8h0M1120.1 1733.3h0M1120.9 1732.2h0M1121.8 1732.8h0M1122.7 1731.1h0M1123.6 1733h0M1124.5 1733.1h0M1125.3 1731.7h0M1126.2 1731.1h0M1127.1 1730.4h0M1128 1732.4h0M1128.8 1732.4h0M1129.7 1730.2h0M1130.6 1732h0M1131.5 1733.4h0M1132.4 1730.2h0M1133.2 1730.6h0M1134.1 1730.3h0M1135 1731.5h0M1135.9 1731.3h0M1136.8 1732.9h0M1137.6 1730.1h0M1138.5 1730.5h0M1139.4 1733h0M1140.3 1729.7h0M1141.1 1730.5h0M1142 1731h0M1142.9 1729.6h0M1143.8 1730.6h0M1144.7 1731.7h0M1145.5 1731.8h0M1146.4 1731.8h0M1147.3 1732h0M1148.2 1731.9h0M1149.1 1730h0M1149.9 1732.2h0M1150.8 1732h0M1151.7 1730.8h0M1152.6 1731.5h0M1153.4 1730.9h0M1154.3 1733.1h0M1155.2 1731h0M1156.1 1730.6h0M1157 1732.8h0M1157.8 1732.6h0M1158.7 1732.9h0M1159.6 1732.3h0M1160.5 1731.4h0M1161.4 1731.6h0M1162.2 1731.9h0M1163.1 1732.1h0M1164 1733.4h0M1164.9 1731h0M1165.7 1732.9h0M1166.6 1730.3h0M1167.5 1731h0M1168.4 1733.7h0M1169.3 1731.4h0M1170.1 1732.3h0M1171 1733.8h0M1171.9 1732.9h0M1172.8 1732.3h0M1173.7 1733.1h0M1174.5 1734.1h0M1175.4 1733.9h0M1176.3 1731.2h0M1177.2 1731.1h0M1178 1731.5h0M1178.9 1731h0M1179.8 1733.1h0M1180.7 1733.3h0M1181.6 1730.8h0M1182.4 1730.4h0M1183.3 1731.2h0M1184.2 1732.4h0M1185.1 1732.6h0M1186 1731.4h0M1186.8 1731.9h0M1187.7 1732.7h0M1188.6 1732.4h0M1189.5 1729.6h0M1190.3 1731.5h0M1191.2 1731.6h0M1192.1 1731.9h0M1193 1730h0M1193.9 1728.8h0M1194.7 1729.7h0M1195.6 1729.1h0M1196.5 1728.9h0M1197.4 1729.9h0M1198.3 1728.9h0M1199.1 1728.4h0M1200 1727.4h0M1200.9 1724.5h0M1201.8 1722.5h0M1202.6 1721.3h0M1203.5 1719.6h0M1204.4 1714.3h0M1205.3 1708.5h0M1206.2 1699.9h0M1207 1690.4h0M1207.9 1679.3h0M1208.8 1664.9h0M1209.7 1651.3h0M1210.6 1638h0M1211.4 1625.2h0M1212.3 1617h0M1213.2 1611h0M1214.1 1613h0M1214.9 1623.6h0M1215.8 1632.5h0M1216.7 1646.3h0M1217.6 1659.9h0M1218.5 1675.4h0M1219.3 1685.6h0M1220.2 1698.9h0M1221.1 1705.7h0M1222 1714h0M1222.9 1719.6h0M1223.7 1722.4h0M1224.6 1724h0M1225.5 1726.5h0M1226.4 1728.5h0M1227.2 1728.9h0M1228.1 1727.9h0M1229 1727.5h0M1229.9 1730.9h0M1230.8 1730.3h0M1231.6 1728.5h0M1232.5 1730.4h0M1233.4 1730.7h0M1234.3 1729.8h0M1235.2 1732h0M1236 1729.9h0M1236.9 1729.7h0M1237.8 1730.3h0M1238.7 1730.5h0M1239.5 1732.5h0M1240.4 1731.8h0M1241.3 1730h0M1242.2 1731h0M1243.1 1730h0M1243.9 1732.2h0M1244.8 1732.7h0M1245.7 1730.1h0M1246.6 1731.6h0M1247.5 1730.7h0M1248.3 1730.9h0M1249.2 1732.5h0M1250.1 1733.3h0M1251 1730.9h0M1251.8 1731.8h0M1252.7 1731h0M1253.6 1730.1h0M1254.5 1732h0M1255.4 1730.3h0M1256.2 1732.2h0M1257.1 1732.3h0M1258 1730.2h0M1258.9 1731.7h0M1259.8 1730.3h0M1260.6 1732.3h0M1261.5 1730.6h0M1262.4 1732h0M1263.3 1731.9h0M1264.1 1731.7h0M1265 1730.6h0M1265.9 1732.8h0M1266.8 1731.2h0M1267.7 1732.7h0M1268.5 1731.8h0M1269.4 1731.8h0M1270.3 1732.8h0M1271.2 1731.5h0M1272.1 1733h0M1272.9 1731.9h0M1273.8 1732.9h0M1274.7 1732.8h0M1275.6 1733.6h0M1276.4 1731.7h0M1277.3 1731.5h0M1278.2 1733.7h0M1279.1 1732h0M1280 1731.6h0M1280.8 1732.6h0M1281.7 1731h0M1282.6 1733.5h0M1283.5 1732.8h0M1284.4 1732.5h0M1285.2 1731.3h0M1286.1 1733.1h0M1287 1733.6h0M1287.9 1733.2h0M1288.8 1733.7h0M1289.6 1730.9h0M1290.5 1733.2h0M1291.4 1733.6h0M1292.3 1732.3h0M1293.1 1730.9h0M1294 1732.6h0M1294.9 1731.5h0M1295.8 1730.8h0M1296.7 1734h0M1297.5 1733.6h0M1298.4 1732.9h0M1299.3 1733.3h0M1300.2 1733h0M1301.1 1732.3h0M1301.9 1731.1h0M1302.8 1731.7h0M1303.7 1732.4h0M1304.6 1732.7h0M1305.4 1731.7h0M1306.3 1731.1h0M1307.2 1731.8h0M1308.1 1731.3h0M1309 1733.8h0M1309.8 1731.3h0M1310.7 1731.9h0M1311.6 1732.3h0M1312.5 1731.2h0M1313.4 1732h0M1314.2 1732.2h0M1315.1 1730.4h0M1316 1733.4h0M1316.9 1732h0M1317.7 1730.6h0M1318.6 1733.5h0M1319.5 1730.6h0M1320.4 1732.5h0M1321.3 1731.7h0M1322.1 1730.9h0M1323 1731.4h0M1323.9 1731.7h0M1324.8 1731.4h0M1325.7 1731h0M1326.5 1731.6h0M1327.4 1731.7h0M1328.3 1732.7h0M1329.2 1731h0M1330 1730.5h0M1330.9 1733.3h0M1331.8 1730.7h0M1332.7 1732.8h0M1333.6 1732.5h0M1334.4 1734.1h0M1335.3 1731.4h0M1336.2 1733.9h0M1337.1 1731.3h0M1338 1731.5h0M1338.8 1733.2h0M1339.7 1731.6h0M1340.6 1733.1h0M1341.5 1733.4h0M1342.3 1731.5h0M1343.2 1733.8h0M1344.1 1732.6h0M1345 1734.5h0M1345.9 1731.1h0M1346.7 1731.3h0M1347.6 1733.2h0M1348.5 1731.9h0M1349.4 1732.3h0M1350.3 1734h0M1351.1 1731.9h0M1352 1730.8h0M1352.9 1731h0M1353.8 1732.3h0M1354.6 1733h0M1355.5 1732.8h0M1356.4 1731.7h0M1357.3 1730.8h0M1358.2 1730.3h0M1359 1730.6h0M1359.9 1730.4h0M1360.8 1732.9h0M1361.7 1731.1h0M1362.6 1730.1h0M1363.4 1731.9h0M1364.3 1731.3h0M1365.2 1729.8h0M1366.1 1733.1h0M1366.9 1733h0M1367.8 1730.6h0M1368.7 1732.6h0M1369.6 1731.3h0M1370.5 1732.1h0M1371.3 1732h0M1372.2 1732.2h0M1373.1 1731.2h0M1374 1730.1h0M1374.9 1732.4h0M1375.7 1731.1h0M1376.6 1731.1h0M1377.5 1732.2h0M1378.4 1731.9h0M1379.2 1733h0M1380.1 1730.9h0M1381 1731.8h0M1381.9 1729.8h0M1382.8 1729.9h0M1383.6 1730.4h0M1384.5 1730.4h0M1385.4 1730.9h0M1386.3 1730h0M1387.2 1732.3h0M1388 1730.3h0M1388.9 1729.9h0M1389.8 1731.5h0M1390.7 1730.9h0M1391.5 1730.6h0M1392.4 1730.9h0M1393.3 1730.1h0M1394.2 1728.5h0M1395.1 1730.8h0M1395.9 1727.6h0M1396.8 1730.7h0M1397.7 1729.2h0M1398.6 1729.1h0M1399.5 1729.8h0M1400.3 1729.7h0M1401.2 1731.5h0M1402.1 1731.5h0M1403 1731.5h0M1403.8 1729.8h0M1404.7 1730.7h0M1405.6 1729.5h0M1406.5 1731.9h0M1407.4 1729.5h0M1408.2 1730.8h0M1409.1 1730h0M1410 1732.4h0M1410.9 1732.7h0M1411.8 1730.5h0M1412.6 1732.6h0M1413.5 1730.1h0M1414.4 1732h0M1415.3 1730.4h0M1416.1 1731.1h0M1417 1731.8h0M1417.9 1730.9h0M1418.8 1730.5h0M1419.7 1731.9h0M1420.5 1732.7h0M1421.4 1733.5h0M1422.3 1731.2h0M1423.2 1731.1h0M1424.1 1730.5h0M1424.9 1731h0M1425.8 1730.4h0M1426.7 1731.3h0M1427.6 1733h0M1428.4 1730.9h0M1429.3 1732.8h0M1430.2 1731.6h0M1431.1 1731.5h0M1432 1732.4h0M1432.8 1732.3h0M1433.7 1732.4h0M1434.6 1731.3h0M1435.5 1732.9h0M1436.4 1734.1h0M1437.2 1731.1h0M1438.1 1731.3h0M1439 1733.1h0M1439.9 1732.2h0M1440.7 1732h0M1441.6 1734.6h0M1442.5 1732.2h0M1443.4 1734.3h0M1444.3 1733.3h0M1445.1 1731.2h0M1446 1732h0M1446.9 1731.3h0M1447.8 1732.9h0M1448.7 1734.2h0M1449.5 1731.1h0M1450.4 1731h0M1451.3 1730.9h0M1452.2 1731.7h0M1453 1731.2h0M1453.9 1733.9h0M1454.8 1733.2h0M1455.7 1733.7h0M1456.6 1732.4h0M1457.4 1733.2h0M1458.3 1732.8h0M1459.2 1731.3h0M1460.1 1732.6h0M1461 1731.3h0M1461.8 1732h0M1462.7 1733.3h0M1463.6 1731.2h0M1464.5 1731.1h0M1465.3 1733.5h0M1466.2 1732.2h0M1467.1 1731.2h0M1468 1731.7h0M1468.9 1731.5h0M1469.7 1733.7h0M1470.6 1732.2h0M1471.5 1733.7h0M1472.4 1732h0M1473.3 1733.6h0M1474.1 1733.5h0M1475 1732.2h0M1475.9 1732.9h0M1476.8 1731.1h0M1477.6 1730.5h0M1478.5 1732.2h0M1479.4 1730.3h0M1480.3 1731.8h0M1481.2 1732.3h0M1482 1732.9h0M1482.9 1733.4h0M1483.8 1731h0M1484.7 1733.3h0M1485.6 1732.1h0M1486.4 1732.5h0M1487.3 1732h0M1488.2 1733.4h0M1489.1 1731.5h0M1489.9 1730.4h0M1490.8 1733.3h0M1491.7 1732.7h0M1492.6 1732.9h0M1493.5 1730.9h0M1494.3 1731.2h0M1495.2 1732.6h0M1496.1 1733.1h0M1497 1732.8h0M1497.9 1732.5h0M1498.7 1732.7h0M1499.6 1731h0M1500.5 1732h0M1501.4 1731.5h0M1502.2 1732.9h0M1503.1 1732.1h0M1504 1732.8h0M1504.9 1732.6h0M1505.8 1733.3h0M1506.6 1733.1h0M1507.5 1730.2h0M1508.4 1732.4h0M1509.3 1731.3h0M1510.2 1730.3h0M1511 1731.6h0M1511.9 1732.9h0M1512.8 1732.8h0M1513.7 1730.4h0M1514.6 1730.8h0M1515.4 1732.5h0M1516.3 1733.5h0M1517.2 1730.5h0M1518.1 1730.5h0M1518.9 1732.7h0M1519.8 1732.4h0M1520.7 1733.1h0M1521.6 1730.9h0M1522.5 1731.9h0M1523.3 1732.9h0M1524.2 1731.4h0M1525.1 1731.5h0M1526 1730.1h0M1526.9 1732.8h0M1527.7 1731.5h0M1528.6 1731.3h0M1529.5 1732.3h0M1530.4 1733h0M1531.2 1733h0M1532.1 1731.2h0M1533 1732.2h0M1533.9 1731.4h0M1534.8 1733h0M1535.6 1732.9h0M1536.5 1732.4h0M1537.4 1733h0M1538.3 1731.9h0M1539.2 1732.2h0M1540 1730.8h0M1540.9 1732.7h0M1541.8 1731.2h0M1542.7 1732.2h0M1543.5 1730.3h0M1544.4 1731.7h0M1545.3 1732.5h0M1546.2 1732.6h0M1547.1 1732.3h0M1547.9 1731.2h0M1548.8 1732.7h0M1549.7 1732.7h0M1550.6 1732.4h0M1551.5 1731.7h0M1552.3 1730.9h0M1553.2 1732.3h0M1554.1 1730.5h0M1555 1733.6h0M1555.8 1731.6h0M1556.7 1731.4h0M1557.6 1731.9h0M1558.5 1730.7h0M1559.4 1733.5h0M1560.2 1733.8h0M1561.1 1733.2h0M1562 1732.3h0M1562.9 1733.6h0M1563.8 1731.4h0M1564.6 1731.8h0M1565.5 1730.8h0M1566.4 1731.6h0M1567.3 1733.3h0M1568.1 1732.3h0M1569 1731.8h0M1569.9 1731.8h0M1570.8 1732.1h0M1571.7 1732h0M1572.5 1731.4h0M1573.4 1731.7h0M1574.3 1730.3h0M1575.2 1731.5h0M1576.1 1732.4h0M1576.9 1730.8h0M1577.8 1731.1h0M1578.7 1733h0M1579.6 1730.7h0M1580.4 1730.9h0M1581.3 1733.2h0M1582.2 1730.7h0M1583.1 1731.4h0M1584 1733.5h0M1584.8 1731.8h0M1585.7 1733.2h0M1586.6 1733h0M1587.5 1730.4h0M1588.4 1731.1h0M1589.2 1733.5h0M1590.1 1731.5h0M1591 1731.7h0M1591.9 1733.6h0M1592.7 1730.7h0M1593.6 1733.7h0M1594.5 1732.5h0M1595.4 1732.4h0M1596.3 1730.2h0M1597.1 1732.4h0M1598 1733.1h0M1598.9 1731.5h0M1599.8 1730.4h0M1600.7 1730.6h0M1601.5 1730.4h0M1602.4 1731.6h0M1603.3 1733h0M1604.2 1730.3h0M1605 1731.5h0M1605.9 1731.5h0M1606.8 1731.5h0M1607.7 1731.9h0M1608.6 1731.9h0M1609.4 1730.8h0M1610.3 1732.9h0M1611.2 1731.9h0M1612.1 1731.4h0M1613 1733.6h0M1613.8 1732.7h0M1614.7 1730.9h0M1615.6 1733.8h0M1616.5 1732.4h0M1617.3 1731.7h0M1618.2 1731.3h0M1619.1 1730.8h0M1620 1731.4h0M1620.9 1731.6h0M1621.7 1731.7h0M1622.6 1733.9h0M1623.5 1732.5h0M1624.4 1731.1h0M1625.3 1731.6h0M1626.1 1731.8h0M1627 1730.5h0M1627.9 1731.8h0M1628.8 1731.8h0M1629.6 1733.2h0M1630.5 1731.5h0M1631.4 1732.3h0M1632.3 1732.2h0M1633.2 1730.4h0M1634 1731.7h0M1634.9 1731.3h0M1635.8 1730.3h0M1636.7 1729.7h0M1637.6 1733.1h0M1638.4 1730h0M1639.3 1732.7h0M1640.2 1730.9h0M1641.1 1730h0M1641.9 1733.1h0M1642.8 1732.1h0M1643.7 1731.2h0M1644.6 1732.8h0M1645.5 1732.4h0M1646.3 1731.3h0M1647.2 1732.4h0M1648.1 1732.4h0M1649 1730.4h0M1649.9 1732.2h0M1650.7 1732.8h0M1651.6 1731.8h0M1652.5 1732h0M1653.4 1732.4h0M1654.2 1731.5h0M1655.1 1730h0M1656 1729.9h0M1656.9 1730h0M1657.8 1728.8h0M1658.6 1725.8h0M1659.5 1724.5h0M1660.4 1723.6h0M1661.3 1723.3h0M1662.2 1718.5h0M1663 1715.4h0M1663.9 1713.2h0M1664.8 1706.3h0M1665.7 1701.8h0M1666.5 1696.4h0M1667.4 1690.4h0M1668.3 1687.8h0M1669.2 1682.2h0M1670.1 1679.4h0M1670.9 1677.8h0M1671.8 1677.2h0M1672.7 1682h0M1673.6 1683.1h0M1674.5 1688.2h0M1675.3 1694.9h0M1676.2 1699h0M1677.1 1704.8h0M1678 1709h0M1678.8 1714.2h0M1679.7 1717.1h0M1680.6 1720.7h0M1681.5 1721.7h0M1682.4 1723.7h0M1683.2 1727h0M1684.1 1729.2h0M1685 1730.7h0M1685.9 1730.7h0M1686.8 1730.2h0M1687.6 1731h0M1688.5 1731.4h0M1689.4 1731.8h0M1690.3 1732.9h0M1691.1 1730.7h0M1692 1731.2h0M1692.9 1732.5h0M1693.8 1730.6h0M1694.7 1730.2h0M1695.5 1733.1h0M1696.4 1730h0M1697.3 1733.1h0M1698.2 1733.2h0M1699.1 1730.5h0M1699.9 1732.6h0M1700.8 1730.9h0M1701.7 1730.8h0M1702.6 1733.3h0M1703.4 1732.9h0M1704.3 1732.4h0M1705.2 1731.2h0M1706.1 1733.1h0M1707 1731.6h0M1707.8 1733h0M1708.7 1732.1h0M1709.6 1729.7h0M1710.5 1732.4h0M1711.4 1732.5h0M1712.2 1732.7h0M1713.1 1731.8h0M1714 1729.8h0M1714.9 1732.7h0M1715.7 1731.1h0M1716.6 1730.4h0M1717.5 1730.5h0M1718.4 1730.5h0M1719.3 1732.6h0M1720.1 1730.1h0M1721 1733.1h0M1721.9 1729.9h0M1722.8 1732.4h0M1723.7 1730.7h0M1724.5 1731.7h0M1725.4 1730.5h0M1726.3 1733.1h0M1727.2 1730.5h0M1728 1731.6h0M1728.9 1732.1h0M1729.8 1731.6h0M1730.7 1730.8h0M1731.6 1731.1h0M1732.4 1733.4h0M1733.3 1730.6h0M1734.2 1730.2h0M1735.1 1733.4h0M1736 1733.3h0M1736.8 1732.6h0M1737.7 1731.9h0M1738.6 1733.6h0M1739.5 1731.8h0M1740.4 1730.4h0M1741.2 1731.9h0M1742.1 1732.3h0M1743 1732.3h0M1743.9 1733.5h0M1744.7 1730.6h0M1745.6 1733.4h0M1746.5 1732.1h0M1747.4 1732.8h0M1748.3 1731.6h0M1749.1 1731.1h0M1750 1731.1h0M1750.9 1730.8h0M1751.8 1731.3h0M1752.7 1731.7h0M1753.5 1732.4h0M1754.4 1730.1h0M1755.3 1731h0M1756.2 1731.2h0M1757 1732.2h0M1757.9 1731.8h0M1758.8 1731.6h0M1759.7 1731.8h0M1760.6 1731h0M1761.4 1732.4h0M1762.3 1732.5h0M1763.2 1731.7h0M1764.1 1730.2h0M1765 1731.4h0M1765.8 1730.9h0M1766.7 1730.7h0M1767.6 1731.1h0M1768.5 1733h0M1769.3 1731.4h0M1770.2 1731.7h0M1771.1 1731.6h0M1772 1730.9h0M1772.9 1732.2h0M1773.7 1731.6h0M1774.6 1733.4h0M1775.5 1732.2h0M1776.4 1733.3h0M1777.3 1732.8h0M1778.1 1731.5h0M1779 1729.7h0M1779.9 1730.4h0M1780.8 1730h0M1781.6 1732.1h0M1782.5 1730h0M1783.4 1731.7h0M1784.3 1730.5h0M1785.2 1731.1h0M1786 1732h0M1786.9 1730.4h0M1787.8 1729.9h0M1788.7 1730.2h0M1789.6 1732.4h0M1790.4 1731h0M1791.3 1729.9h0M1792.2 1729.3h0M1793.1 1728.9h0M1793.9 1729.7h0M1794.8 1730.6h0M1795.7 1729.9h0M1796.6 1730.9h0M1797.5 1731.4h0M1798.3 1729.7h0M1799.2 1728.8h0M1800.1 1730.2h0M1801 1727.5h0M1801.9 1729.7h0M1802.7 1729.9h0M1803.6 1729.3h0M1804.5 1726.7h0M1805.4 1728.2h0M1806.2 1728.7h0M1807.1 1727h0M1808 1728.2h0M1808.9 1725.4h0M1809.8 1726.1h0M1810.6 1725.4h0M1811.5 1725.2h0M1812.4 1722.5h0M1813.3 1720h0M1814.2 1719h0M1815 1713.5h0M1815.9 1709.7h0M1816.8 1704.1h0M1817.7 1697.6h0M1818.5 1686.9h0M1819.4 1676.2h0M1820.3 1663.6h0M1821.2 1649.2h0M1822.1 1634.7h0M1822.9 1617.2h0M1823.8 1602.4h0M1824.7 1587.2h0M1825.6 1577.6h0M1826.5 1572h0M1827.3 1571.2h0M1828.2 1576.8h0M1829.1 1584.8h0M1830 1598.8h0M1830.8 1614.4h0M1831.7 1627.5h0M1832.6 1643.8h0M1833.5 1659.5h0M1834.4 1671.3h0M1835.2 1683.4h0M1836.1 1694.8h0M1837 1702.3h0M1837.9 1710.5h0M1838.8 1714.4h0M1839.6 1718.8h0M1840.5 1720.2h0M1841.4 1722.4h0M1842.3 1725.6h0M1843.1 1725.8h0M1844 1727.7h0M1844.9 1726h0M1845.8 1726h0M1846.7 1728.3h0M1847.5 1726.6h0M1848.4 1726.7h0M1849.3 1728h0M1850.2 1729.2h0M1851.1 1728.2h0M1851.9 1729.7h0M1852.8 1728.7h0M1853.7 1728.2h0M1854.6 1729.2h0M1855.4 1729.5h0M1856.3 1728h0M1857.2 1729.6h0M1858.1 1728.2h0M1859 1731h0M1859.8 1729.5h0M1860.7 1728.5h0M1861.6 1727.9h0M1862.5 1728.6h0M1863.4 1729h0M1864.2 1729.9h0M1865.1 1730.3h0M1866 1730.5h0M1866.9 1729.7h0M1867.7 1730.4h0M1868.6 1730.2h0M1869.5 1729.4h0M1870.4 1729.1h0M1871.3 1729.8h0M1872.1 1730.9h0M1873 1729h0M1873.9 1730.9h0M1874.8 1728.8h0M1875.7 1729.4h0M1876.5 1731.2h0M1877.4 1731.8h0M1878.3 1731.8h0M1879.2 1731.6h0M1880 1730.2h0M1880.9 1732.8h0M1881.8 1731.5h0M1882.7 1732.6h0M1883.6 1732.7h0M1884.4 1730.3h0M1885.3 1732.8h0M1886.2 1729.7h0M1887.1 1731.6h0M1888 1730.1h0M1888.8 1729.5h0M1889.7 1731h0M1890.6 1729.6h0M1891.5 1731.5h0M1892.3 1730.3h0M1893.2 1729.6h0M1894.1 1728.6h0M1895 1730.9h0M1895.9 1730.7h0M1896.7 1731.3h0M1897.6 1729.9h0M1898.5 1731.8h0M1899.4 1728.7h0M1900.3 1731.9h0M1901.1 1731.4h0M1902 1729.2h0M1902.9 1732.4h0M1903.8 1729.3h0M1904.6 1731.7h0M1905.5 1730.1h0M1906.4 1731.7h0M1907.3 1732.3h0M1908.2 1729.9h0M1909 1730.7h0M1909.9 1732.7h0M1910.8 1731.4h0M1911.7 1730.3h0M1912.6 1730.1h0M1913.4 1730.3h0M1914.3 1730.3h0M1915.2 1731.2h0M1916.1 1732.7h0M1916.9 1731.5h0M1917.8 1730.2h0M1918.7 1731h0M1919.6 1731.4h0M1920.5 1731.2h0M1921.3 1731.7h0M1922.2 1731.7h0M1923.1 1731.8h0M1924 1730.9h0M1924.9 1729.1h0M1925.7 1731.6h0M1926.6 1731.5h0M1927.5 1731.3h0M1928.4 1730.2h0M1929.2 1731.8h0M1930.1 1729.1h0M1931 1731.4h0M1931.9 1730.9h0M1932.8 1731.3h0M1933.6 1729.2h0M1934.5 1732.4h0M1935.4 1729.2h0M1936.3 1729.7h0M1937.2 1731h0M1938 1731.2h0M1938.9 1729.8h0M1939.8 1730.1h0M1940.7 1732.3h0M1941.5 1730.2h0M1942.4 1730.5h0M1943.3 1729.3h0M1944.2 1730.8h0M1945.1 1731.2h0M1945.9 1731.3h0M1946.8 1729.4h0M1947.7 1729.8h0M1948.6 1730.8h0M1949.5 1731.9h0M1950.3 1731.2h0M1951.2 1729.3h0M1952.1 1728.8h0M1953 1729.7h0M1953.9 1730.5h0M1954.7 1729.7h0M1955.6 1731.5h0M1956.5 1729.8h0M1957.4 1729.4h0M1958.2 1731.1h0M1959.1 1731.8h0M1960 1729.9h0M1960.9 1730.4h0M1961.8 1730.2h0M1962.6 1729.5h0M1963.5 1731.8h0M1964.4 1729.7h0M1965.3 1731.7h0M1966.2 1731.7h0M1967 1731.4h0M1967.9 1729.7h0M1968.8 1729.7h0M1969.7 1731.3h0M1970.5 1731.2h0M1971.4 1729.4h0M1972.3 1729.3h0M1973.2 1731.9h0M1974.1 1730.3h0M1974.9 1731.5h0M1975.8 1729.6h0M1976.7 1729.8h0M1977.6 1731.9h0M1978.5 1729.4h0M1979.3 1730.1h0M1980.2 1730.4h0M1981.1 1731.2h0M1982 1729.8h0M1982.8 1731h0M1983.7 1729.5h0M1984.6 1731.2h0M1985.5 1728.9h0M1986.4 1729.6h0M1987.2 1729.2h0M1988.1 1729.4h0M1989 1731.7h0M1989.9 1730.8h0M1990.8 1732h0M1991.6 1732.7h0M1992.5 1730h0M1993.4 1732.1h0M1994.3 1732.9h0M1995.1 1730.6h0M1996 1729.8h0M1996.9 1731.2h0M1997.8 1731.5h0M1998.7 1731.9h0M1999.5 1731.5h0M2000.4 1730.5h0M2001.3 1729.9h0M2002.2 1730.5h0M2003.1 1730.8h0M2003.9 1729.8h0M2004.8 1730.1h0M2005.7 1732.1h0M2006.6 1730.4h0M2007.4 1729.3h0M2008.3 1731.2h0M2009.2 1730.1h0M2010.1 1730.6h0M2011 1730.2h0M2011.8 1729.2h0M2012.7 1731.3h0M2013.6 1730.8h0M2014.5 1732.2h0M2015.4 1728.8h0M2016.2 1730.8h0M2017.1 1730.3h0M2018 1730.3h0M2018.9 1731.3h0M2019.7 1729.6h0M2020.6 1730.2h0M2021.5 1729.2h0M2022.4 1730.7h0M2023.3 1730.3h0M2024.1 1728.9h0M2025 1729.5h0M2025.9 1730.1h0M2026.8 1730.5h0M2027.7 1728.9h0M2028.5 1730.7h0M2029.4 1731.3h0M2030.3 1729.6h0M2031.2 1728.6h0M2032 1728.8h0M2032.9 1730.9h0M2033.8 1730h0M2034.7 1728.5h0M2035.6 1728.5h0M2036.4 1730.8h0M2037.3 1730.2h0M2038.2 1730.1h0M2039.1 1728.1h0M2040 1731h0M2040.8 1728.4h0M2041.7 1728.7h0M2042.6 1728.2h0M2043.5 1730.6h0M2044.3 1729.4h0M2045.2 1729h0M2046.1 1728.4h0M2047 1729.3h0M2047.9 1728.3h0M2048.7 1728.1h0M2049.6 1726.8h0M2050.5 1728.9h0M2051.4 1726h0M2052.3 1728.6h0M2053.1 1728.2h0M2054 1726.3h0M2054.9 1724.4h0M2055.8 1723.8h0M2056.6 1722.5h0M2057.5 1723.1h0M2058.4 1720.2h0M2059.3 1720.1h0M2060.2 1714.8h0M2061 1710.8h0M2061.9 1706.9h0M2062.8 1701h0M2063.7 1691.5h0M2064.6 1680h0M2065.4 1668.1h0M2066.3 1656h0M2067.2 1640.3h0M2068.1 1623.6h0M2068.9 1603.8h0M2069.8 1585.9h0M2070.7 1567.6h0M2071.6 1551.2h0M2072.5 1539.4h0M2073.3 1529h0M2074.2 1526.1h0M2075.1 1529.6h0M2076 1538.3h0M2076.9 1553.2h0M2077.7 1568.8h0M2078.6 1586.4h0M2079.5 1605.5h0M2080.4 1622h0M2081.2 1641.4h0M2082.1 1656.9h0M2083 1668.3h0M2083.9 1680.9h0M2084.8 1690.6h0M2085.6 1698.3h0M2086.5 1707.3h0M2087.4 1710.5h0M2088.3 1716h0M2089.2 1718h0M2090 1718.4h0M2090.9 1721.4h0M2091.8 1723.9h0M2092.7 1723.3h0M2093.5 1724h0M2094.4 1724h0M2095.3 1725.8h0M2096.2 1727.9h0M2097.1 1725.1h0M2097.9 1728.5h0M2098.8 1727.8h0M2099.7 1727h0M2100.6 1729.4h0M2101.5 1729.8h0M2102.3 1730.2h0M2103.2 1728.6h0M2104.1 1728.7h0M2105 1729.7h0M2105.8 1730.7h0M2106.7 1728.9h0M2107.6 1729h0M2108.5 1729.4h0M2109.4 1728.1h0M2110.2 1731.1h0M2111.1 1729.8h0M2112 1730h0M2112.9 1730.6h0M2113.8 1731.3h0M2114.6 1731h0M2115.5 1729.8h0M2116.4 1729.7h0M2117.3 1729.8h0M2118.1 1730.6h0M2119 1731.5h0M2119.9 1728.7h0M2120.8 1730.8h0M2121.7 1731.6h0M2122.5 1730.6h0M2123.4 1730h0M2124.3 1730.3h0M2125.2 1730.4h0M2126.1 1730.8h0M2126.9 1728.9h0M2127.8 1731.5h0M2128.7 1730.7h0M2129.6 1729.8h0M2130.4 1732.1h0M2131.3 1730.4h0M2132.2 1731.8h0M2133.1 1730.2h0M2134 1731.1h0M2134.8 1729.9h0M2135.7 1730.3h0M2136.6 1730.5h0M2137.5 1729.9h0M2138.4 1732.1h0M2139.2 1731h0M2140.1 1730.7h0M2141 1731.5h0M2141.9 1730.2h0M2142.7 1731h0M2143.6 1731.4h0M2144.5 1731.5h0M2145.4 1730.8h0M2146.3 1731.9h0M2147.1 1732.3h0M2148 1732.6h0M2148.9 1731.2h0M2149.8 1732.6h0M2150.7 1732.5h0M2151.5 1731.5h0M2152.4 1729.7h0M2153.3 1731.5h0M2154.2 1731.1h0M2155 1731.8h0M2155.9 1730.3h0M2156.8 1732.9h0M2157.7 1730.7h0M2158.6 1733.1h0M2159.4 1730.6h0M2160.3 1731.4h0M2161.2 1732.2h0M2162.1 1730.8h0M2163 1731.4h0M2163.8 1732.3h0M2164.7 1732.7h0M2165.6 1733.3h0M2166.5 1732.1h0M2167.3 1733.5h0M2168.2 1731.1h0M2169.1 1732.3h0M2170 1732.8h0M2170.9 1730.4h0M2171.7 1732.8h0M2172.6 1732.9h0M2173.5 1731.9h0M2174.4 1733.1h0M2175.3 1732.3h0M2176.1 1731.1h0M2177 1732.5h0M2177.9 1731.5h0M2178.8 1732h0M2179.7 1733.1h0M2180.5 1732h0M2181.4 1732.3h0M2182.3 1732.4h0M2183.2 1730.3h0M2184 1729.7h0M2184.9 1729.8h0M2185.8 1731.2h0M2186.7 1733h0M2187.6 1731.2h0M2188.4 1732.8h0M2189.3 1730.6h0M2190.2 1730.1h0M2191.1 1730.9h0M2192 1732.4h0M2192.8 1732.8h0M2193.7 1731.2h0M2194.6 1730.5h0M2195.5 1731.8h0M2196.3 1730.4h0M2197.2 1729.9h0M2198.1 1731.3h0M2199 1728.8h0M2199.9 1731h0M2200.7 1731.4h0M2201.6 1728.1h0M2202.5 1730.1h0M2203.4 1727.1h0M2204.3 1727h0M2205.1 1727.1h0M2206 1729h0M2206.9 1725.1h0M2207.8 1725.9h0M2208.6 1725.2h0M2209.5 1723.6h0M2210.4 1725.7h0M2211.3 1722.5h0M2212.2 1724.2h0M2213 1722.5h0M2213.9 1722.8h0M2214.8 1722.7h0M2215.7 1722.5h0M2216.6 1723.1h0M2217.4 1723.7h0M2218.3 1721.6h0M2219.2 1722h0M2220.1 1723.9h0M2220.9 1723.4h0M2221.8 1725.8h0M2222.7 1727.7h0M2223.6 1726.8h0M2224.5 1726.2h0M2225.3 1726.6h0M2226.2 1728.5h0M2227.1 1729.7h0M2228 1730.3h0M2228.9 1730.5h0M2229.7 1729.8h0M2230.6 1731.5h0M2231.5 1730.5h0M2232.4 1731.2h0M2233.2 1729h0M2234.1 1730.8h0M2235 1729.5h0M2235.9 1730h0M2236.8 1730.4h0M2237.6 1731.4h0M2238.5 1729.7h0M2239.4 1731.9h0M2240.3 1730.8h0M2241.2 1730.2h0M2242 1732.7h0M2242.9 1731.7h0M2243.8 1730.5h0M2244.7 1729.8h0M2245.5 1731.1h0M2246.4 1732.1h0M2247.3 1731.2h0M2248.2 1730.5h0M2249.1 1729.8h0M2249.9 1730.2h0M2250.8 1732.3h0M2251.7 1730.1h0M2252.6 1733h0M2253.5 1732.2h0M2254.3 1731.1h0M2255.2 1730.3h0M2256.1 1731.3h0M2257 1733.1h0M2257.8 1730.2h0M2258.7 1730.6h0M2259.6 1730.1h0M2260.5 1732.4h0M2261.4 1733.2h0M2262.2 1731.8h0M2263.1 1730.9h0M2264 1733.2h0M2264.9 1731.9h0M2265.8 1733.2h0M2266.6 1731.1h0M2267.5 1730.3h0M2268.4 1730h0M2269.3 1730.7h0M2270.1 1731.2h0M2271 1732.4h0M2271.9 1731.3h0M2272.8 1730.6h0M2273.7 1732.8h0M2274.5 1731.6h0M2275.4 1731.7h0M2276.3 1732.4h0M2277.2 1731.9h0M2278.1 1730.3h0M2278.9 1732.8h0M2279.8 1730h0M2280.7 1730h0M2281.6 1731.7h0M2282.4 1731.4h0M2283.3 1730.2h0M2284.2 1731.8h0M2285.1 1729.7h0M2286 1731h0M2286.8 1732.7h0M2287.7 1732.6h0M2288.6 1731.6h0M2289.5 1732.3h0M2290.4 1731.9h0M2291.2 1730.4h0M2292.1 1732.7h0M2293 1731.8h0M2293.9 1731.8h0M2294.7 1733h0M2295.6 1731.7h0M2296.5 1730.8h0M2297.4 1731.1h0M2298.3 1731.6h0M2299.1 1732.6h0M2300 1732.5h0M2300.9 1730.9h0M2301.8 1731.2h0M2302.7 1729.6h0M2303.5 1731.6h0M2304.4 1732.2h0M2305.3 1730.1h0M2306.2 1731.6h0M2307 1729.9h0M2307.9 1732.3h0M2308.8 1732h0M2309.7 1732.7h0M2310.6 1730.5h0M2311.4 1730.1h0M2312.3 1731.6h0M2313.2 1729.8h0M2314.1 1732.5h0M2315 1730.3h0M2315.8 1730.1h0M2316.7 1730.2h0M2317.6 1732.1h0M2318.5 1729.8h0M2319.3 1731.2h0M2320.2 1730.3h0M2321.1 1732.5h0M2322 1730h0M2322.9 1730.5h0M2323.7 1732.6h0M2324.6 1731.7h0M2325.5 1730.4h0M2326.4 1733.5h0M2327.3 1731.4h0M2328.1 1731.5h0M2329 1732.7h0M2329.9 1731.8h0M2330.8 1733h0M2331.6 1732h0M2332.5 1730.9h0M2333.4 1731.9h0M2334.3 1733h0M2335.2 1731h0M2336 1732.3h0M2336.9 1732.1h0M2337.8 1732.5h0M2338.7 1731.3h0M2339.6 1730.8h0M2340.4 1732.3h0M2341.3 1732.9h0M2342.2 1731.5h0M2343.1 1730.3h0M2343.9 1732.6h0M2344.8 1731.6h0M2345.7 1732.1h0M2346.6 1730h0M2347.5 1732.4h0M2348.3 1730.9h0M2349.2 1732.7h0M2350.1 1730.5h0M2351 1729.6h0M2351.9 1730.8h0M2352.7 1732.2h0M2353.6 1732.2h0M2354.5 1732.7h0M2355.4 1730.5h0M2356.2 1731.8h0M2357.1 1730h0M2358 1730.6h0M2358.9 1729.9h0M2359.8 1732h0M2360.6 1732.9h0M2361.5 1731.8h0M2362.4 1731.8h0M2363.3 1732.8h0M2364.2 1730.7h0M2365 1731.4h0M2365.9 1732.2h0M2366.8 1730h0M2367.7 1731.7h0M2368.5 1729.5h0M2369.4 1730.5h0M2370.3 1729.8h0M2371.2 1730.7h0M2372.1 1729.9h0M2372.9 1729.4h0M2373.8 1730.7h0M2374.7 1730.6h0M2375.6 1731.8h0M2376.5 1729.3h0M2377.3 1731.4h0M2378.2 1729.4h0M2379.1 1730.9h0M2380 1729.2h0M2380.8 1732.3h0M2381.7 1730.8h0M2382.6 1730.7h0M2383.5 1729.3h0M2384.4 1731.8h0M2385.2 1729.9h0M2386.1 1730.7h0M2387 1731.6h0M876.5 1223.5h0M877.5 1248h0" fill="none" stroke="#f00" stroke-width="23" stroke-linecap="round"/>
<path id="bot-bragg" d="M640.2 1747.2V1807M876.6 1747.2V1807M948 1747.2V1807M1213.3 1747.2V1807M1394.3 1747.2V1807M1671.2 1747.2V1807M1827 1747.2V1807M2074.3 1747.2V1807M2216.5 1747.2V1807M2263.8 1747.2V1807" fill="none" stroke="#008000" stroke-width="11.5" stroke-linecap="round"/>
<path id="bot-fit" d="M190.5 1527.88L191 1527.88L191.5 1527.89L192 1527.89L192.5 1527.89L193 1527.9L193.5 1527.9L194 1527.9L194.5 1527.9L195 1527.91L195.5 1527.91L196 1527.91L196.5 1527.92L197 1527.92L197.5 1527.92L198 1527.93L198.5 1527.93L199 1527.93L199.5 1527.94L200 1527.94L200.5 1527.94L201 1527.95L201.5 1527.95L202 1527.95L202.5 1527.96L203 1527.96L203.5 1527.96L204 1527.97L204.5 1527.97L205 1527.97L205.5 1527.98L206 1527.98L206.5 1527.98L207 1527.98L207.5 1527.99L208 1527.99L208.5 1527.99L209 1528L209.5 1528L210 1528L210.5 1528.01L211 1528.01L211.5 1528.01L212 1528.02L212.5 1528.02L213 1528.02L213.5 1528.03L214 1528.03L214.5 1528.03L215 1528.04L215.5 1528.04L216 1528.04L216.5 1528.05L217 1528.05L217.5 1528.05L218 1528.06L218.5 1528.06L219 1528.06L219.5 1528.06L220 1528.07L220.5 1528.07L221 1528.07L221.5 1528.08L222 1528.08L222.5 1528.08L223 1528.09L223.5 1528.09L224 1528.09L224.5 1528.1L225 1528.1L225.5 1528.1L226 1528.11L226.5 1528.11L227 1528.11L227.5 1528.12L228 1528.12L228.5 1528.12L229 1528.13L229.5 1528.13L230 1528.13L230.5 1528.14L231 1528.14L231.5 1528.14L232 1528.14L232.5 1528.15L233 1528.15L233.5 1528.15L234 1528.16L234.5 1528.16L235 1528.16L235.5 1528.17L236 1528.17L236.5 1528.17L237 1528.18L237.5 1528.18L238 1528.18L238.5 1528.19L239 1528.19L239.5 1528.19L240 1528.2L240.5 1528.2L241 1528.2L241.5 1528.21L242 1528.21L242.5 1528.21L243 1528.21L243.5 1528.22L244 1528.22L244.5 1528.22L245 1528.23L245.5 1528.23L246 1528.23L246.5 1528.24L247 1528.24L247.5 1528.24L248 1528.25L248.5 1528.25L249 1528.25L249.5 1528.26L250 1528.26L250.5 1528.26L251 1528.27L251.5 1528.27L252 1528.27L252.5 1528.28L253 1528.28L253.5 1528.28L254 1528.29L254.5 1528.29L255 1528.29L255.5 1528.29L256 1528.3L256.5 1528.3L257 1528.3L257.5 1528.31L258 1528.31L258.5 1528.31L259 1528.32L259.5 1528.32L260 1528.32L260.5 1528.33L261 1528.33L261.5 1528.33L262 1528.34L262.5 1528.34L263 1528.34L263.5 1528.35L264 1528.35L264.5 1528.35L265 1528.36L265.5 1528.36L266 1528.36L266.5 1528.36L267 1528.37L267.5 1528.37L268 1528.37L268.5 1528.38L269 1528.38L269.5 1528.38L270 1528.39L270.5 1528.39L271 1528.39L271.5 1528.4L272 1528.4L272.5 1528.4L273 1528.41L273.5 1528.41L274 1528.41L274.5 1528.42L275 1528.42L275.5 1528.42L276 1528.43L276.5 1528.43L277 1528.43L277.5 1528.43L278 1528.44L278.5 1528.44L279 1528.44L279.5 1528.45L280 1528.45L280.5 1528.45L281 1528.46L281.5 1528.46L282 1528.46L282.5 1528.47L283 1528.47L283.5 1528.47L284 1528.48L284.5 1528.48L285 1528.48L285.5 1528.49L286 1528.49L286.5 1528.49L287 1528.49L287.5 1528.5L288 1528.5L288.5 1528.5L289 1528.51L289.5 1528.51L290 1528.51L290.5 1528.52L291 1528.52L291.5 1528.52L292 1528.53L292.5 1528.53L293 1528.53L293.5 1528.54L294 1528.54L294.5 1528.54L295 1528.55L295.5 1528.55L296 1528.55L296.5 1528.56L297 1528.56L297.5 1528.56L298 1528.56L298.5 1528.57L299 1528.57L299.5 1528.57L300 1528.58L300.5 1528.58L301 1528.58L301.5 1528.59L302 1528.59L302.5 1528.59L303 1528.6L303.5 1528.6L304 1528.6L304.5 1528.61L305 1528.61L305.5 1528.61L306 1528.62L306.5 1528.62L307 1528.62L307.5 1528.62L308 1528.63L308.5 1528.63L309 1528.63L309.5 1528.64L310 1528.64L310.5 1528.64L311 1528.65L311.5 1528.65L312 1528.65L312.5 1528.66L313 1528.66L313.5 1528.66L314 1528.67L314.5 1528.67L315 1528.67L315.5 1528.68L316 1528.68L316.5 1528.68L317 1528.68L317.5 1528.69L318 1528.69L318.5 1528.69L319 1528.7L319.5 1528.7L320 1528.7L320.5 1528.71L321 1528.71L321.5 1528.71L322 1528.72L322.5 1528.72L323 1528.72L323.5 1528.73L324 1528.73L324.5 1528.73L325 1528.74L325.5 1528.74L326 1528.74L326.5 1528.74L327 1528.75L327.5 1528.75L328 1528.75L328.5 1528.76L329 1528.76L329.5 1528.76L330 1528.77L330.5 1528.77L331 1528.77L331.5 1528.78L332 1528.78L332.5 1528.78L333 1528.79L333.5 1528.79L334 1528.79L334.5 1528.8L335 1528.8L335.5 1528.8L336 1528.8L336.5 1528.81L337 1528.81L337.5 1528.81L338 1528.82L338.5 1528.82L339 1528.82L339.5 1528.83L340 1528.83L340.5 1528.83L341 1528.84L341.5 1528.84L342 1528.84L342.5 1528.85L343 1528.85L343.5 1528.85L344 1528.86L344.5 1528.86L345 1528.86L345.5 1528.86L346 1528.87L346.5 1528.87L347 1528.87L347.5 1528.88L348 1528.88L348.5 1528.88L349 1528.89L349.5 1528.89L350 1528.89L350.5 1528.9L351 1528.9L351.5 1528.9L352 1528.91L352.5 1528.91L353 1528.91L353.5 1528.91L354 1528.92L354.5 1528.92L355 1528.92L355.5 1528.93L356 1528.93L356.5 1528.93L357 1528.94L357.5 1528.94L358 1528.94L358.5 1528.95L359 1528.95L359.5 1528.95L360 1528.96L360.5 1528.96L361 1528.96L361.5 1528.96L362 1528.97L362.5 1528.97L363 1528.97L363.5 1528.98L364 1528.98L364.5 1528.98L365 1528.99L365.5 1528.99L366 1528.99L366.5 1529L367 1529L367.5 1529L368 1529.01L368.5 1529.01L369 1529.01L369.5 1529.01L370 1529.02L370.5 1529.02L371 1529.02L371.5 1529.03L372 1529.03L372.5 1529.03L373 1529.04L373.5 1529.04L374 1529.04L374.5 1529.05L375 1529.05L375.5 1529.05L376 1529.06L376.5 1529.06L377 1529.06L377.5 1529.06L378 1529.07L378.5 1529.07L379 1529.07L379.5 1529.08L380 1529.08L380.5 1529.08L381 1529.09L381.5 1529.09L382 1529.09L382.5 1529.1L383 1529.1L383.5 1529.1L384 1529.1L384.5 1529.11L385 1529.11L385.5 1529.11L386 1529.12L386.5 1529.12L387 1529.12L387.5 1529.13L388 1529.13L388.5 1529.13L389 1529.14L389.5 1529.14L390 1529.14L390.5 1529.14L391 1529.15L391.5 1529.15L392 1529.15L392.5 1529.16L393 1529.16L393.5 1529.16L394 1529.17L394.5 1529.17L395 1529.17L395.5 1529.18L396 1529.18L396.5 1529.18L397 1529.19L397.5 1529.19L398 1529.19L398.5 1529.19L399 1529.2L399.5 1529.2L400 1529.2L400.5 1529.21L401 1529.21L401.5 1529.21L402 1529.22L402.5 1529.22L403 1529.22L403.5 1529.23L404 1529.23L404.5 1529.23L405 1529.24L405.5 1529.24L406 1529.24L406.5 1529.25L407 1529.25L407.5 1529.25L408 1529.26L408.5 1529.26L409 1529.26L409.5 1529.27L410 1529.27L410.5 1529.27L411 1529.28L411.5 1529.28L412 1529.28L412.5 1529.29L413 1529.29L413.5 1529.29L414 1529.3L414.5 1529.3L415 1529.3L415.5 1529.31L416 1529.31L416.5 1529.31L417 1529.32L417.5 1529.32L418 1529.32L418.5 1529.33L419 1529.33L419.5 1529.33L420 1529.34L420.5 1529.34L421 1529.34L421.5 1529.35L422 1529.35L422.5 1529.35L423 1529.36L423.5 1529.36L424 1529.36L424.5 1529.37L425 1529.37L425.5 1529.37L426 1529.38L426.5 1529.38L427 1529.38L427.5 1529.39L428 1529.39L428.5 1529.39L429 1529.4L429.5 1529.4L430 1529.4L430.5 1529.41L431 1529.41L431.5 1529.41L432 1529.42L432.5 1529.42L433 1529.42L433.5 1529.43L434 1529.43L434.5 1529.43L435 1529.44L435.5 1529.44L436 1529.44L436.5 1529.45L437 1529.45L437.5 1529.45L438 1529.46L438.5 1529.46L439 1529.46L439.5 1529.47L440 1529.47L440.5 1529.47L441 1529.48L441.5 1529.48L442 1529.48L442.5 1529.49L443 1529.49L443.5 1529.49L444 1529.5L444.5 1529.5L445 1529.5L445.5 1529.51L446 1529.51L446.5 1529.51L447 1529.52L447.5 1529.52L448 1529.52L448.5 1529.52L449 1529.53L449.5 1529.53L450 1529.53L450.5 1529.54L451 1529.54L451.5 1529.54L452 1529.55L452.5 1529.55L453 1529.55L453.5 1529.56L454 1529.56L454.5 1529.56L455 1529.57L455.5 1529.57L456 1529.57L456.5 1529.58L457 1529.58L457.5 1529.58L458 1529.59L458.5 1529.59L459 1529.59L459.5 1529.6L460 1529.6L460.5 1529.6L461 1529.61L461.5 1529.61L462 1529.61L462.5 1529.61L463 1529.62L463.5 1529.62L464 1529.62L464.5 1529.63L465 1529.63L465.5 1529.63L466 1529.64L466.5 1529.64L467 1529.64L467.5 1529.65L468 1529.65L468.5 1529.65L469 1529.66L469.5 1529.66L470 1529.66L470.5 1529.67L471 1529.67L471.5 1529.67L472 1529.67L472.5 1529.68L473 1529.68L473.5 1529.68L474 1529.69L474.5 1529.69L475 1529.69L475.5 1529.7L476 1529.7L476.5 1529.7L477 1529.71L477.5 1529.71L478 1529.71L478.5 1529.71L479 1529.72L479.5 1529.72L480 1529.72L480.5 1529.73L481 1529.73L481.5 1529.73L482 1529.74L482.5 1529.74L483 1529.74L483.5 1529.75L484 1529.75L484.5 1529.75L485 1529.75L485.5 1529.76L486 1529.76L486.5 1529.76L487 1529.77L487.5 1529.77L488 1529.77L488.5 1529.78L489 1529.78L489.5 1529.78L490 1529.78L490.5 1529.79L491 1529.79L491.5 1529.79L492 1529.8L492.5 1529.8L493 1529.8L493.5 1529.81L494 1529.81L494.5 1529.81L495 1529.81L495.5 1529.82L496 1529.82L496.5 1529.82L497 1529.83L497.5 1529.83L498 1529.83L498.5 1529.83L499 1529.84L499.5 1529.84L500 1529.84L500.5 1529.85L501 1529.85L501.5 1529.85L502 1529.85L502.5 1529.86L503 1529.86L503.5 1529.86L504 1529.87L504.5 1529.87L505 1529.87L505.5 1529.87L506 1529.88L506.5 1529.88L507 1529.88L507.5 1529.89L508 1529.89L508.5 1529.89L509 1529.89L509.5 1529.9L510 1529.9L510.5 1529.9L511 1529.9L511.5 1529.91L512 1529.91L512.5 1529.91L513 1529.92L513.5 1529.92L514 1529.92L514.5 1529.92L515 1529.93L515.5 1529.93L516 1529.93L516.5 1529.93L517 1529.94L517.5 1529.94L518 1529.94L518.5 1529.94L519 1529.95L519.5 1529.95L520 1529.95L520.5 1529.95L521 1529.96L521.5 1529.96L522 1529.96L522.5 1529.96L523 1529.97L523.5 1529.97L524 1529.97L524.5 1529.97L525 1529.98L525.5 1529.98L526 1529.98L526.5 1529.98L527 1529.99L527.5 1529.99L528 1529.99L528.5 1529.99L529 1529.99L529.5 1530L530 1530L530.5 1530L531 1530L531.5 1530.01L532 1530.01L532.5 1530.01L533 1530.01L533.5 1530.01L534 1530.02L534.5 1530.02L535 1530.02L535.5 1530.02L536 1530.02L536.5 1530.03L537 1530.03L537.5 1530.03L538 1530.03L538.5 1530.03L539 1530.04L539.5 1530.04L540 1530.04L540.5 1530.04L541 1530.04L541.5 1530.05L542 1530.05L542.5 1530.05L543 1530.05L543.5 1530.05L544 1530.05L544.5 1530.06L545 1530.06L545.5 1530.06L546 1530.06L546.5 1530.06L547 1530.06L547.5 1530.06L548 1530.07L548.5 1530.07L549 1530.07L549.5 1530.07L550 1530.07L550.5 1530.07L551 1530.07L551.5 1530.08L552 1530.08L552.5 1530.08L553 1530.08L553.5 1530.08L554 1530.08L554.5 1530.08L555 1530.08L555.5 1530.08L556 1530.08L556.5 1530.08L557 1530.09L557.5 1530.09L558 1530.09L558.5 1530.09L559 1530.09L559.5 1530.09L560 1530.09L560.5 1530.09L561 1530.09L561.5 1530.09L562 1530.09L562.5 1530.09L563 1530.09L563.5 1530.09L564 1530.09L564.5 1530.09L565 1530.09L565.5 1530.09L566 1530.09L566.5 1530.09L567 1530.09L567.5 1530.09L568 1530.09L568.5 1530.09L569 1530.09L569.5 1530.09L570 1530.09L570.5 1530.09L571 1530.09L571.5 1530.09L572 1530.09L572.5 1530.09L573 1530.09L573.5 1530.09L574 1530.08L574.5 1530.08L575 1530.08L575.5 1530.08L576 1530.08L576.5 1530.08L577 1530.07L577.5 1530.07L578 1530.07L578.5 1530.07L579 1530.06L579.5 1530.06L580 1530.06L580.5 1530.05L581 1530.05L581.5 1530.05L582 1530.04L582.5 1530.04L583 1530.03L583.5 1530.03L584 1530.03L584.5 1530.02L585 1530.02L585.5 1530.01L586 1530L586.5 1530L587 1529.99L587.5 1529.99L588 1529.98L588.5 1529.97L589 1529.96L589.5 1529.96L590 1529.95L590.5 1529.94L591 1529.93L591.5 1529.92L592 1529.91L592.5 1529.9L593 1529.89L593.5 1529.88L594 1529.87L594.5 1529.86L595 1529.85L595.5 1529.83L596 1529.82L596.5 1529.81L597 1529.79L597.5 1529.78L598 1529.76L598.5 1529.74L599 1529.73L599.5 1529.71L600 1529.69L600.5 1529.67L601 1529.65L601.5 1529.63L602 1529.61L602.5 1529.58L603 1529.56L603.5 1529.53L604 1529.5L604.5 1529.48L605 1529.45L605.5 1529.42L606 1529.38L606.5 1529.35L607 1529.31L607.5 1529.28L608 1529.24L608.5 1529.2L609 1529.15L609.5 1529.11L610 1529.06L610.5 1529.01L611 1528.96L611.5 1528.9L612 1528.85L612.5 1528.78L613 1528.72L613.5 1528.65L614 1528.58L614.5 1528.5L615 1528.42L615.5 1528.33L616 1528.24L616.5 1528.14L617 1528.04L617.5 1527.93L618 1527.81L618.5 1527.67L619 1527.53L619.5 1527.38L620 1527.21L620.5 1527.02L621 1526.81L621.5 1526.57L622 1526.3L622.5 1525.99L623 1525.63L623.5 1525.21L624 1524.72L624.5 1524.14L625 1523.45L625.5 1522.64L626 1521.68L626.5 1520.55L627 1519.21L627.5 1517.63L628 1515.79L628.5 1513.65L629 1511.17L629.5 1508.31L630 1505.06L630.5 1501.38L631 1497.26L631.5 1492.67L632 1487.62L632.5 1482.12L633 1476.18L633.5 1469.84L634 1463.15L634.5 1456.18L635 1449.02L635.5 1441.76L636 1434.53L636.5 1427.48L637 1420.75L637.5 1414.52L638 1408.96L638.5 1404.27L639 1400.6L639.5 1398.12L640 1396.92L640.5 1397.06L641 1398.53L641.5 1401.27L642 1405.15L642.5 1410.04L643 1415.75L643.5 1422.11L644 1428.92L644.5 1436.03L645 1443.28L645.5 1450.54L646 1457.68L646.5 1464.6L647 1471.23L647.5 1477.5L648 1483.37L648.5 1488.79L649 1493.75L649.5 1498.25L650 1502.3L650.5 1505.9L651 1509.07L651.5 1511.86L652 1514.27L652.5 1516.36L653 1518.16L653.5 1519.69L654 1520.99L654.5 1522.1L655 1523.03L655.5 1523.82L656 1524.49L656.5 1525.06L657 1525.54L657.5 1525.96L658 1526.31L658.5 1526.62L659 1526.89L659.5 1527.13L660 1527.35L660.5 1527.54L661 1527.71L661.5 1527.87L662 1528.02L662.5 1528.16L663 1528.28L663.5 1528.4L664 1528.51L664.5 1528.62L665 1528.71L665.5 1528.81L666 1528.89L666.5 1528.98L667 1529.06L667.5 1529.13L668 1529.2L668.5 1529.27L669 1529.34L669.5 1529.4L670 1529.46L670.5 1529.51L671 1529.57L671.5 1529.62L672 1529.67L672.5 1529.72L673 1529.76L673.5 1529.81L674 1529.85L674.5 1529.89L675 1529.93L675.5 1529.97L676 1530L676.5 1530.04L677 1530.07L677.5 1530.11L678 1530.14L678.5 1530.17L679 1530.2L679.5 1530.23L680 1530.25L680.5 1530.28L681 1530.31L681.5 1530.33L682 1530.36L682.5 1530.38L683 1530.4L683.5 1530.42L684 1530.45L684.5 1530.47L685 1530.49L685.5 1530.51L686 1530.53L686.5 1530.55L687 1530.56L687.5 1530.58L688 1530.6L688.5 1530.62L689 1530.63L689.5 1530.65L690 1530.67L690.5 1530.68L691 1530.7L691.5 1530.71L692 1530.72L692.5 1530.74L693 1530.75L693.5 1530.77L694 1530.78L694.5 1530.79L695 1530.8L695.5 1530.82L696 1530.83L696.5 1530.84L697 1530.85L697.5 1530.86L698 1530.88L698.5 1530.89L699 1530.9L699.5 1530.91L700 1530.92L700.5 1530.93L701 1530.94L701.5 1530.95L702 1530.96L702.5 1530.97L703 1530.98L703.5 1530.99L704 1531L704.5 1531.01L705 1531.01L705.5 1531.02L706 1531.03L706.5 1531.04L707 1531.05L707.5 1531.06L708 1531.06L708.5 1531.07L709 1531.08L709.5 1531.09L710 1531.1L710.5 1531.1L711 1531.11L711.5 1531.12L712 1531.12L712.5 1531.13L713 1531.14L713.5 1531.15L714 1531.15L714.5 1531.16L715 1531.17L715.5 1531.17L716 1531.18L716.5 1531.19L717 1531.19L717.5 1531.2L718 1531.2L718.5 1531.21L719 1531.22L719.5 1531.22L720 1531.23L720.5 1531.23L721 1531.24L721.5 1531.24L722 1531.25L722.5 1531.26L723 1531.26L723.5 1531.27L724 1531.27L724.5 1531.28L725 1531.28L725.5 1531.29L726 1531.29L726.5 1531.3L727 1531.3L727.5 1531.31L728 1531.31L728.5 1531.32L729 1531.32L729.5 1531.33L730 1531.33L730.5 1531.34L731 1531.34L731.5 1531.35L732 1531.35L732.5 1531.35L733 1531.36L733.5 1531.36L734 1531.37L734.5 1531.37L735 1531.38L735.5 1531.38L736 1531.38L736.5 1531.39L737 1531.39L737.5 1531.4L738 1531.4L738.5 1531.4L739 1531.41L739.5 1531.41L740 1531.42L740.5 1531.42L741 1531.42L741.5 1531.42L742 1531.42L742.5 1531.43L743 1531.43L743.5 1531.43L744 1531.43L744.5 1531.43L745 1531.43L745.5 1531.44L746 1531.44L746.5 1531.44L747 1531.44L747.5 1531.44L748 1531.44L748.5 1531.44L749 1531.44L749.5 1531.45L750 1531.45L750.5 1531.45L751 1531.45L751.5 1531.45L752 1531.45L752.5 1531.45L753 1531.45L753.5 1531.45L754 1531.45L754.5 1531.46L755 1531.46L755.5 1531.46L756 1531.46L756.5 1531.46L757 1531.46L757.5 1531.46L758 1531.46L758.5 1531.46L759 1531.46L759.5 1531.46L760 1531.46L760.5 1531.46L761 1531.46L761.5 1531.46L762 1531.46L762.5 1531.46L763 1531.46L763.5 1531.46L764 1531.46L764.5 1531.46L765 1531.46L765.5 1531.46L766 1531.46L766.5 1531.46L767 1531.46L767.5 1531.46L768 1531.46L768.5 1531.46L769 1531.46L769.5 1531.46L770 1531.45L770.5 1531.45L771 1531.45L771.5 1531.45L772 1531.45L772.5 1531.45L773 1531.45L773.5 1531.45L774 1531.45L774.5 1531.44L775 1531.44L775.5 1531.44L776 1531.44L776.5 1531.44L777 1531.44L777.5 1531.43L778 1531.43L778.5 1531.43L779 1531.43L779.5 1531.43L780 1531.42L780.5 1531.42L781 1531.42L781.5 1531.42L782 1531.41L782.5 1531.41L783 1531.41L783.5 1531.4L784 1531.4L784.5 1531.4L785 1531.4L785.5 1531.39L786 1531.39L786.5 1531.38L787 1531.38L787.5 1531.38L788 1531.37L788.5 1531.37L789 1531.37L789.5 1531.36L790 1531.36L790.5 1531.35L791 1531.35L791.5 1531.34L792 1531.34L792.5 1531.33L793 1531.33L793.5 1531.32L794 1531.32L794.5 1531.31L795 1531.31L795.5 1531.3L796 1531.29L796.5 1531.29L797 1531.28L797.5 1531.27L798 1531.27L798.5 1531.26L799 1531.25L799.5 1531.25L800 1531.24L800.5 1531.23L801 1531.22L801.5 1531.21L802 1531.21L802.5 1531.2L803 1531.19L803.5 1531.18L804 1531.17L804.5 1531.16L805 1531.15L805.5 1531.14L806 1531.13L806.5 1531.12L807 1531.11L807.5 1531.1L808 1531.08L808.5 1531.07L809 1531.06L809.5 1531.05L810 1531.03L810.5 1531.02L811 1531.01L811.5 1530.99L812 1530.98L812.5 1530.96L813 1530.95L813.5 1530.93L814 1530.92L814.5 1530.9L815 1530.88L815.5 1530.87L816 1530.85L816.5 1530.83L817 1530.81L817.5 1530.79L818 1530.77L818.5 1530.75L819 1530.73L819.5 1530.71L820 1530.69L820.5 1530.66L821 1530.64L821.5 1530.62L822 1530.59L822.5 1530.56L823 1530.54L823.5 1530.51L824 1530.48L824.5 1530.45L825 1530.42L825.5 1530.39L826 1530.36L826.5 1530.33L827 1530.29L827.5 1530.26L828 1530.22L828.5 1530.18L829 1530.14L829.5 1530.1L830 1530.06L830.5 1530.02L831 1529.97L831.5 1529.93L832 1529.88L832.5 1529.83L833 1529.78L833.5 1529.73L834 1529.67L834.5 1529.62L835 1529.56L835.5 1529.5L836 1529.43L836.5 1529.37L837 1529.3L837.5 1529.23L838 1529.15L838.5 1529.08L839 1529L839.5 1528.92L840 1528.83L840.5 1528.74L841 1528.65L841.5 1528.55L842 1528.45L842.5 1528.34L843 1528.23L843.5 1528.12L844 1528L844.5 1527.87L845 1527.74L845.5 1527.6L846 1527.46L846.5 1527.3L847 1527.14L847.5 1526.98L848 1526.8L848.5 1526.62L849 1526.42L849.5 1526.22L850 1526L850.5 1525.78L851 1525.54L851.5 1525.28L852 1525.01L852.5 1524.73L853 1524.42L853.5 1524.1L854 1523.75L854.5 1523.37L855 1522.97L855.5 1522.53L856 1522.05L856.5 1521.53L857 1520.94L857.5 1520.29L858 1519.56L858.5 1518.72L859 1517.76L859.5 1516.65L860 1515.35L860.5 1513.83L861 1512.04L861.5 1509.93L862 1507.43L862.5 1504.47L863 1500.98L863.5 1496.85L864 1492.01L864.5 1486.35L865 1479.78L865.5 1472.18L866 1463.46L866.5 1453.53L867 1442.33L867.5 1429.78L868 1415.86L868.5 1400.56L869 1383.92L869.5 1366.01L870 1346.93L870.5 1326.86L871 1306L871.5 1284.61L872 1263.02L872.5 1241.59L873 1220.76L873.5 1201L874 1182.82L874.5 1166.77L875 1153.38L875.5 1143.15L876 1136.5L876.5 1133.71L877 1134.91L877.5 1140.04L878 1148.89L878.5 1161.07L879 1176.13L879.5 1193.52L880 1212.72L880.5 1233.18L881 1254.43L881.5 1276.01L882 1297.52L882.5 1318.63L883 1339.05L883.5 1358.55L884 1376.95L884.5 1394.11L885 1409.95L885.5 1424.43L886 1437.52L886.5 1449.26L887 1459.7L887.5 1468.89L888 1476.93L888.5 1483.91L889 1489.92L889.5 1495.08L890 1499.48L890.5 1503.22L891 1506.39L891.5 1509.06L892 1511.32L892.5 1513.24L893 1514.86L893.5 1516.24L894 1517.43L894.5 1518.45L895 1519.33L895.5 1520.11L896 1520.79L896.5 1521.41L897 1521.96L897.5 1522.45L898 1522.91L898.5 1523.33L899 1523.71L899.5 1524.07L900 1524.41L900.5 1524.72L901 1525.02L901.5 1525.29L902 1525.56L902.5 1525.8L903 1526.04L903.5 1526.26L904 1526.47L904.5 1526.66L905 1526.85L905.5 1527.03L906 1527.2L906.5 1527.36L907 1527.52L907.5 1527.67L908 1527.81L908.5 1527.94L909 1528.07L909.5 1528.19L910 1528.31L910.5 1528.42L911 1528.52L911.5 1528.62L912 1528.72L912.5 1528.81L913 1528.9L913.5 1528.98L914 1529.06L914.5 1529.14L915 1529.21L915.5 1529.29L916 1529.35L916.5 1529.42L917 1529.48L917.5 1529.53L918 1529.59L918.5 1529.64L919 1529.69L919.5 1529.74L920 1529.78L920.5 1529.82L921 1529.86L921.5 1529.9L922 1529.93L922.5 1529.96L923 1529.99L923.5 1530.02L924 1530.04L924.5 1530.06L925 1530.08L925.5 1530.1L926 1530.11L926.5 1530.12L927 1530.12L927.5 1530.12L928 1530.11L928.5 1530.1L929 1530.08L929.5 1530.06L930 1530.02L930.5 1529.97L931 1529.91L931.5 1529.83L932 1529.73L932.5 1529.61L933 1529.46L933.5 1529.28L934 1529.07L934.5 1528.81L935 1528.5L935.5 1528.14L936 1527.72L936.5 1527.24L937 1526.68L937.5 1526.04L938 1525.32L938.5 1524.52L939 1523.63L939.5 1522.65L940 1521.58L940.5 1520.44L941 1519.21L941.5 1517.92L942 1516.57L942.5 1515.19L943 1513.78L943.5 1512.37L944 1510.99L944.5 1509.66L945 1508.41L945.5 1507.28L946 1506.29L946.5 1505.49L947 1504.9L947.5 1504.54L948 1504.42L948.5 1504.57L949 1504.96L949.5 1505.58L950 1506.41L950.5 1507.43L951 1508.59L951.5 1509.87L952 1511.23L952.5 1512.64L953 1514.08L953.5 1515.52L954 1516.94L954.5 1518.31L955 1519.64L955.5 1520.89L956 1522.07L956.5 1523.17L957 1524.18L957.5 1525.1L958 1525.94L958.5 1526.69L959 1527.36L959.5 1527.95L960 1528.47L960.5 1528.93L961 1529.32L961.5 1529.67L962 1529.96L962.5 1530.21L963 1530.43L963.5 1530.61L964 1530.77L964.5 1530.91L965 1531.03L965.5 1531.13L966 1531.22L966.5 1531.3L967 1531.37L967.5 1531.43L968 1531.48L968.5 1531.53L969 1531.58L969.5 1531.62L970 1531.66L970.5 1531.7L971 1531.73L971.5 1531.77L972 1531.8L972.5 1531.83L973 1531.85L973.5 1531.88L974 1531.91L974.5 1531.93L975 1531.95L975.5 1531.98L976 1532L976.5 1532.02L977 1532.04L977.5 1532.06L978 1532.08L978.5 1532.1L979 1532.11L979.5 1532.13L980 1532.15L980.5 1532.16L981 1532.18L981.5 1532.19L982 1532.21L982.5 1532.22L983 1532.24L983.5 1532.25L984 1532.26L984.5 1532.28L985 1532.29L985.5 1532.3L986 1532.31L986.5 1532.32L987 1532.34L987.5 1532.35L988 1532.36L988.5 1532.37L989 1532.38L989.5 1532.39L990 1532.4L990.5 1532.41L991 1532.42L991.5 1532.43L992 1532.44L992.5 1532.45L993 1532.46L993.5 1532.46L994 1532.47L994.5 1532.48L995 1532.49L995.5 1532.5L996 1532.51L996.5 1532.51L997 1532.52L997.5 1532.53L998 1532.54L998.5 1532.54L999 1532.55L999.5 1532.56L1000 1532.57L1000.5 1532.57L1001 1532.58L1001.5 1532.58L1002 1532.59L1002.5 1532.59L1003 1532.6L1003.5 1532.6L1004 1532.61L1004.5 1532.61L1005 1532.62L1005.5 1532.62L1006 1532.63L1006.5 1532.63L1007 1532.64L1007.5 1532.64L1008 1532.65L1008.5 1532.65L1009 1532.65L1009.5 1532.66L1010 1532.66L1010.5 1532.67L1011 1532.67L1011.5 1532.67L1012 1532.68L1012.5 1532.68L1013 1532.69L1013.5 1532.69L1014 1532.69L1014.5 1532.7L1015 1532.7L1015.5 1532.7L1016 1532.71L1016.5 1532.71L1017 1532.72L1017.5 1532.72L1018 1532.72L1018.5 1532.73L1019 1532.73L1019.5 1532.73L1020 1532.74L1020.5 1532.74L1021 1532.74L1021.5 1532.74L1022 1532.75L1022.5 1532.75L1023 1532.75L1023.5 1532.76L1024 1532.76L1024.5 1532.76L1025 1532.77L1025.5 1532.77L1026 1532.77L1026.5 1532.77L1027 1532.78L1027.5 1532.78L1028 1532.78L1028.5 1532.78L1029 1532.79L1029.5 1532.79L1030 1532.79L1030.5 1532.8L1031 1532.8L1031.5 1532.8L1032 1532.8L1032.5 1532.81L1033 1532.81L1033.5 1532.81L1034 1532.81L1034.5 1532.82L1035 1532.82L1035.5 1532.82L1036 1532.82L1036.5 1532.82L1037 1532.83L1037.5 1532.83L1038 1532.83L1038.5 1532.83L1039 1532.84L1039.5 1532.84L1040 1532.84L1040.5 1532.84L1041 1532.84L1041.5 1532.85L1042 1532.85L1042.5 1532.85L1043 1532.85L1043.5 1532.86L1044 1532.86L1044.5 1532.86L1045 1532.86L1045.5 1532.86L1046 1532.87L1046.5 1532.87L1047 1532.87L1047.5 1532.87L1048 1532.87L1048.5 1532.87L1049 1532.88L1049.5 1532.88L1050 1532.88L1050.5 1532.88L1051 1532.88L1051.5 1532.89L1052 1532.89L1052.5 1532.89L1053 1532.89L1053.5 1532.89L1054 1532.89L1054.5 1532.9L1055 1532.9L1055.5 1532.9L1056 1532.9L1056.5 1532.9L1057 1532.9L1057.5 1532.91L1058 1532.91L1058.5 1532.91L1059 1532.91L1059.5 1532.91L1060 1532.91L1060.5 1532.92L1061 1532.92L1061.5 1532.92L1062 1532.92L1062.5 1532.92L1063 1532.92L1063.5 1532.93L1064 1532.93L1064.5 1532.93L1065 1532.93L1065.5 1532.93L1066 1532.93L1066.5 1532.93L1067 1532.94L1067.5 1532.94L1068 1532.94L1068.5 1532.94L1069 1532.94L1069.5 1532.94L1070 1532.94L1070.5 1532.95L1071 1532.95L1071.5 1532.95L1072 1532.95L1072.5 1532.95L1073 1532.95L1073.5 1532.95L1074 1532.95L1074.5 1532.96L1075 1532.96L1075.5 1532.96L1076 1532.96L1076.5 1532.96L1077 1532.96L1077.5 1532.96L1078 1532.96L1078.5 1532.97L1079 1532.97L1079.5 1532.97L1080 1532.97L1080.5 1532.97L1081 1532.97L1081.5 1532.97L1082 1532.97L1082.5 1532.97L1083 1532.98L1083.5 1532.98L1084 1532.98L1084.5 1532.98L1085 1532.98L1085.5 1532.98L1086 1532.98L1086.5 1532.98L1087 1532.98L1087.5 1532.99L1088 1532.99L1088.5 1532.99L1089 1532.99L1089.5 1532.99L1090 1532.99L1090.5 1532.99L1091 1532.99L1091.5 1532.99L1092 1532.99L1092.5 1532.99L1093 1533L1093.5 1533L1094 1533L1094.5 1533L1095 1533L1095.5 1533L1096 1533L1096.5 1533L1097 1533L1097.5 1533L1098 1533L1098.5 1533L1099 1533.01L1099.5 1533.01L1100 1533.01L1100.5 1533.01L1101 1533.01L1101.5 1533.01L1102 1533.01L1102.5 1533.01L1103 1533.01L1103.5 1533.01L1104 1533.01L1104.5 1533.01L1105 1533.01L1105.5 1533.01L1106 1533.01L1106.5 1533.02L1107 1533.02L1107.5 1533.02L1108 1533.02L1108.5 1533.02L1109 1533.02L1109.5 1533.02L1110 1533.02L1110.5 1533.02L1111 1533.02L1111.5 1533.02L1112 1533.02L1112.5 1533.02L1113 1533.02L1113.5 1533.02L1114 1533.02L1114.5 1533.02L1115 1533.02L1115.5 1533.02L1116 1533.02L1116.5 1533.02L1117 1533.02L1117.5 1533.02L1118 1533.02L1118.5 1533.02L1119 1533.02L1119.5 1533.02L1120 1533.03L1120.5 1533.03L1121 1533.03L1121.5 1533.03L1122 1533.03L1122.5 1533.03L1123 1533.03L1123.5 1533.03L1124 1533.03L1124.5 1533.03L1125 1533.03L1125.5 1533.03L1126 1533.02L1126.5 1533.02L1127 1533.02L1127.5 1533.02L1128 1533.02L1128.5 1533.02L1129 1533.02L1129.5 1533.02L1130 1533.02L1130.5 1533.02L1131 1533.02L1131.5 1533.02L1132 1533.02L1132.5 1533.02L1133 1533.02L1133.5 1533.02L1134 1533.02L1134.5 1533.02L1135 1533.02L1135.5 1533.02L1136 1533.02L1136.5 1533.02L1137 1533.01L1137.5 1533.01L1138 1533.01L1138.5 1533.01L1139 1533.01L1139.5 1533.01L1140 1533.01L1140.5 1533.01L1141 1533L1141.5 1533L1142 1533L1142.5 1533L1143 1532.99L1143.5 1532.99L1144 1532.99L1144.5 1532.99L1145 1532.98L1145.5 1532.98L1146 1532.98L1146.5 1532.98L1147 1532.97L1147.5 1532.97L1148 1532.97L1148.5 1532.96L1149 1532.96L1149.5 1532.96L1150 1532.95L1150.5 1532.95L1151 1532.95L1151.5 1532.94L1152 1532.94L1152.5 1532.94L1153 1532.93L1153.5 1532.93L1154 1532.92L1154.5 1532.92L1155 1532.91L1155.5 1532.91L1156 1532.91L1156.5 1532.9L1157 1532.9L1157.5 1532.89L1158 1532.89L1158.5 1532.88L1159 1532.88L1159.5 1532.87L1160 1532.86L1160.5 1532.86L1161 1532.85L1161.5 1532.85L1162 1532.84L1162.5 1532.83L1163 1532.83L1163.5 1532.82L1164 1532.81L1164.5 1532.81L1165 1532.8L1165.5 1532.79L1166 1532.78L1166.5 1532.77L1167 1532.77L1167.5 1532.76L1168 1532.75L1168.5 1532.74L1169 1532.73L1169.5 1532.72L1170 1532.71L1170.5 1532.7L1171 1532.69L1171.5 1532.67L1172 1532.66L1172.5 1532.65L1173 1532.64L1173.5 1532.62L1174 1532.61L1174.5 1532.6L1175 1532.58L1175.5 1532.57L1176 1532.55L1176.5 1532.53L1177 1532.52L1177.5 1532.5L1178 1532.48L1178.5 1532.46L1179 1532.44L1179.5 1532.42L1180 1532.4L1180.5 1532.38L1181 1532.35L1181.5 1532.33L1182 1532.3L1182.5 1532.27L1183 1532.25L1183.5 1532.22L1184 1532.18L1184.5 1532.15L1185 1532.12L1185.5 1532.08L1186 1532.04L1186.5 1532L1187 1531.96L1187.5 1531.91L1188 1531.87L1188.5 1531.82L1189 1531.76L1189.5 1531.7L1190 1531.64L1190.5 1531.58L1191 1531.5L1191.5 1531.42L1192 1531.34L1192.5 1531.24L1193 1531.13L1193.5 1531.01L1194 1530.88L1194.5 1530.72L1195 1530.55L1195.5 1530.34L1196 1530.1L1196.5 1529.83L1197 1529.5L1197.5 1529.12L1198 1528.68L1198.5 1528.17L1199 1527.57L1199.5 1526.87L1200 1526.07L1200.5 1525.14L1201 1524.07L1201.5 1522.86L1202 1521.48L1202.5 1519.93L1203 1518.2L1203.5 1516.28L1204 1514.17L1204.5 1511.87L1205 1509.38L1205.5 1506.7L1206 1503.86L1206.5 1500.87L1207 1497.76L1207.5 1494.56L1208 1491.3L1208.5 1488.03L1209 1484.8L1209.5 1481.67L1210 1478.71L1210.5 1475.97L1211 1473.53L1211.5 1471.46L1212 1469.82L1212.5 1468.68L1213 1468.07L1213.5 1468.01L1214 1468.51L1214.5 1469.55L1215 1471.09L1215.5 1473.08L1216 1475.45L1216.5 1478.14L1217 1481.06L1217.5 1484.16L1218 1487.38L1218.5 1490.64L1219 1493.9L1219.5 1497.12L1220 1500.25L1220.5 1503.27L1221 1506.14L1221.5 1508.85L1222 1511.38L1222.5 1513.72L1223 1515.87L1223.5 1517.83L1224 1519.59L1224.5 1521.18L1225 1522.59L1225.5 1523.83L1226 1524.93L1226.5 1525.88L1227 1526.71L1227.5 1527.43L1228 1528.05L1228.5 1528.58L1229 1529.03L1229.5 1529.42L1230 1529.76L1230.5 1530.04L1231 1530.29L1231.5 1530.5L1232 1530.68L1232.5 1530.84L1233 1530.98L1233.5 1531.1L1234 1531.21L1234.5 1531.31L1235 1531.39L1235.5 1531.48L1236 1531.55L1236.5 1531.62L1237 1531.68L1237.5 1531.74L1238 1531.79L1238.5 1531.84L1239 1531.89L1239.5 1531.94L1240 1531.98L1240.5 1532.02L1241 1532.06L1241.5 1532.09L1242 1532.13L1242.5 1532.16L1243 1532.19L1243.5 1532.22L1244 1532.25L1244.5 1532.28L1245 1532.3L1245.5 1532.33L1246 1532.35L1246.5 1532.37L1247 1532.4L1247.5 1532.42L1248 1532.44L1248.5 1532.46L1249 1532.48L1249.5 1532.49L1250 1532.51L1250.5 1532.53L1251 1532.54L1251.5 1532.56L1252 1532.57L1252.5 1532.59L1253 1532.6L1253.5 1532.61L1254 1532.62L1254.5 1532.64L1255 1532.65L1255.5 1532.66L1256 1532.67L1256.5 1532.68L1257 1532.69L1257.5 1532.7L1258 1532.71L1258.5 1532.72L1259 1532.73L1259.5 1532.74L1260 1532.75L1260.5 1532.75L1261 1532.76L1261.5 1532.77L1262 1532.78L1262.5 1532.78L1263 1532.79L1263.5 1532.8L1264 1532.8L1264.5 1532.81L1265 1532.82L1265.5 1532.82L1266 1532.83L1266.5 1532.83L1267 1532.84L1267.5 1532.84L1268 1532.85L1268.5 1532.85L1269 1532.86L1269.5 1532.86L1270 1532.87L1270.5 1532.87L1271 1532.88L1271.5 1532.88L1272 1532.89L1272.5 1532.89L1273 1532.89L1273.5 1532.9L1274 1532.9L1274.5 1532.9L1275 1532.91L1275.5 1532.91L1276 1532.91L1276.5 1532.92L1277 1532.92L1277.5 1532.92L1278 1532.93L1278.5 1532.93L1279 1532.93L1279.5 1532.94L1280 1532.94L1280.5 1532.94L1281 1532.94L1281.5 1532.95L1282 1532.95L1282.5 1532.95L1283 1532.95L1283.5 1532.96L1284 1532.96L1284.5 1532.96L1285 1532.96L1285.5 1532.96L1286 1532.97L1286.5 1532.97L1287 1532.97L1287.5 1532.97L1288 1532.97L1288.5 1532.98L1289 1532.98L1289.5 1532.98L1290 1532.98L1290.5 1532.98L1291 1532.98L1291.5 1532.99L1292 1532.99L1292.5 1532.99L1293 1532.99L1293.5 1532.99L1294 1532.99L1294.5 1533L1295 1533L1295.5 1533L1296 1533L1296.5 1533L1297 1533L1297.5 1533L1298 1533L1298.5 1533.01L1299 1533.01L1299.5 1533.01L1300 1533.01L1300.5 1533.01L1301 1533.01L1301.5 1533.01L1302 1533.01L1302.5 1533.01L1303 1533.02L1303.5 1533.02L1304 1533.02L1304.5 1533.02L1305 1533.02L1305.5 1533.02L1306 1533.02L1306.5 1533.02L1307 1533.02L1307.5 1533.02L1308 1533.02L1308.5 1533.02L1309 1533.03L1309.5 1533.03L1310 1533.03L1310.5 1533.03L1311 1533.03L1311.5 1533.03L1312 1533.03L1312.5 1533.03L1313 1533.03L1313.5 1533.03L1314 1533.03L1314.5 1533.03L1315 1533.03L1315.5 1533.03L1316 1533.03L1316.5 1533.04L1317 1533.04L1317.5 1533.04L1318 1533.04L1318.5 1533.04L1319 1533.04L1319.5 1533.04L1320 1533.04L1320.5 1533.04L1321 1533.04L1321.5 1533.04L1322 1533.04L1322.5 1533.04L1323 1533.04L1323.5 1533.04L1324 1533.04L1324.5 1533.04L1325 1533.04L1325.5 1533.04L1326 1533.04L1326.5 1533.04L1327 1533.04L1327.5 1533.04L1328 1533.04L1328.5 1533.04L1329 1533.04L1329.5 1533.05L1330 1533.05L1330.5 1533.05L1331 1533.05L1331.5 1533.05L1332 1533.05L1332.5 1533.05L1333 1533.05L1333.5 1533.05L1334 1533.05L1334.5 1533.05L1335 1533.05L1335.5 1533.05L1336 1533.05L1336.5 1533.05L1337 1533.05L1337.5 1533.05L1338 1533.05L1338.5 1533.05L1339 1533.05L1339.5 1533.05L1340 1533.05L1340.5 1533.05L1341 1533.05L1341.5 1533.05L1342 1533.05L1342.5 1533.05L1343 1533.05L1343.5 1533.05L1344 1533.05L1344.5 1533.05L1345 1533.05L1345.5 1533.05L1346 1533.05L1346.5 1533.05L1347 1533.05L1347.5 1533.05L1348 1533.05L1348.5 1533.05L1349 1533.05L1349.5 1533.05L1350 1533.05L1350.5 1533.04L1351 1533.04L1351.5 1533.04L1352 1533.04L1352.5 1533.04L1353 1533.04L1353.5 1533.04L1354 1533.04L1354.5 1533.04L1355 1533.04L1355.5 1533.04L1356 1533.04L1356.5 1533.04L1357 1533.04L1357.5 1533.04L1358 1533.04L1358.5 1533.04L1359 1533.04L1359.5 1533.04L1360 1533.04L1360.5 1533.03L1361 1533.03L1361.5 1533.03L1362 1533.03L1362.5 1533.03L1363 1533.03L1363.5 1533.03L1364 1533.03L1364.5 1533.03L1365 1533.02L1365.5 1533.02L1366 1533.02L1366.5 1533.02L1367 1533.02L1367.5 1533.02L1368 1533.02L1368.5 1533.01L1369 1533.01L1369.5 1533.01L1370 1533.01L1370.5 1533L1371 1533L1371.5 1533L1372 1533L1372.5 1532.99L1373 1532.99L1373.5 1532.98L1374 1532.98L1374.5 1532.97L1375 1532.97L1375.5 1532.96L1376 1532.95L1376.5 1532.94L1377 1532.93L1377.5 1532.92L1378 1532.91L1378.5 1532.89L1379 1532.87L1379.5 1532.85L1380 1532.82L1380.5 1532.79L1381 1532.76L1381.5 1532.72L1382 1532.67L1382.5 1532.62L1383 1532.56L1383.5 1532.5L1384 1532.43L1384.5 1532.35L1385 1532.27L1385.5 1532.18L1386 1532.08L1386.5 1531.98L1387 1531.87L1387.5 1531.75L1388 1531.63L1388.5 1531.51L1389 1531.39L1389.5 1531.27L1390 1531.15L1390.5 1531.03L1391 1530.92L1391.5 1530.82L1392 1530.73L1392.5 1530.66L1393 1530.6L1393.5 1530.56L1394 1530.53L1394.5 1530.53L1395 1530.55L1395.5 1530.59L1396 1530.64L1396.5 1530.72L1397 1530.8L1397.5 1530.9L1398 1531.01L1398.5 1531.12L1399 1531.24L1399.5 1531.36L1400 1531.49L1400.5 1531.61L1401 1531.73L1401.5 1531.84L1402 1531.95L1402.5 1532.06L1403 1532.16L1403.5 1532.25L1404 1532.33L1404.5 1532.41L1405 1532.48L1405.5 1532.55L1406 1532.6L1406.5 1532.66L1407 1532.7L1407.5 1532.74L1408 1532.78L1408.5 1532.81L1409 1532.84L1409.5 1532.86L1410 1532.88L1410.5 1532.9L1411 1532.91L1411.5 1532.92L1412 1532.94L1412.5 1532.94L1413 1532.95L1413.5 1532.96L1414 1532.97L1414.5 1532.97L1415 1532.98L1415.5 1532.98L1416 1532.98L1416.5 1532.99L1417 1532.99L1417.5 1532.99L1418 1533L1418.5 1533L1419 1533L1419.5 1533L1420 1533L1420.5 1533.01L1421 1533.01L1421.5 1533.01L1422 1533.01L1422.5 1533.01L1423 1533.01L1423.5 1533.01L1424 1533.01L1424.5 1533.02L1425 1533.02L1425.5 1533.02L1426 1533.02L1426.5 1533.02L1427 1533.02L1427.5 1533.02L1428 1533.02L1428.5 1533.02L1429 1533.02L1429.5 1533.02L1430 1533.02L1430.5 1533.02L1431 1533.03L1431.5 1533.03L1432 1533.03L1432.5 1533.03L1433 1533.03L1433.5 1533.03L1434 1533.03L1434.5 1533.03L1435 1533.03L1435.5 1533.03L1436 1533.03L1436.5 1533.03L1437 1533.03L1437.5 1533.03L1438 1533.03L1438.5 1533.03L1439 1533.03L1439.5 1533.03L1440 1533.03L1440.5 1533.03L1441 1533.03L1441.5 1533.03L1442 1533.03L1442.5 1533.03L1443 1533.03L1443.5 1533.03L1444 1533.03L1444.5 1533.03L1445 1533.03L1445.5 1533.03L1446 1533.03L1446.5 1533.03L1447 1533.03L1447.5 1533.03L1448 1533.03L1448.5 1533.03L1449 1533.03L1449.5 1533.03L1450 1533.03L1450.5 1533.03L1451 1533.03L1451.5 1533.03L1452 1533.03L1452.5 1533.03L1453 1533.03L1453.5 1533.03L1454 1533.03L1454.5 1533.03L1455 1533.03L1455.5 1533.03L1456 1533.03L1456.5 1533.03L1457 1533.03L1457.5 1533.03L1458 1533.03L1458.5 1533.03L1459 1533.03L1459.5 1533.03L1460 1533.03L1460.5 1533.03L1461 1533.03L1461.5 1533.03L1462 1533.03L1462.5 1533.03L1463 1533.03L1463.5 1533.03L1464 1533.03L1464.5 1533.03L1465 1533.03L1465.5 1533.03L1466 1533.03L1466.5 1533.03L1467 1533.03L1467.5 1533.03L1468 1533.03L1468.5 1533.03L1469 1533.03L1469.5 1533.03L1470 1533.03L1470.5 1533.03L1471 1533.03L1471.5 1533.03L1472 1533.03L1472.5 1533.03L1473 1533.02L1473.5 1533.02L1474 1533.02L1474.5 1533.02L1475 1533.02L1475.5 1533.02L1476 1533.02L1476.5 1533.02L1477 1533.02L1477.5 1533.02L1478 1533.02L1478.5 1533.02L1479 1533.02L1479.5 1533.02L1480 1533.02L1480.5 1533.02L1481 1533.02L1481.5 1533.02L1482 1533.02L1482.5 1533.02L1483 1533.02L1483.5 1533.02L1484 1533.02L1484.5 1533.02L1485 1533.02L1485.5 1533.02L1486 1533.02L1486.5 1533.02L1487 1533.02L1487.5 1533.02L1488 1533.02L1488.5 1533.02L1489 1533.02L1489.5 1533.02L1490 1533.02L1490.5 1533.02L1491 1533.01L1491.5 1533.01L1492 1533.01L1492.5 1533.01L1493 1533.01L1493.5 1533.01L1494 1533.01L1494.5 1533.01L1495 1533.01L1495.5 1533.01L1496 1533.01L1496.5 1533.01L1497 1533.01L1497.5 1533.01L1498 1533.01L1498.5 1533.01L1499 1533.01L1499.5 1533.01L1500 1533.01L1500.5 1533.01L1501 1533.01L1501.5 1533.01L1502 1533.01L1502.5 1533.02L1503 1533.02L1503.5 1533.02L1504 1533.02L1504.5 1533.02L1505 1533.02L1505.5 1533.02L1506 1533.03L1506.5 1533.03L1507 1533.03L1507.5 1533.03L1508 1533.03L1508.5 1533.03L1509 1533.03L1509.5 1533.04L1510 1533.04L1510.5 1533.04L1511 1533.04L1511.5 1533.04L1512 1533.04L1512.5 1533.04L1513 1533.05L1513.5 1533.05L1514 1533.05L1514.5 1533.05L1515 1533.05L1515.5 1533.05L1516 1533.05L1516.5 1533.06L1517 1533.06L1517.5 1533.06L1518 1533.06L1518.5 1533.06L1519 1533.06L1519.5 1533.06L1520 1533.06L1520.5 1533.07L1521 1533.07L1521.5 1533.07L1522 1533.07L1522.5 1533.07L1523 1533.07L1523.5 1533.07L1524 1533.08L1524.5 1533.08L1525 1533.08L1525.5 1533.08L1526 1533.08L1526.5 1533.08L1527 1533.08L1527.5 1533.08L1528 1533.09L1528.5 1533.09L1529 1533.09L1529.5 1533.09L1530 1533.09L1530.5 1533.09L1531 1533.09L1531.5 1533.09L1532 1533.1L1532.5 1533.1L1533 1533.1L1533.5 1533.1L1534 1533.1L1534.5 1533.1L1535 1533.1L1535.5 1533.1L1536 1533.11L1536.5 1533.11L1537 1533.11L1537.5 1533.11L1538 1533.11L1538.5 1533.11L1539 1533.11L1539.5 1533.11L1540 1533.12L1540.5 1533.12L1541 1533.12L1541.5 1533.12L1542 1533.12L1542.5 1533.12L1543 1533.12L1543.5 1533.12L1544 1533.12L1544.5 1533.13L1545 1533.13L1545.5 1533.13L1546 1533.13L1546.5 1533.13L1547 1533.13L1547.5 1533.13L1548 1533.13L1548.5 1533.13L1549 1533.14L1549.5 1533.14L1550 1533.14L1550.5 1533.14L1551 1533.14L1551.5 1533.14L1552 1533.14L1552.5 1533.14L1553 1533.14L1553.5 1533.15L1554 1533.15L1554.5 1533.15L1555 1533.15L1555.5 1533.15L1556 1533.15L1556.5 1533.15L1557 1533.15L1557.5 1533.15L1558 1533.15L1558.5 1533.16L1559 1533.16L1559.5 1533.16L1560 1533.16L1560.5 1533.16L1561 1533.16L1561.5 1533.16L1562 1533.16L1562.5 1533.16L1563 1533.16L1563.5 1533.16L1564 1533.17L1564.5 1533.17L1565 1533.17L1565.5 1533.17L1566 1533.17L1566.5 1533.17L1567 1533.17L1567.5 1533.17L1568 1533.17L1568.5 1533.17L1569 1533.17L1569.5 1533.17L1570 1533.18L1570.5 1533.18L1571 1533.18L1571.5 1533.18L1572 1533.18L1572.5 1533.18L1573 1533.18L1573.5 1533.18L1574 1533.18L1574.5 1533.18L1575 1533.18L1575.5 1533.18L1576 1533.18L1576.5 1533.18L1577 1533.18L1577.5 1533.18L1578 1533.19L1578.5 1533.19L1579 1533.19L1579.5 1533.19L1580 1533.19L1580.5 1533.19L1581 1533.19L1581.5 1533.19L1582 1533.19L1582.5 1533.19L1583 1533.19L1583.5 1533.19L1584 1533.19L1584.5 1533.19L1585 1533.19L1585.5 1533.19L1586 1533.19L1586.5 1533.19L1587 1533.19L1587.5 1533.19L1588 1533.19L1588.5 1533.19L1589 1533.19L1589.5 1533.19L1590 1533.19L1590.5 1533.19L1591 1533.19L1591.5 1533.19L1592 1533.19L1592.5 1533.19L1593 1533.19L1593.5 1533.19L1594 1533.19L1594.5 1533.19L1595 1533.19L1595.5 1533.19L1596 1533.19L1596.5 1533.19L1597 1533.19L1597.5 1533.19L1598 1533.19L1598.5 1533.19L1599 1533.19L1599.5 1533.19L1600 1533.19L1600.5 1533.18L1601 1533.18L1601.5 1533.18L1602 1533.17L1602.5 1533.17L1603 1533.17L1603.5 1533.17L1604 1533.16L1604.5 1533.16L1605 1533.16L1605.5 1533.15L1606 1533.15L1606.5 1533.15L1607 1533.14L1607.5 1533.14L1608 1533.14L1608.5 1533.13L1609 1533.13L1609.5 1533.13L1610 1533.12L1610.5 1533.12L1611 1533.11L1611.5 1533.11L1612 1533.11L1612.5 1533.1L1613 1533.1L1613.5 1533.09L1614 1533.09L1614.5 1533.08L1615 1533.08L1615.5 1533.07L1616 1533.07L1616.5 1533.06L1617 1533.06L1617.5 1533.05L1618 1533.05L1618.5 1533.04L1619 1533.04L1619.5 1533.03L1620 1533.03L1620.5 1533.02L1621 1533.01L1621.5 1533.01L1622 1533L1622.5 1532.99L1623 1532.99L1623.5 1532.98L1624 1532.97L1624.5 1532.96L1625 1532.96L1625.5 1532.95L1626 1532.94L1626.5 1532.93L1627 1532.92L1627.5 1532.91L1628 1532.9L1628.5 1532.89L1629 1532.88L1629.5 1532.87L1630 1532.86L1630.5 1532.85L1631 1532.84L1631.5 1532.83L1632 1532.81L1632.5 1532.8L1633 1532.79L1633.5 1532.77L1634 1532.76L1634.5 1532.75L1635 1532.73L1635.5 1532.71L1636 1532.7L1636.5 1532.68L1637 1532.66L1637.5 1532.64L1638 1532.62L1638.5 1532.6L1639 1532.58L1639.5 1532.56L1640 1532.54L1640.5 1532.51L1641 1532.49L1641.5 1532.46L1642 1532.43L1642.5 1532.41L1643 1532.38L1643.5 1532.34L1644 1532.31L1644.5 1532.27L1645 1532.24L1645.5 1532.2L1646 1532.15L1646.5 1532.11L1647 1532.06L1647.5 1532.01L1648 1531.95L1648.5 1531.89L1649 1531.83L1649.5 1531.75L1650 1531.67L1650.5 1531.58L1651 1531.48L1651.5 1531.37L1652 1531.24L1652.5 1531.09L1653 1530.92L1653.5 1530.72L1654 1530.49L1654.5 1530.23L1655 1529.92L1655.5 1529.56L1656 1529.15L1656.5 1528.66L1657 1528.11L1657.5 1527.47L1658 1526.74L1658.5 1525.9L1659 1524.96L1659.5 1523.89L1660 1522.7L1660.5 1521.37L1661 1519.9L1661.5 1518.29L1662 1516.54L1662.5 1514.64L1663 1512.61L1663.5 1510.46L1664 1508.19L1664.5 1505.82L1665 1503.37L1665.5 1500.88L1666 1498.36L1666.5 1495.86L1667 1493.41L1667.5 1491.06L1668 1488.85L1668.5 1486.83L1669 1485.05L1669.5 1483.57L1670 1482.42L1670.5 1481.65L1671 1481.27L1671.5 1481.31L1672 1481.77L1672.5 1482.62L1673 1483.83L1673.5 1485.38L1674 1487.21L1674.5 1489.26L1675 1491.51L1675.5 1493.88L1676 1496.34L1676.5 1498.85L1677 1501.36L1677.5 1503.84L1678 1506.27L1678.5 1508.62L1679 1510.87L1679.5 1513L1680 1515L1680.5 1516.86L1681 1518.59L1681.5 1520.17L1682 1521.6L1682.5 1522.9L1683 1524.07L1683.5 1525.11L1684 1526.03L1684.5 1526.84L1685 1527.55L1685.5 1528.17L1686 1528.71L1686.5 1529.17L1687 1529.57L1687.5 1529.92L1688 1530.22L1688.5 1530.47L1689 1530.69L1689.5 1530.88L1690 1531.04L1690.5 1531.19L1691 1531.31L1691.5 1531.42L1692 1531.52L1692.5 1531.6L1693 1531.68L1693.5 1531.75L1694 1531.81L1694.5 1531.87L1695 1531.92L1695.5 1531.97L1696 1532.02L1696.5 1532.06L1697 1532.1L1697.5 1532.13L1698 1532.17L1698.5 1532.2L1699 1532.23L1699.5 1532.26L1700 1532.29L1700.5 1532.32L1701 1532.34L1701.5 1532.37L1702 1532.39L1702.5 1532.41L1703 1532.43L1703.5 1532.45L1704 1532.47L1704.5 1532.49L1705 1532.5L1705.5 1532.52L1706 1532.53L1706.5 1532.55L1707 1532.56L1707.5 1532.58L1708 1532.59L1708.5 1532.6L1709 1532.61L1709.5 1532.62L1710 1532.63L1710.5 1532.64L1711 1532.65L1711.5 1532.66L1712 1532.67L1712.5 1532.68L1713 1532.69L1713.5 1532.7L1714 1532.7L1714.5 1532.71L1715 1532.72L1715.5 1532.72L1716 1532.73L1716.5 1532.74L1717 1532.74L1717.5 1532.75L1718 1532.75L1718.5 1532.76L1719 1532.76L1719.5 1532.77L1720 1532.77L1720.5 1532.77L1721 1532.78L1721.5 1532.78L1722 1532.78L1722.5 1532.79L1723 1532.79L1723.5 1532.79L1724 1532.79L1724.5 1532.8L1725 1532.8L1725.5 1532.8L1726 1532.8L1726.5 1532.8L1727 1532.81L1727.5 1532.81L1728 1532.81L1728.5 1532.81L1729 1532.81L1729.5 1532.81L1730 1532.81L1730.5 1532.81L1731 1532.81L1731.5 1532.81L1732 1532.81L1732.5 1532.81L1733 1532.81L1733.5 1532.81L1734 1532.81L1734.5 1532.81L1735 1532.81L1735.5 1532.81L1736 1532.81L1736.5 1532.81L1737 1532.81L1737.5 1532.81L1738 1532.81L1738.5 1532.81L1739 1532.8L1739.5 1532.8L1740 1532.8L1740.5 1532.8L1741 1532.8L1741.5 1532.8L1742 1532.79L1742.5 1532.79L1743 1532.79L1743.5 1532.79L1744 1532.78L1744.5 1532.78L1745 1532.78L1745.5 1532.78L1746 1532.77L1746.5 1532.77L1747 1532.77L1747.5 1532.76L1748 1532.76L1748.5 1532.76L1749 1532.75L1749.5 1532.75L1750 1532.74L1750.5 1532.74L1751 1532.73L1751.5 1532.72L1752 1532.72L1752.5 1532.71L1753 1532.7L1753.5 1532.7L1754 1532.69L1754.5 1532.68L1755 1532.67L1755.5 1532.67L1756 1532.66L1756.5 1532.65L1757 1532.64L1757.5 1532.63L1758 1532.62L1758.5 1532.62L1759 1532.61L1759.5 1532.6L1760 1532.59L1760.5 1532.58L1761 1532.57L1761.5 1532.56L1762 1532.55L1762.5 1532.54L1763 1532.53L1763.5 1532.52L1764 1532.51L1764.5 1532.5L1765 1532.48L1765.5 1532.47L1766 1532.46L1766.5 1532.45L1767 1532.44L1767.5 1532.42L1768 1532.41L1768.5 1532.4L1769 1532.38L1769.5 1532.37L1770 1532.35L1770.5 1532.34L1771 1532.33L1771.5 1532.31L1772 1532.29L1772.5 1532.28L1773 1532.26L1773.5 1532.24L1774 1532.23L1774.5 1532.21L1775 1532.19L1775.5 1532.17L1776 1532.15L1776.5 1532.13L1777 1532.11L1777.5 1532.09L1778 1532.07L1778.5 1532.05L1779 1532.03L1779.5 1532L1780 1531.98L1780.5 1531.96L1781 1531.93L1781.5 1531.9L1782 1531.88L1782.5 1531.85L1783 1531.82L1783.5 1531.79L1784 1531.76L1784.5 1531.73L1785 1531.7L1785.5 1531.66L1786 1531.63L1786.5 1531.59L1787 1531.56L1787.5 1531.52L1788 1531.48L1788.5 1531.44L1789 1531.4L1789.5 1531.35L1790 1531.31L1790.5 1531.26L1791 1531.21L1791.5 1531.16L1792 1531.11L1792.5 1531.05L1793 1531L1793.5 1530.94L1794 1530.88L1794.5 1530.81L1795 1530.74L1795.5 1530.67L1796 1530.6L1796.5 1530.52L1797 1530.44L1797.5 1530.36L1798 1530.27L1798.5 1530.18L1799 1530.08L1799.5 1529.98L1800 1529.87L1800.5 1529.75L1801 1529.63L1801.5 1529.5L1802 1529.36L1802.5 1529.21L1803 1529.04L1803.5 1528.86L1804 1528.66L1804.5 1528.45L1805 1528.21L1805.5 1527.94L1806 1527.64L1806.5 1527.29L1807 1526.91L1807.5 1526.47L1808 1525.96L1808.5 1525.38L1809 1524.72L1809.5 1523.95L1810 1523.07L1810.5 1522.06L1811 1520.9L1811.5 1519.57L1812 1518.05L1812.5 1516.33L1813 1514.37L1813.5 1512.17L1814 1509.69L1814.5 1506.92L1815 1503.84L1815.5 1500.44L1816 1496.71L1816.5 1492.63L1817 1488.21L1817.5 1483.45L1818 1478.36L1818.5 1472.96L1819 1467.26L1819.5 1461.32L1820 1455.16L1820.5 1448.83L1821 1442.4L1821.5 1435.94L1822 1429.52L1822.5 1423.24L1823 1417.18L1823.5 1411.46L1824 1406.19L1824.5 1401.46L1825 1397.41L1825.5 1394.13L1826 1391.72L1826.5 1390.24L1827 1389.73L1827.5 1390.23L1828 1391.71L1828.5 1394.12L1829 1397.39L1829.5 1401.44L1830 1406.15L1830.5 1411.43L1831 1417.14L1831.5 1423.19L1832 1429.47L1832.5 1435.89L1833 1442.34L1833.5 1448.77L1834 1455.08L1834.5 1461.24L1835 1467.18L1835.5 1472.87L1836 1478.27L1836.5 1483.35L1837 1488.11L1837.5 1492.52L1838 1496.59L1838.5 1500.32L1839 1503.72L1839.5 1506.79L1840 1509.55L1840.5 1512.03L1841 1514.23L1841.5 1516.18L1842 1517.9L1842.5 1519.41L1843 1520.74L1843.5 1521.89L1844 1522.9L1844.5 1523.77L1845 1524.53L1845.5 1525.19L1846 1525.77L1846.5 1526.27L1847 1526.7L1847.5 1527.08L1848 1527.42L1848.5 1527.72L1849 1527.98L1849.5 1528.22L1850 1528.43L1850.5 1528.62L1851 1528.8L1851.5 1528.96L1852 1529.1L1852.5 1529.24L1853 1529.36L1853.5 1529.48L1854 1529.59L1854.5 1529.7L1855 1529.8L1855.5 1529.89L1856 1529.98L1856.5 1530.06L1857 1530.14L1857.5 1530.21L1858 1530.28L1858.5 1530.35L1859 1530.42L1859.5 1530.48L1860 1530.54L1860.5 1530.6L1861 1530.65L1861.5 1530.7L1862 1530.75L1862.5 1530.8L1863 1530.85L1863.5 1530.89L1864 1530.93L1864.5 1530.97L1865 1531.01L1865.5 1531.05L1866 1531.08L1866.5 1531.12L1867 1531.15L1867.5 1531.18L1868 1531.21L1868.5 1531.24L1869 1531.27L1869.5 1531.3L1870 1531.32L1870.5 1531.35L1871 1531.37L1871.5 1531.4L1872 1531.42L1872.5 1531.44L1873 1531.46L1873.5 1531.48L1874 1531.5L1874.5 1531.52L1875 1531.54L1875.5 1531.56L1876 1531.57L1876.5 1531.59L1877 1531.61L1877.5 1531.62L1878 1531.64L1878.5 1531.65L1879 1531.67L1879.5 1531.68L1880 1531.69L1880.5 1531.7L1881 1531.72L1881.5 1531.73L1882 1531.74L1882.5 1531.75L1883 1531.76L1883.5 1531.77L1884 1531.78L1884.5 1531.79L1885 1531.8L1885.5 1531.81L1886 1531.82L1886.5 1531.82L1887 1531.83L1887.5 1531.84L1888 1531.85L1888.5 1531.85L1889 1531.86L1889.5 1531.87L1890 1531.87L1890.5 1531.88L1891 1531.89L1891.5 1531.89L1892 1531.9L1892.5 1531.9L1893 1531.91L1893.5 1531.91L1894 1531.92L1894.5 1531.92L1895 1531.93L1895.5 1531.93L1896 1531.94L1896.5 1531.94L1897 1531.94L1897.5 1531.95L1898 1531.95L1898.5 1531.96L1899 1531.96L1899.5 1531.96L1900 1531.96L1900.5 1531.97L1901 1531.97L1901.5 1531.97L1902 1531.98L1902.5 1531.98L1903 1531.98L1903.5 1531.98L1904 1531.98L1904.5 1531.99L1905 1531.99L1905.5 1531.99L1906 1531.99L1906.5 1531.99L1907 1531.99L1907.5 1532L1908 1532L1908.5 1532L1909 1532L1909.5 1532L1910 1532L1910.5 1532L1911 1532L1911.5 1532L1912 1532L1912.5 1532L1913 1532.01L1913.5 1532.01L1914 1532.01L1914.5 1532.01L1915 1532.01L1915.5 1532.01L1916 1532.01L1916.5 1532.01L1917 1532.01L1917.5 1532.01L1918 1532.01L1918.5 1532.01L1919 1532.01L1919.5 1532.01L1920 1532L1920.5 1532L1921 1532L1921.5 1532L1922 1532L1922.5 1532L1923 1532L1923.5 1532L1924 1532L1924.5 1532L1925 1532L1925.5 1532L1926 1532L1926.5 1531.99L1927 1531.99L1927.5 1531.99L1928 1531.99L1928.5 1531.99L1929 1531.99L1929.5 1531.99L1930 1531.98L1930.5 1531.98L1931 1531.98L1931.5 1531.98L1932 1531.98L1932.5 1531.98L1933 1531.98L1933.5 1531.97L1934 1531.97L1934.5 1531.97L1935 1531.97L1935.5 1531.97L1936 1531.96L1936.5 1531.96L1937 1531.96L1937.5 1531.96L1938 1531.96L1938.5 1531.95L1939 1531.95L1939.5 1531.95L1940 1531.95L1940.5 1531.95L1941 1531.95L1941.5 1531.95L1942 1531.95L1942.5 1531.95L1943 1531.96L1943.5 1531.96L1944 1531.96L1944.5 1531.96L1945 1531.96L1945.5 1531.96L1946 1531.96L1946.5 1531.97L1947 1531.97L1947.5 1531.97L1948 1531.97L1948.5 1531.97L1949 1531.97L1949.5 1531.97L1950 1531.97L1950.5 1531.97L1951 1531.98L1951.5 1531.98L1952 1531.98L1952.5 1531.98L1953 1531.98L1953.5 1531.98L1954 1531.98L1954.5 1531.98L1955 1531.98L1955.5 1531.98L1956 1531.98L1956.5 1531.98L1957 1531.98L1957.5 1531.98L1958 1531.98L1958.5 1531.98L1959 1531.98L1959.5 1531.98L1960 1531.98L1960.5 1531.98L1961 1531.98L1961.5 1531.98L1962 1531.98L1962.5 1531.98L1963 1531.98L1963.5 1531.98L1964 1531.98L1964.5 1531.98L1965 1531.98L1965.5 1531.98L1966 1531.98L1966.5 1531.98L1967 1531.98L1967.5 1531.98L1968 1531.98L1968.5 1531.98L1969 1531.98L1969.5 1531.98L1970 1531.98L1970.5 1531.98L1971 1531.98L1971.5 1531.98L1972 1531.98L1972.5 1531.97L1973 1531.97L1973.5 1531.97L1974 1531.97L1974.5 1531.97L1975 1531.97L1975.5 1531.97L1976 1531.97L1976.5 1531.96L1977 1531.96L1977.5 1531.96L1978 1531.96L1978.5 1531.96L1979 1531.96L1979.5 1531.95L1980 1531.95L1980.5 1531.95L1981 1531.95L1981.5 1531.95L1982 1531.94L1982.5 1531.94L1983 1531.94L1983.5 1531.94L1984 1531.93L1984.5 1531.93L1985 1531.93L1985.5 1531.92L1986 1531.92L1986.5 1531.92L1987 1531.92L1987.5 1531.91L1988 1531.91L1988.5 1531.91L1989 1531.9L1989.5 1531.9L1990 1531.89L1990.5 1531.89L1991 1531.89L1991.5 1531.88L1992 1531.88L1992.5 1531.87L1993 1531.87L1993.5 1531.87L1994 1531.86L1994.5 1531.86L1995 1531.85L1995.5 1531.85L1996 1531.84L1996.5 1531.84L1997 1531.83L1997.5 1531.82L1998 1531.82L1998.5 1531.81L1999 1531.81L1999.5 1531.8L2000 1531.79L2000.5 1531.79L2001 1531.78L2001.5 1531.77L2002 1531.77L2002.5 1531.76L2003 1531.75L2003.5 1531.74L2004 1531.74L2004.5 1531.73L2005 1531.72L2005.5 1531.71L2006 1531.7L2006.5 1531.69L2007 1531.68L2007.5 1531.67L2008 1531.66L2008.5 1531.65L2009 1531.64L2009.5 1531.63L2010 1531.62L2010.5 1531.61L2011 1531.6L2011.5 1531.59L2012 1531.58L2012.5 1531.56L2013 1531.55L2013.5 1531.54L2014 1531.52L2014.5 1531.51L2015 1531.49L2015.5 1531.48L2016 1531.46L2016.5 1531.45L2017 1531.43L2017.5 1531.42L2018 1531.4L2018.5 1531.38L2019 1531.36L2019.5 1531.34L2020 1531.33L2020.5 1531.31L2021 1531.29L2021.5 1531.26L2022 1531.24L2022.5 1531.22L2023 1531.2L2023.5 1531.17L2024 1531.15L2024.5 1531.12L2025 1531.1L2025.5 1531.07L2026 1531.04L2026.5 1531.02L2027 1530.99L2027.5 1530.96L2028 1530.92L2028.5 1530.89L2029 1530.86L2029.5 1530.82L2030 1530.79L2030.5 1530.75L2031 1530.71L2031.5 1530.67L2032 1530.63L2032.5 1530.59L2033 1530.54L2033.5 1530.5L2034 1530.45L2034.5 1530.4L2035 1530.35L2035.5 1530.3L2036 1530.24L2036.5 1530.18L2037 1530.12L2037.5 1530.06L2038 1530L2038.5 1529.93L2039 1529.86L2039.5 1529.78L2040 1529.71L2040.5 1529.63L2041 1529.55L2041.5 1529.46L2042 1529.37L2042.5 1529.27L2043 1529.17L2043.5 1529.07L2044 1528.96L2044.5 1528.84L2045 1528.72L2045.5 1528.59L2046 1528.46L2046.5 1528.31L2047 1528.16L2047.5 1527.99L2048 1527.82L2048.5 1527.62L2049 1527.42L2049.5 1527.19L2050 1526.94L2050.5 1526.67L2051 1526.36L2051.5 1526.03L2052 1525.65L2052.5 1525.22L2053 1524.74L2053.5 1524.2L2054 1523.58L2054.5 1522.88L2055 1522.08L2055.5 1521.17L2056 1520.12L2056.5 1518.94L2057 1517.58L2057.5 1516.04L2058 1514.3L2058.5 1512.33L2059 1510.11L2059.5 1507.62L2060 1504.83L2060.5 1501.73L2061 1498.3L2061.5 1494.51L2062 1490.35L2062.5 1485.81L2063 1480.89L2063.5 1475.58L2064 1469.88L2064.5 1463.81L2065 1457.38L2065.5 1450.62L2066 1443.55L2066.5 1436.23L2067 1428.69L2067.5 1421L2068 1413.23L2068.5 1405.45L2069 1397.75L2069.5 1390.23L2070 1382.99L2070.5 1376.14L2071 1369.8L2071.5 1364.09L2072 1359.12L2072.5 1355.02L2073 1351.88L2073.5 1349.77L2074 1348.76L2074.5 1348.88L2075 1350.11L2075.5 1352.43L2076 1355.78L2076.5 1360.07L2077 1365.19L2077.5 1371.04L2078 1377.5L2078.5 1384.44L2079 1391.75L2079.5 1399.32L2080 1407.04L2080.5 1414.83L2081 1422.59L2081.5 1430.26L2082 1437.76L2082.5 1445.04L2083 1452.05L2083.5 1458.76L2084 1465.12L2084.5 1471.12L2085 1476.74L2085.5 1481.98L2086 1486.83L2086.5 1491.29L2087 1495.38L2087.5 1499.1L2088 1502.47L2088.5 1505.51L2089 1508.24L2089.5 1510.68L2090 1512.85L2090.5 1514.77L2091 1516.48L2091.5 1517.98L2092 1519.3L2092.5 1520.46L2093 1521.48L2093.5 1522.37L2094 1523.16L2094.5 1523.84L2095 1524.45L2095.5 1524.98L2096 1525.45L2096.5 1525.87L2097 1526.24L2097.5 1526.58L2098 1526.88L2098.5 1527.15L2099 1527.4L2099.5 1527.62L2100 1527.83L2100.5 1528.02L2101 1528.2L2101.5 1528.37L2102 1528.52L2102.5 1528.67L2103 1528.81L2103.5 1528.94L2104 1529.06L2104.5 1529.18L2105 1529.29L2105.5 1529.39L2106 1529.5L2106.5 1529.59L2107 1529.69L2107.5 1529.78L2108 1529.86L2108.5 1529.94L2109 1530.02L2109.5 1530.1L2110 1530.17L2110.5 1530.24L2111 1530.31L2111.5 1530.37L2112 1530.44L2112.5 1530.5L2113 1530.55L2113.5 1530.61L2114 1530.66L2114.5 1530.72L2115 1530.77L2115.5 1530.82L2116 1530.86L2116.5 1530.91L2117 1530.95L2117.5 1531L2118 1531.04L2118.5 1531.08L2119 1531.12L2119.5 1531.16L2120 1531.19L2120.5 1531.23L2121 1531.26L2121.5 1531.3L2122 1531.33L2122.5 1531.36L2123 1531.39L2123.5 1531.42L2124 1531.45L2124.5 1531.48L2125 1531.51L2125.5 1531.53L2126 1531.56L2126.5 1531.58L2127 1531.61L2127.5 1531.63L2128 1531.66L2128.5 1531.68L2129 1531.7L2129.5 1531.72L2130 1531.74L2130.5 1531.76L2131 1531.78L2131.5 1531.8L2132 1531.82L2132.5 1531.84L2133 1531.86L2133.5 1531.88L2134 1531.9L2134.5 1531.91L2135 1531.93L2135.5 1531.95L2136 1531.96L2136.5 1531.98L2137 1531.99L2137.5 1532.01L2138 1532.02L2138.5 1532.04L2139 1532.05L2139.5 1532.07L2140 1532.08L2140.5 1532.09L2141 1532.11L2141.5 1532.12L2142 1532.13L2142.5 1532.14L2143 1532.15L2143.5 1532.17L2144 1532.18L2144.5 1532.19L2145 1532.2L2145.5 1532.21L2146 1532.22L2146.5 1532.23L2147 1532.24L2147.5 1532.25L2148 1532.26L2148.5 1532.27L2149 1532.28L2149.5 1532.29L2150 1532.3L2150.5 1532.31L2151 1532.31L2151.5 1532.32L2152 1532.33L2152.5 1532.33L2153 1532.34L2153.5 1532.34L2154 1532.35L2154.5 1532.35L2155 1532.36L2155.5 1532.36L2156 1532.37L2156.5 1532.37L2157 1532.38L2157.5 1532.38L2158 1532.39L2158.5 1532.39L2159 1532.39L2159.5 1532.4L2160 1532.4L2160.5 1532.41L2161 1532.41L2161.5 1532.41L2162 1532.42L2162.5 1532.42L2163 1532.42L2163.5 1532.43L2164 1532.43L2164.5 1532.43L2165 1532.43L2165.5 1532.44L2166 1532.44L2166.5 1532.44L2167 1532.44L2167.5 1532.45L2168 1532.45L2168.5 1532.45L2169 1532.45L2169.5 1532.46L2170 1532.46L2170.5 1532.46L2171 1532.46L2171.5 1532.46L2172 1532.46L2172.5 1532.47L2173 1532.47L2173.5 1532.47L2174 1532.47L2174.5 1532.47L2175 1532.47L2175.5 1532.47L2176 1532.47L2176.5 1532.47L2177 1532.48L2177.5 1532.48L2178 1532.48L2178.5 1532.48L2179 1532.48L2179.5 1532.48L2180 1532.48L2180.5 1532.48L2181 1532.48L2181.5 1532.48L2182 1532.48L2182.5 1532.48L2183 1532.48L2183.5 1532.47L2184 1532.47L2184.5 1532.47L2185 1532.47L2185.5 1532.47L2186 1532.47L2186.5 1532.47L2187 1532.46L2187.5 1532.46L2188 1532.46L2188.5 1532.46L2189 1532.45L2189.5 1532.45L2190 1532.45L2190.5 1532.44L2191 1532.44L2191.5 1532.43L2192 1532.43L2192.5 1532.42L2193 1532.41L2193.5 1532.4L2194 1532.39L2194.5 1532.38L2195 1532.37L2195.5 1532.35L2196 1532.33L2196.5 1532.31L2197 1532.29L2197.5 1532.26L2198 1532.23L2198.5 1532.2L2199 1532.16L2199.5 1532.11L2200 1532.06L2200.5 1532.01L2201 1531.94L2201.5 1531.87L2202 1531.79L2202.5 1531.7L2203 1531.61L2203.5 1531.5L2204 1531.39L2204.5 1531.26L2205 1531.13L2205.5 1530.98L2206 1530.83L2206.5 1530.67L2207 1530.5L2207.5 1530.33L2208 1530.15L2208.5 1529.96L2209 1529.78L2209.5 1529.59L2210 1529.4L2210.5 1529.22L2211 1529.04L2211.5 1528.87L2212 1528.71L2212.5 1528.57L2213 1528.44L2213.5 1528.33L2214 1528.25L2214.5 1528.19L2215 1528.15L2215.5 1528.14L2216 1528.16L2216.5 1528.21L2217 1528.28L2217.5 1528.37L2218 1528.49L2218.5 1528.62L2219 1528.77L2219.5 1528.94L2220 1529.11L2220.5 1529.29L2221 1529.48L2221.5 1529.67L2222 1529.85L2222.5 1530.04L2223 1530.22L2223.5 1530.4L2224 1530.57L2224.5 1530.74L2225 1530.9L2225.5 1531.04L2226 1531.18L2226.5 1531.31L2227 1531.43L2227.5 1531.55L2228 1531.65L2228.5 1531.74L2229 1531.83L2229.5 1531.9L2230 1531.97L2230.5 1532.03L2231 1532.09L2231.5 1532.13L2232 1532.18L2232.5 1532.22L2233 1532.25L2233.5 1532.28L2234 1532.3L2234.5 1532.33L2235 1532.35L2235.5 1532.36L2236 1532.38L2236.5 1532.39L2237 1532.4L2237.5 1532.41L2238 1532.42L2238.5 1532.43L2239 1532.44L2239.5 1532.44L2240 1532.45L2240.5 1532.45L2241 1532.46L2241.5 1532.46L2242 1532.47L2242.5 1532.47L2243 1532.47L2243.5 1532.48L2244 1532.48L2244.5 1532.48L2245 1532.48L2245.5 1532.49L2246 1532.49L2246.5 1532.49L2247 1532.49L2247.5 1532.49L2248 1532.5L2248.5 1532.5L2249 1532.5L2249.5 1532.5L2250 1532.5L2250.5 1532.5L2251 1532.5L2251.5 1532.51L2252 1532.51L2252.5 1532.51L2253 1532.51L2253.5 1532.51L2254 1532.51L2254.5 1532.51L2255 1532.51L2255.5 1532.51L2256 1532.51L2256.5 1532.51L2257 1532.51L2257.5 1532.51L2258 1532.51L2258.5 1532.51L2259 1532.51L2259.5 1532.51L2260 1532.52L2260.5 1532.52L2261 1532.52L2261.5 1532.52L2262 1532.52L2262.5 1532.52L2263 1532.52L2263.5 1532.52L2264 1532.52L2264.5 1532.52L2265 1532.52L2265.5 1532.52L2266 1532.52L2266.5 1532.52L2267 1532.52L2267.5 1532.52L2268 1532.51L2268.5 1532.51L2269 1532.51L2269.5 1532.51L2270 1532.51L2270.5 1532.51L2271 1532.51L2271.5 1532.51L2272 1532.51L2272.5 1532.51L2273 1532.51L2273.5 1532.51L2274 1532.51L2274.5 1532.51L2275 1532.51L2275.5 1532.51L2276 1532.51L2276.5 1532.51L2277 1532.51L2277.5 1532.51L2278 1532.51L2278.5 1532.51L2279 1532.51L2279.5 1532.51L2280 1532.51L2280.5 1532.5L2281 1532.5L2281.5 1532.5L2282 1532.5L2282.5 1532.5L2283 1532.5L2283.5 1532.5L2284 1532.5L2284.5 1532.5L2285 1532.5L2285.5 1532.5L2286 1532.5L2286.5 1532.5L2287 1532.5L2287.5 1532.5L2288 1532.5L2288.5 1532.5L2289 1532.49L2289.5 1532.49L2290 1532.49L2290.5 1532.49L2291 1532.49L2291.5 1532.49L2292 1532.49L2292.5 1532.49L2293 1532.49L2293.5 1532.49L2294 1532.49L2294.5 1532.49L2295 1532.49L2295.5 1532.48L2296 1532.48L2296.5 1532.48L2297 1532.48L2297.5 1532.48L2298 1532.48L2298.5 1532.48L2299 1532.48L2299.5 1532.48L2300 1532.48L2300.5 1532.48L2301 1532.48L2301.5 1532.48L2302 1532.48L2302.5 1532.48L2303 1532.48L2303.5 1532.48L2304 1532.48L2304.5 1532.48L2305 1532.48L2305.5 1532.48L2306 1532.48L2306.5 1532.48L2307 1532.48L2307.5 1532.48L2308 1532.48L2308.5 1532.48L2309 1532.48L2309.5 1532.48L2310 1532.48L2310.5 1532.48L2311 1532.48L2311.5 1532.48L2312 1532.48L2312.5 1532.48L2313 1532.48L2313.5 1532.48L2314 1532.48L2314.5 1532.48L2315 1532.48L2315.5 1532.48L2316 1532.48L2316.5 1532.48L2317 1532.48L2317.5 1532.48L2318 1532.48L2318.5 1532.48L2319 1532.48L2319.5 1532.48L2320 1532.48L2320.5 1532.48L2321 1532.48L2321.5 1532.48L2322 1532.48L2322.5 1532.48L2323 1532.48L2323.5 1532.48L2324 1532.48L2324.5 1532.48L2325 1532.48L2325.5 1532.48L2326 1532.48L2326.5 1532.48L2327 1532.48L2327.5 1532.48L2328 1532.48L2328.5 1532.48L2329 1532.48L2329.5 1532.48L2330 1532.48L2330.5 1532.48L2331 1532.48L2331.5 1532.48L2332 1532.48L2332.5 1532.48L2333 1532.48L2333.5 1532.48L2334 1532.48L2334.5 1532.48L2335 1532.48L2335.5 1532.48L2336 1532.48L2336.5 1532.48L2337 1532.48L2337.5 1532.48L2338 1532.48L2338.5 1532.48L2339 1532.48L2339.5 1532.48L2340 1532.48L2340.5 1532.48L2341 1532.48L2341.5 1532.48L2342 1532.48L2342.5 1532.48L2343 1532.48L2343.5 1532.48L2344 1532.48L2344.5 1532.48L2345 1532.48L2345.5 1532.48L2346 1532.48L2346.5 1532.48L2347 1532.48L2347.5 1532.48L2348 1532.48L2348.5 1532.48L2349 1532.48L2349.5 1532.48L2350 1532.48L2350.5 1532.48L2351 1532.48L2351.5 1532.48L2352 1532.48L2352.5 1532.48L2353 1532.48L2353.5 1532.48L2354 1532.48L2354.5 1532.48L2355 1532.48L2355.5 1532.48L2356 1532.48L2356.5 1532.48L2357 1532.48L2357.5 1532.48L2358 1532.48L2358.5 1532.48L2359 1532.48L2359.5 1532.48L2360 1532.48L2360.5 1532.48L2361 1532.48L2361.5 1532.48L2362 1532.48L2362.5 1532.48L2363 1532.48L2363.5 1532.48L2364 1532.48L2364.5 1532.48L2365 1532.48L2365.5 1532.48L2366 1532.48L2366.5 1532.48L2367 1532.48L2367.5 1532.48L2368 1532.48L2368.5 1532.48L2369 1532.48L2369.5 1532.48L2370 1532.48L2370.5 1532.48L2371 1532.48L2371.5 1532.48L2372 1532.48L2372.5 1532.48L2373 1532.48L2373.5 1532.48L2374 1532.48L2374.5 1532.48L2375 1532.48L2375.5 1532.48L2376 1532.48L2376.5 1532.48L2377 1532.48L2377.5 1532.48L2378 1532.48L2378.5 1532.48L2379 1532.48L2379.5 1532.48L2380 1532.48L2380.5 1532.48L2381 1532.48L2381.5 1532.48L2382 1532.48L2382.5 1532.48L2383 1532.48L2383.5 1532.48L2384 1532.48L2384.5 1532.48L2385 1532.48L2385.5 1532.48L2386 1532.48L2386.5 1532.48L2387 1532.48" fill="none" stroke="#000" stroke-width="6.6" stroke-linejoin="round" stroke-linecap="butt" transform="scale(1 1.13)"/>
<rect x="700" y="108" width="76" height="168" fill="#fff"/>
<g id="peak-labels">
<text transform="translate(356.28 741.18) rotate(-90) scale(0.887 1)" font-size="71.69" font-weight="bold" x="0.9 27.17 70.05 112.92 155.19">(006)</text>
<text transform="translate(597.99 703.59) rotate(-90) scale(0.887 1)" font-size="70.99" font-weight="bold" x="1.28 28.35 72.11 115.88 158.78">(106)</text>
<text transform="translate(663.59 546.66) rotate(-90) scale(0.887 1)" font-size="70.70" font-weight="bold" x="1.27 28.21 71.77 115.33 158.05">(110)</text>
<text transform="translate(711.86 706.78) rotate(-90) scale(0.887 1)" font-size="63.80" font-weight="bold" x="1.07 25.18 64.25 103.31 141.66"><tspan font-weight="normal">(</tspan>008<tspan font-weight="normal">)</tspan></text>
<text transform="translate(756.29 275.26) rotate(-90) scale(0.887 1)" font-size="70.56" font-weight="bold" x="1.39 28.6 72.49 116.37 159.33">(107)</text>
<text transform="translate(846.30 261.09) rotate(-90) scale(0.887 1)" font-size="70.42" font-weight="bold" x="1.43 28.68 72.61 116.54 159.51">(114)</text>
<text transform="translate(898.86 731.81) rotate(-90) scale(0.887 1)" font-size="64.08" font-weight="bold" x="0.75 24.09 62.22 100.36 138">(200)</text>
<text transform="translate(965.06 575.33) rotate(-90) scale(0.887 1)" font-size="64.37" font-weight="bold" x="0.76 24.23 62.57 100.91 138.74">(203)</text>
<text transform="translate(1029.56 777.06) rotate(-90) scale(0.887 1)" font-size="63.52" font-weight="bold" x="0.96 24.66 63.18 101.7 139.58">(204)</text>
<text transform="translate(1107.26 662.10) rotate(-90) scale(0.887 1)" font-size="64.37" font-weight="bold" x="0.73 24.12 62.37 100.61 138.37">(205)</text>
<text transform="translate(1207.36 731.84) rotate(-90) scale(0.887 1)" font-size="63.80" font-weight="bold" x="0.8 24.18 62.34 100.5 138.12">(206)</text>
<text transform="translate(1391.56 803.30) rotate(-90) scale(0.887 1)" font-size="63.66" font-weight="bold" x="0.88 24.43 62.78 101.13 139.48 177.24">(1011)</text>
<text transform="translate(1549.95 796.02) rotate(-90) scale(0.887 1)" font-size="64.65" font-weight="bold" x="0.74 24.23 62.65 101.06 138.98">(209)</text>
<text transform="translate(1743.56 646.87) rotate(-90) scale(0.887 1)" font-size="64.23" font-weight="bold" x="0.82 24.38 62.82 101.26 139.16">(217)</text>
<text transform="translate(1840.75 572.39) rotate(-90) scale(0.887 1)" font-size="64.51" font-weight="bold" x="0.71 24.1 62.35 100.61 138.87 176.65">(2011)</text>
<text transform="translate(2106.05 611.88) rotate(-90) scale(0.887 1)" font-size="64.51" font-weight="bold" x="0.81 24.45 63.03 101.61 139.65">(220)</text>
<text transform="translate(2304.97 768.72) rotate(-90) scale(0.887 1)" font-size="62.96" font-weight="bold" x="1.05 24.8 63.31 101.82 140.33 178.13">(2014)</text>
<text transform="translate(674.22 1529.48) rotate(-90) scale(0.887 1)" font-size="77.89" font-weight="bold" x="1.6 31.82 80.49 129.16 176.76">(220)</text>
<text transform="translate(901.12 1201.72) rotate(-90) scale(0.887 1)" font-size="78.45" font-weight="bold" x="1.39 31.24 79.53 127.82 175.18">(311)</text>
<text transform="translate(992.02 1676.04) rotate(-90) scale(0.887 1)" font-size="78.45" font-weight="bold" x="1.54 31.76 80.52 129.28 177.01">(222)</text>
<text transform="translate(1232.52 1582.31) rotate(-90) scale(0.887 1)" font-size="78.31" font-weight="bold" x="1.51 31.6 80.18 128.77 176.34">(400)</text>
<text transform="translate(1683.42 1657.28) rotate(-90) scale(0.887 1)" font-size="78.31" font-weight="bold" x="1.48 31.5 79.99 128.47 175.97">(422)</text>
<text transform="translate(1853.01 1554.38) rotate(-90) scale(0.887 1)" font-size="78.59" font-weight="bold" x="1.46 31.54 80.13 128.73 176.34">(511)</text>
<text transform="translate(2098.52 1509.74) rotate(-90) scale(0.887 1)" font-size="77.61" font-weight="bold" x="1.57 31.61 80.02 128.42 175.78">(440)</text>
</g>
<text transform="translate(99.10 1290.91) rotate(-90) scale(0.887 1)" font-size="87.99" font-weight="bold" x="1.17 29.35 87.08 120.12 173.97 232.63 285.07 312.09 345.14 397.58 424.6 457.64 510.09 536.87 565.06 622.55 649.57">Intensity (a. u.)</text>
<g id="tick-labels">
<text transform="translate(154.64 1927.09) scale(0.887 1)" font-size="71.27" font-weight="bold" x="1.07 42.85">20</text>
<text transform="translate(375.86 1927.09) scale(0.887 1)" font-size="71.27" font-weight="bold" x="-0.08 39.39">25</text>
<text transform="translate(594.09 1927.09) scale(0.887 1)" font-size="71.27" font-weight="bold" x="0.71 41.78">30</text>
<text transform="translate(814.71 1927.09) scale(0.887 1)" font-size="71.27" font-weight="bold" x="0.24 40.35">35</text>
<text transform="translate(1031.48 1927.09) scale(0.887 1)" font-size="71.27" font-weight="bold" x="1.32 43.59">40</text>
<text transform="translate(1250.91 1927.09) scale(0.887 1)" font-size="71.27" font-weight="bold" x="1.29 43.5">45</text>
<text transform="translate(1473.11 1927.09) scale(0.887 1)" font-size="71.27" font-weight="bold" x="0.67 41.64">50</text>
<text transform="translate(1693.69 1927.09) scale(0.887 1)" font-size="71.27" font-weight="bold" x="-0.32 38.68">55</text>
<text transform="translate(1910.59 1927.09) scale(0.887 1)" font-size="71.27" font-weight="bold" x="1.24 43.36">60</text>
<text transform="translate(2129.26 1927.09) scale(0.887 1)" font-size="71.27" font-weight="bold" x="1.16 43.11">65</text>
<text transform="translate(2347.64 1927.09) scale(0.887 1)" font-size="71.27" font-weight="bold" x="1.6 44.43">70</text>
</g>
<text transform="translate(2043.03 156.09) scale(0.9158 1)" font-size="70.90" font-weight="bold" font-family="'Liberation Serif', serif">SrBaSmFe</text>
<text transform="translate(2156.72 1036.73) scale(0.9586 1)" font-size="66.86" font-weight="bold" font-family="'Liberation Serif', serif">NiZnFe</text>
<clipPath id="xc" clipPathUnits="userSpaceOnUse"><rect x="-200" y="1940" width="600" height="96.2"/></clipPath>
<text id="x-title" transform="translate(1247.00 0) scale(0.887 1)" clip-path="url(#xc)"><tspan x="-2.93" y="2036.20" font-size="83.71" font-weight="bold" font-family="'Liberation Sans', sans-serif">2</tspan><tspan x="48.47" y="2036.35" font-size="84.79" font-weight="bold" font-family="'Liberation Serif', serif">θ</tspan><tspan x="86.36" y="2035.96" font-size="100.21" font-weight="bold" font-family="'Liberation Sans', sans-serif"> (</tspan><tspan x="152.54" y="2035.60" font-size="80.00" font-weight="bold" font-family="'Liberation Sans', sans-serif">°</tspan><tspan x="188.90" y="2035.96" font-size="100.21" font-weight="bold" font-family="'Liberation Sans', sans-serif">)</tspan></text>
<text id="caption" transform="translate(1082.70 0) scale(0.9 1)"><tspan x="-3.88" y="2203.49" font-size="86.22" font-weight="normal" font-family="'Liberation Serif', serif">(</tspan><tspan x="25.97" y="2205.53" font-size="93.68" font-weight="bold" font-family="'Liberation Serif', serif">a</tspan><tspan x="72.52" y="2203.49" font-size="86.22" font-weight="normal" font-family="'Liberation Serif', serif">)</tspan></text>
</svg>
</body></html>
